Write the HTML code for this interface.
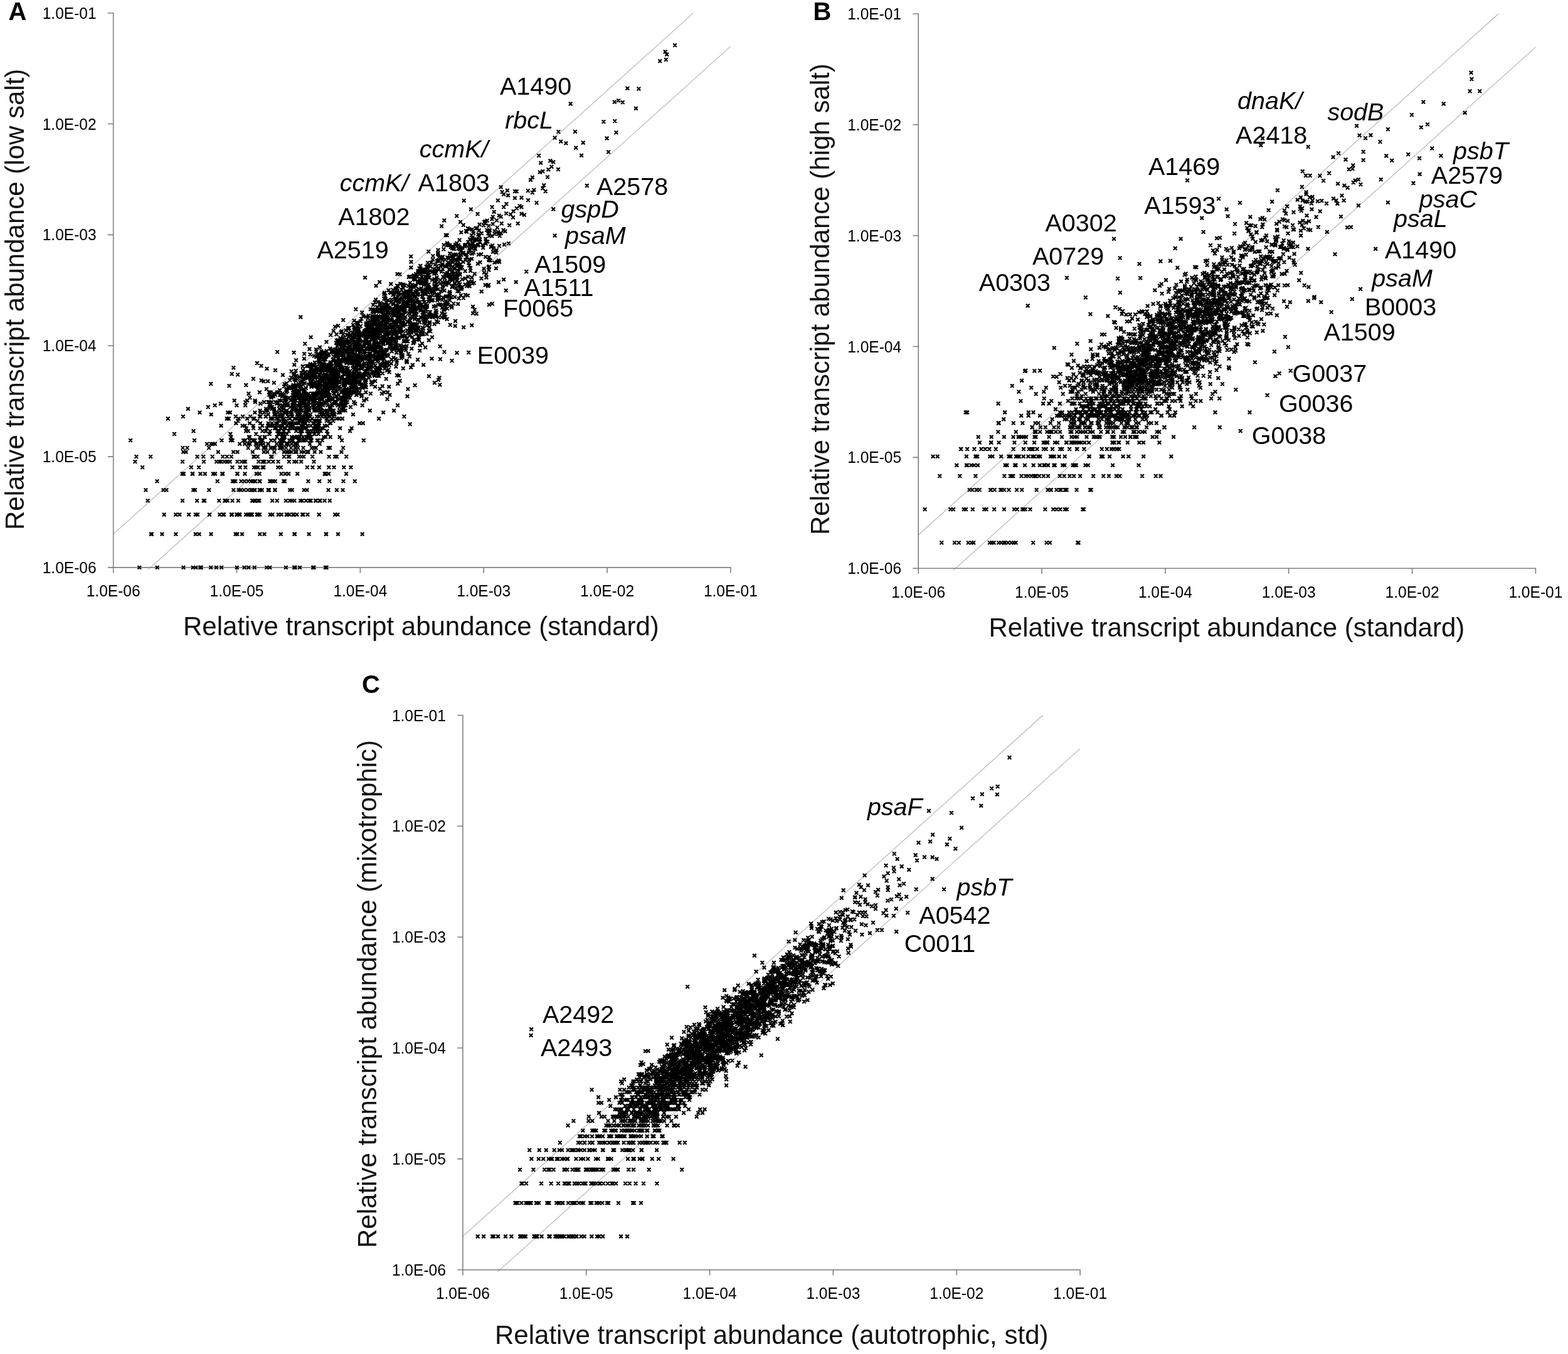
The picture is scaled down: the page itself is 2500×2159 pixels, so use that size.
<!DOCTYPE html>
<html lang="en"><head><meta charset="utf-8"><title>Relative transcript abundance scatter plots</title>
<style>html,body{margin:0;padding:0;background:#fff}body{width:2500px;height:2159px;overflow:hidden}svg{display:block}text{font-family:"Liberation Sans", Arial, Helvetica, sans-serif}</style></head><body>
<svg xmlns="http://www.w3.org/2000/svg" width="2500" height="2159" viewBox="0 0 2500 2159">
<defs><marker id="x" markerUnits="userSpaceOnUse" markerWidth="10" markerHeight="10" refX="5" refY="5" overflow="visible"><path d="M2.9 2.9L7.1 7.1M7.1 2.9L2.9 7.1" stroke="#000" stroke-width="2.3" stroke-linecap="round" fill="none"/></marker></defs>
<rect width="2500" height="2159" fill="#fff"/>
<g id="panelA">
<path d="M180.7 851.7L1105.6 20.7M236.0 908.4L1164.9 73.9" stroke="#b3b3b3" stroke-width="1.1" fill="none"/>
<path d="M180.7 19.9V913.7M171.9 904.9H1165.7M171.9 20.7h8.8M171.9 197.5h8.8M171.9 374.4h8.8M171.9 551.2h8.8M171.9 728.1h8.8M377.5 904.9v8.8M574.4 904.9v8.8M771.2 904.9v8.8M968.1 904.9v8.8M1164.9 904.9v8.8" stroke="#7f7f7f" stroke-width="1.6" fill="none"/>
<g font-size="25" fill="#000">
<text x="153.7" y="913.9" text-anchor="end" textLength="86" lengthAdjust="spacingAndGlyphs">1.0E-06</text>
<text x="153.7" y="737.1" text-anchor="end" textLength="86" lengthAdjust="spacingAndGlyphs">1.0E-05</text>
<text x="153.7" y="560.2" text-anchor="end" textLength="86" lengthAdjust="spacingAndGlyphs">1.0E-04</text>
<text x="153.7" y="383.4" text-anchor="end" textLength="86" lengthAdjust="spacingAndGlyphs">1.0E-03</text>
<text x="153.7" y="206.5" text-anchor="end" textLength="86" lengthAdjust="spacingAndGlyphs">1.0E-02</text>
<text x="153.7" y="29.7" text-anchor="end" textLength="86" lengthAdjust="spacingAndGlyphs">1.0E-01</text>
<text x="180.7" y="951.2" text-anchor="middle" textLength="86" lengthAdjust="spacingAndGlyphs">1.0E-06</text>
<text x="377.5" y="951.2" text-anchor="middle" textLength="86" lengthAdjust="spacingAndGlyphs">1.0E-05</text>
<text x="574.4" y="951.2" text-anchor="middle" textLength="86" lengthAdjust="spacingAndGlyphs">1.0E-04</text>
<text x="771.2" y="951.2" text-anchor="middle" textLength="86" lengthAdjust="spacingAndGlyphs">1.0E-03</text>
<text x="968.1" y="951.2" text-anchor="middle" textLength="86" lengthAdjust="spacingAndGlyphs">1.0E-02</text>
<text x="1164.9" y="951.2" text-anchor="middle" textLength="86" lengthAdjust="spacingAndGlyphs">1.0E-01</text>
</g>
<path d="M472.1,651.8L578.7,582.9L608.2,489.0L420.1,714.1L478.9,660.8L742.2,414.5L447.7,682.9L472.5,627.6L758.5,364.0L614.3,563.0L542.9,539.1L582.1,442.7L627.0,519.9L517.1,601.3L475.5,702.2L670.9,487.7L629.4,528.6L582.4,526.8L682.7,461.6L592.8,583.5L496.8,636.4L594.2,576.2L574.4,555.2L538.6,568.0L605.2,517.5L505.7,627.6L676.6,452.5L705.9,409.5L472.2,687.3L569.8,520.4L517.6,603.8L453.7,612.6L721.4,393.1L559.6,534.7L478.9,631.8L630.3,552.3L496.1,589.3L724.6,427.7L500.5,589.8L424.1,664.1L495.7,636.4L536.6,533.2L570.3,528.0L727.5,424.2L638.2,502.9L534.8,590.9L406.5,702.2L482.9,590.1L567.7,576.3L636.1,511.8L439.1,660.8L424.9,620.3L695.6,449.0L604.1,523.9L526.4,651.8L528.8,643.7L456.5,634.1L487.1,592.9L415.9,707.9L692.5,444.8L569.6,559.1L471.6,591.2L652.7,512.3L494.1,664.1L443.2,641.2L607.2,504.2L721.3,426.1L418.4,687.3L677.8,441.2L492.5,631.8L458.0,643.7L522.1,602.3L648.4,551.7L577.0,587.6L698.9,485.8L500.5,582.7L528.2,584.0L512.3,604.1L792.9,362.9L752.2,442.5L535.2,602.4L561.2,571.3L528.0,610.3L655.3,517.4L429.6,649.0L446.2,629.7L552.4,620.6L508.5,671.1L695.3,504.7L653.6,500.9L591.9,520.6L626.5,519.5L636.5,489.4L668.2,541.8L741.7,453.6L479.6,667.5L615.6,531.8L477.5,619.0L563.2,582.6L670.3,436.2L720.7,457.3L659.9,479.2L540.3,629.7L484.0,629.7L477.6,660.8L508.3,682.9L539.7,598.9L442.7,641.2L707.5,494.1L618.7,496.7L482.9,696.9L578.4,597.4L451.7,629.7L611.0,547.2L504.7,643.7L428.6,678.8L467.1,622.1L594.6,555.1L618.9,510.7L530.9,603.1L620.9,517.7L538.3,601.2L472.9,682.9L528.2,578.2L550.0,610.4L731.6,475.9L467.3,641.2L455.1,636.4L596.4,497.0L774.1,409.6L728.2,344.4L639.2,490.1L445.8,714.1L678.4,516.3L633.6,437.0L477.6,643.7L569.2,581.3L676.5,430.1L645.4,508.4L677.6,467.9L660.4,494.5L514.9,646.3L671.6,459.9L509.7,615.3L475.5,614.3L548.7,646.3L578.3,583.9L520.1,567.6L609.4,520.7L608.5,491.5L507.0,682.9L614.5,491.8L539.7,592.2L651.0,564.2L521.4,627.6L675.2,581.8L555.5,565.8L594.0,493.3L630.3,518.8L584.1,517.1L512.1,660.8L459.4,646.3L530.9,636.4L592.8,576.0L481.3,678.8L675.4,432.5L669.3,488.6L618.9,567.6L724.8,439.4L658.6,486.5L523.7,607.7L621.3,555.2L535.0,601.7L656.5,497.5L547.2,621.8L480.7,646.3L710.6,473.1L635.9,466.6L654.6,463.1L595.9,550.5L668.9,513.7L564.5,556.6L597.7,482.0L443.6,692.0L594.6,504.1L681.8,419.1L641.0,555.3L677.0,432.5L577.8,555.4L713.2,410.5L464.4,602.1L710.2,424.8L543.5,584.7L457.2,646.3L613.5,502.4L566.4,523.7L559.1,649.0L698.5,398.7L475.4,674.8L612.8,508.4L555.1,566.9L586.9,545.1L578.7,552.2L474.1,654.7L582.3,614.2L703.3,410.8L486.6,599.2L398.1,702.2L567.8,602.3L787.7,337.8L432.6,634.1L589.1,538.2L469.0,651.8L556.4,558.0L497.6,634.1L643.9,552.3L590.7,526.1L520.7,667.5L511.5,564.3L705.8,456.0L662.5,516.8L561.3,562.9L552.8,578.8L652.0,472.2L783.0,393.9L482.7,584.2L541.1,616.8L581.1,584.1L448.2,714.1L438.4,714.1L501.1,634.1L547.5,596.4L652.7,529.7L610.7,545.8L565.6,614.8L709.8,436.3L733.1,453.3L541.8,620.2L716.5,430.1L742.9,405.7L553.2,609.8L655.1,496.3L541.9,558.3L480.9,638.7L600.4,553.0L455.2,682.9L627.1,500.2L679.5,493.6L733.4,397.0L564.5,611.0L467.9,619.1L725.3,453.1L707.5,492.9L779.1,454.4L605.9,486.7L630.4,551.8L544.0,590.0L490.4,664.1L521.7,660.8L646.1,488.1L530.9,664.1L636.3,508.8L579.5,613.6L564.8,534.6L779.1,360.2L485.0,638.7L575.3,555.9L482.9,602.5L749.3,398.7L575.7,561.1L532.8,615.1L485.7,621.6L606.0,531.6L551.1,625.5L471.6,654.7L423.5,664.1L549.0,614.0L602.7,518.2L584.2,542.3L723.8,396.8L730.9,390.8L748.4,390.9L675.6,445.0L572.7,542.8L585.6,526.1L550.6,622.5L551.2,636.4L430.7,643.7L675.3,434.5L508.8,612.1L420.8,714.1L569.6,537.3L645.2,536.1L561.2,615.5L541.6,582.6L625.6,492.2L483.9,604.7L605.5,539.1L587.5,520.5L705.2,461.3L555.7,537.4L670.2,493.7L607.3,557.0L503.1,638.7L471.8,714.1L544.4,585.5L534.2,521.0L597.1,553.1L716.6,440.6L542.0,584.5L490.7,629.7L601.2,589.3L368.4,696.9L547.2,654.7L528.8,589.2L547.9,615.1L594.3,534.6L615.0,500.8L656.3,493.1L767.5,444.0L539.0,592.4L624.9,506.5L562.9,606.4L499.9,682.9L717.6,446.6L655.1,517.5L753.7,381.7L684.7,521.7L734.7,400.4L471.9,631.8L404.8,702.2L495.0,588.3L554.7,554.6L635.0,538.4L561.9,578.4L582.7,538.4L660.6,492.1L631.9,494.9L435.5,678.8L509.6,584.2L646.7,517.0L633.5,522.1L552.8,589.3L522.5,566.5L687.6,418.7L517.0,631.8L422.5,696.9L509.2,597.7L412.0,714.1L680.1,504.4L469.8,638.7L787.1,396.1L499.3,597.4L525.7,654.7L603.3,526.9L526.3,555.6L545.7,601.2L462.7,678.8L548.4,590.5L416.6,702.2L502.5,608.8L729.6,442.5L518.7,598.1L515.9,625.5L632.3,552.7L714.1,439.3L522.9,611.8L544.9,588.7L644.1,543.7L672.6,441.6L611.8,539.3L489.1,583.7L489.6,636.4L659.5,489.9L641.4,537.2L721.6,446.3L667.7,450.6L557.2,552.4L473.8,629.7L718.3,442.0L637.6,501.3L600.8,552.0L633.1,507.3L547.3,649.0L535.9,605.2L600.5,508.4L574.1,534.7L642.1,507.8L748.2,423.3L696.2,445.3L547.9,613.3L543.8,604.0L741.2,393.1L549.9,560.8L675.8,489.0L458.0,623.5L565.4,537.8L583.5,592.2L679.4,443.2L711.2,454.3L480.6,594.5L612.9,466.8L616.5,532.9L480.2,678.8L690.0,413.9L594.1,559.9L772.2,353.7L491.3,583.5L585.9,596.2L530.5,562.2L620.6,582.6L610.1,510.1L582.4,540.8L530.9,593.8L580.0,534.5L543.8,530.3L718.4,421.7L568.2,629.7L572.0,545.4L512.4,654.7L511.0,602.0L763.8,367.5L527.9,595.7L706.4,474.5L606.2,526.0L796.1,417.5L484.3,702.2L752.7,387.6L664.9,478.4L598.3,607.6L642.1,488.9L646.8,481.8L564.6,550.3L618.1,546.7L503.8,614.5L631.4,487.8L571.8,596.3L727.1,458.9L513.9,615.0L683.2,453.7L722.6,444.4L775.3,437.2L482.7,674.8L484.7,664.1L503.7,714.1L540.8,636.4L467.2,702.2L479.9,671.1L746.0,364.0L540.7,544.7L615.5,513.9L566.3,610.7L654.0,506.8L678.2,510.4L546.7,649.0L588.9,555.7L460.0,720.7L520.0,664.1L502.1,578.0L526.4,580.2L530.8,622.3L600.4,531.2L533.0,605.4L531.4,600.6L689.0,446.4L399.3,664.1L440.6,682.9L705.0,490.9L617.9,510.1L648.7,577.5L767.7,464.8L500.7,643.7L736.5,426.0L507.8,692.0L584.2,535.0L632.9,479.0L674.6,506.8L509.4,608.7L572.5,530.5L433.5,678.8L520.7,601.0L796.7,376.2L726.8,390.6L602.4,571.0L670.3,528.5L725.1,473.6L532.8,610.7L796.0,392.1L564.7,617.0L482.6,671.1L587.4,520.1L605.8,557.2L636.7,478.6L629.6,512.7L619.5,462.8L737.6,404.2L629.3,556.5L788.8,373.1L582.1,616.9L679.9,447.0L476.3,671.1L721.1,435.3L561.3,572.0L710.7,374.9L529.8,617.6L615.0,514.6L695.9,469.1L642.9,502.8L613.7,583.3L782.9,393.2L455.9,641.2L461.8,682.9L593.5,519.2L764.6,357.9L634.6,473.0L526.7,696.9L464.2,674.8L564.6,552.6L573.4,595.7L570.1,544.6L613.5,566.4L516.4,580.6L712.7,375.2L520.8,641.2L463.9,714.1L537.4,580.0L747.9,455.7L482.8,671.1L517.8,620.2L741.1,390.8L537.2,576.1L694.3,432.1L433.4,631.8L717.1,391.0L506.3,602.6L489.6,687.3L653.7,464.4L769.5,390.8L657.4,479.5L732.6,382.6L593.9,504.2L477.8,638.7L697.2,478.9L550.2,608.3L527.5,636.4L579.2,503.8L425.6,682.9L408.9,714.1L514.0,608.5L606.5,496.7L656.3,555.8L767.2,405.4L683.3,473.1L752.3,449.0L618.7,543.5L650.8,483.3L604.0,519.8L453.0,671.1L660.3,473.3L496.1,609.3L671.6,445.0L568.9,514.4L596.4,597.4L563.1,517.9L449.4,696.9L513.1,660.8L525.9,582.7L536.5,564.1L641.4,513.9L485.4,594.8L563.2,569.7L609.8,561.4L756.8,383.2L452.0,674.8L493.0,651.8L501.5,629.7L483.9,623.5L450.4,667.5L498.2,614.5L502.3,613.8L573.2,567.8L622.2,542.2L541.5,610.3L485.7,610.8L513.7,634.1L486.5,627.6L573.6,609.7L707.9,505.3L644.7,493.8L496.4,587.7L426.4,720.7L561.2,563.3L541.4,649.0L633.3,520.7L454.1,657.7L511.2,646.3L634.4,504.0L598.3,529.1L583.6,555.8L724.8,427.8L466.4,636.4L494.1,664.1L597.6,569.3L597.5,558.7L791.7,398.8L604.0,563.9L659.8,439.1L638.2,550.7L473.7,646.3L608.4,581.9L525.6,602.7L540.1,574.5L481.8,687.3L392.1,687.3L699.2,430.2L644.9,473.0L657.3,527.5L520.7,671.1L556.1,594.4L488.2,696.9L608.4,557.0L692.5,449.6L667.3,468.7L746.4,441.3L512.9,682.9L639.6,571.1L471.4,617.0L589.2,546.9L465.2,660.8L590.3,563.3L590.8,493.2L536.9,667.5L537.6,551.7L642.9,519.7L573.6,560.6L553.4,558.9L466.1,646.3L519.1,617.1L696.1,497.9L784.6,330.1L544.0,625.5L707.7,390.6L709.2,443.5L500.7,649.0L516.7,641.2L637.8,527.0L525.7,664.1L765.2,381.8L541.8,607.7L649.5,465.5L641.6,568.9L499.4,591.7L705.3,422.9L531.9,606.3L465.1,696.9L565.6,625.5L617.7,496.2L516.0,623.5L693.8,421.9L514.9,589.2L696.3,470.1L424.1,714.1L513.6,614.1L482.8,612.0L564.4,522.5L537.9,608.8L549.9,646.3L698.2,405.3L601.7,509.3L609.3,562.5L548.6,574.2L679.0,508.6L579.4,599.8L655.1,465.0L732.6,412.3L611.3,541.8L561.0,618.5L513.8,634.1L731.2,410.6L662.0,465.4L675.5,430.8L501.7,629.7L561.4,542.4L714.4,485.5L508.8,664.1L681.5,436.9L589.8,573.9L500.9,687.3L544.6,553.5L450.5,660.8L630.3,475.3L648.3,474.6L524.4,611.8L663.5,473.0L495.5,678.8L589.4,537.2L678.1,507.8L598.9,516.8L469.8,696.9L729.4,464.2L655.3,426.7L597.4,538.7L533.1,618.7L602.5,535.6L549.0,607.0L468.4,643.7L469.7,625.5L433.3,641.2L486.3,634.1L508.7,674.8L618.4,486.8L601.9,599.2L604.9,589.0L684.9,516.0L459.0,664.1L548.3,568.3L452.0,687.3L556.5,619.8L445.6,646.3L462.8,649.0L548.6,607.2L661.4,508.8L519.0,602.8L653.6,440.9L505.2,616.4L520.5,545.2L571.0,579.7L449.9,631.8L564.8,568.2L602.9,525.4L686.0,503.8L440.0,678.8L675.7,453.9L598.8,573.2L601.3,489.5L437.0,651.8L712.4,424.4L517.7,571.3L592.1,540.1L589.8,654.7L729.9,415.5L608.1,552.7L504.8,678.8L626.8,514.2L600.9,561.7L582.7,608.7L616.0,511.1L593.3,569.3L534.1,613.9L620.3,491.7L453.9,631.8L573.1,537.2L565.8,544.5L499.3,649.0L598.3,582.7L629.2,526.0L470.8,627.6L523.2,621.0L443.3,657.7L606.9,568.6L453.1,616.2L504.0,557.1L564.5,533.6L565.5,525.0L757.6,392.9L504.2,560.4L610.7,575.7L501.9,592.0L606.5,559.3L538.5,542.2L529.2,619.3L571.8,536.7L603.7,517.8L607.2,508.2L635.3,524.6L515.2,582.1L457.5,692.0L510.9,654.7L531.4,671.1L609.9,595.3L555.3,563.7L527.1,649.0L460.3,664.1L606.7,483.2L465.0,707.9L583.7,505.2L635.2,539.0L614.6,543.0L482.9,702.2L539.3,548.7L752.1,412.7L457.1,657.7L632.1,537.9L561.3,625.5L611.8,511.7L549.6,544.5L470.3,707.9L596.7,544.6L704.3,505.9L675.2,477.7L544.2,553.2L589.5,535.1L586.7,583.4L794.9,415.4L432.2,702.2L523.4,585.3L553.3,634.1L670.7,495.3L649.4,485.8L557.7,568.2L398.5,707.9L622.3,520.1L553.2,589.1L467.7,646.3L617.1,498.3L563.7,601.7L525.8,618.8L515.4,598.0L584.8,548.4L509.3,588.9L549.5,612.7L753.0,452.0L572.7,552.2L510.9,649.0L584.9,537.8L734.7,428.1L705.4,414.9L631.6,530.3L723.2,441.0L659.0,467.5L632.5,578.7L559.0,627.6L479.4,667.5L650.1,513.1L618.1,532.0L779.4,430.5L529.8,599.3L710.8,480.1L500.9,616.3L756.7,436.6L530.8,605.7L780.0,425.0L629.5,554.9L474.2,707.9L509.7,579.3L755.1,371.9L677.7,430.5L559.2,617.8L660.7,472.8L725.1,444.5L524.0,629.7L709.6,414.1L515.5,562.4L531.9,603.8L432.9,667.5L483.1,641.2L593.3,578.8L415.2,674.8L591.9,518.8L486.2,657.7L656.1,522.0L471.9,682.9L497.5,595.5L515.3,631.8L602.6,534.2L679.2,454.1L657.7,520.7L653.4,529.5L633.1,455.4L591.2,532.4L535.7,631.8L489.3,657.7L704.1,433.0L553.9,596.5L623.0,466.8L540.7,548.1L461.2,619.0L538.9,578.4L650.5,532.2L535.3,623.5L633.2,488.9L470.1,634.1L547.2,569.4L554.1,572.3L581.4,528.0L503.7,597.2L638.7,521.5L713.8,389.9L680.9,487.2L575.6,531.4L536.1,601.6L599.7,567.8L453.8,638.7L649.3,513.3L555.9,573.6L754.6,388.1L556.2,623.5L575.2,566.6L688.9,434.0L658.9,546.6L490.0,651.8L526.2,606.7L651.4,499.1L556.7,523.0L513.7,702.2L744.0,456.2L694.3,499.8L539.2,519.3L593.0,509.1L743.0,368.1L500.3,631.8L729.4,436.0L714.9,422.2L648.2,473.6L634.5,500.9L634.1,512.2L591.4,585.3L602.5,505.0L494.7,598.1L596.7,548.2L630.2,513.4L574.9,512.4L632.3,465.9L567.3,617.9L677.2,503.5L646.2,469.1L456.4,671.1L663.7,440.7L519.8,568.9L453.0,667.5L469.4,604.6L530.6,605.1L585.8,567.4L532.3,596.5L496.5,607.4L663.7,482.0L544.2,548.5L709.3,501.0L508.4,577.2L635.7,539.2L539.7,570.6L697.4,471.4L621.8,547.3L632.0,562.2L458.0,720.7L657.0,457.5L538.9,559.6L653.0,524.4L695.3,435.5L469.8,674.8L659.5,501.1L780.2,376.2L724.0,436.0L561.1,610.7L690.0,504.0L414.7,702.2L441.4,667.5L602.2,494.5L586.7,507.3L686.2,424.8L505.2,590.8L568.6,593.0L810.0,311.5L524.8,607.6L552.6,622.1L610.0,501.2L490.2,651.8L636.1,529.3L555.2,524.8L551.5,631.8L511.9,649.0L569.3,546.6L600.3,495.6L549.2,554.2L580.5,560.4L618.6,508.3L698.3,415.6L596.3,534.2L546.6,557.2L771.9,434.6L433.4,651.8L728.9,438.9L514.5,657.7L480.2,641.2L547.3,586.2L535.8,614.5L539.0,581.7L698.0,470.6L521.4,614.7L473.6,707.9L500.0,638.7L759.8,382.8L559.2,572.0L540.6,562.9L666.8,524.1L747.8,414.5L581.8,597.4L681.8,460.0L514.1,583.6L537.8,563.0L600.8,537.0L506.0,588.1L517.1,610.0L491.7,612.9L513.5,588.7L692.6,516.9L673.6,502.3L466.6,618.2L537.4,565.4L646.7,535.2L702.2,446.6L596.0,516.0L648.2,575.2L506.3,625.5L668.5,449.6L684.4,459.1L553.3,560.8L505.9,590.0L424.1,651.8L616.6,557.7L617.5,577.3L584.6,533.1L750.1,431.9L475.3,696.9L440.9,678.8L561.4,542.2L547.2,625.5L707.4,397.4L445.6,692.0L495.6,537.7L749.7,382.1L512.6,654.7L549.8,623.5L520.5,620.2L608.6,516.8L612.3,476.1L610.3,571.0L623.2,452.7L612.1,485.5L624.4,477.6L602.9,494.3L500.6,601.7L556.7,608.1L506.4,609.0L706.3,450.7L518.1,591.2L483.9,622.2L674.4,431.8L660.6,439.8L698.5,513.9L631.6,487.1L556.0,602.4L572.1,609.5L594.6,531.3L606.5,583.0L755.8,451.1L514.3,664.1L663.4,518.4L492.5,696.9L755.0,402.7L510.3,657.7L582.0,560.2L734.1,413.9L624.4,525.3L575.7,603.3L639.7,468.9L793.0,417.5L752.3,366.0L489.8,634.1L476.2,603.0L520.7,559.6L478.0,629.7L661.7,446.0L690.1,471.0L476.5,654.7L449.0,692.0L530.6,611.3L634.8,492.8L664.0,502.1L568.0,620.9L619.5,589.4L734.8,470.8L712.6,449.9L468.1,651.8L643.6,480.3L666.5,435.0L728.2,387.9L556.3,554.4L481.7,599.0L571.6,537.8L543.2,553.0L549.6,629.7L676.9,453.1L623.5,529.4L632.5,496.1L623.8,542.7L476.8,623.5L441.3,643.7L550.0,612.9L697.4,470.6L622.5,518.5L672.3,441.1L614.5,518.6L669.5,428.3L643.6,552.4L703.1,464.3L785.7,357.2L653.1,568.4L681.1,425.6L451.6,696.9L738.8,358.9L506.4,671.1L525.5,587.6L474.5,696.9L618.1,625.5L675.4,496.8L523.6,599.0L654.3,520.8L730.3,484.7L635.9,513.8L558.1,579.7L615.2,558.1L700.0,475.5L642.9,514.9L510.6,593.2L390.4,678.8L712.4,483.7L614.7,488.1L444.1,625.5L593.4,609.3L604.5,505.5L522.2,646.3L715.8,423.4L507.0,674.8L477.5,671.1L526.6,636.4L534.6,592.2L714.7,391.0L625.1,535.7L469.7,641.2L549.6,597.4L462.2,606.2L641.0,569.0L699.9,416.4L578.9,570.2L508.4,671.1L519.9,589.2L655.4,523.3L791.2,402.7L518.1,563.6L591.0,514.4L526.9,556.4L443.4,671.1L608.5,571.6L481.5,609.1L635.0,558.6L655.5,478.5L477.0,671.1L606.6,586.4L497.9,581.5L661.4,445.4L520.1,568.5L635.6,494.2L622.3,550.1L600.4,586.8L500.6,611.4L690.3,408.1L539.0,583.7L664.2,465.6L572.0,533.7L564.5,589.2L643.2,528.3L535.2,599.4L661.5,516.3L563.7,607.0L653.1,479.8L638.3,452.5L755.9,392.8L553.7,604.3L537.4,636.4L583.5,544.0L556.4,607.4L639.4,526.0L510.0,643.7L767.8,372.0L657.9,517.1L622.6,519.1L521.8,678.8L679.6,460.8L735.9,460.5L672.3,431.8L731.4,433.0L457.7,678.8L653.4,520.7L705.4,486.0L572.3,525.6L452.4,651.8L591.0,557.2L507.8,634.1L423.7,687.3L748.0,396.3L689.4,503.1L618.1,567.2L656.0,487.2L629.7,525.0L568.6,591.3L469.4,627.6L520.9,654.7L580.6,572.2L602.4,481.4L524.4,565.6L471.6,638.7L535.6,596.9L491.1,646.3L744.0,369.7L501.6,627.6L549.7,617.8L590.8,552.4L510.6,654.7L577.5,585.1L593.9,566.4L435.7,714.1L757.7,396.5L589.6,578.9L478.3,643.7L798.8,371.8L485.7,641.2L648.5,544.0L574.0,600.6L512.1,643.7L545.8,543.0L573.7,601.2L543.4,646.3L509.1,671.1L555.7,627.6L561.2,556.5L635.0,504.4L494.7,608.8L690.1,478.6L447.1,714.1L617.2,512.9L592.8,542.0L788.5,368.4L492.4,646.3L716.7,437.2L472.7,720.7L486.7,674.8L624.1,501.3L484.8,720.7L603.7,553.3L630.9,479.8L471.0,720.7L671.8,452.4L557.7,603.8L778.4,372.3L398.1,696.9L613.8,524.9L512.0,660.8L552.1,586.0L729.2,406.2L536.0,577.9L437.1,654.7L477.3,660.8L594.7,524.7L665.8,522.3L659.4,483.9L571.0,554.2L507.0,646.3L472.1,654.7L502.2,671.1L495.5,610.2L728.3,447.4L553.5,590.3L467.7,634.1L619.2,489.6L567.1,588.5L795.0,372.8L756.7,494.1L513.5,636.4L689.7,465.0L566.5,607.2L630.4,477.0L624.0,481.9L650.1,480.8L562.4,561.1L478.5,702.2L677.5,430.7L562.4,587.1L562.9,530.4L659.9,488.9L634.3,611.8L548.0,610.3L618.2,526.3L454.0,696.9L466.1,664.1L511.3,564.9L518.4,589.0L564.0,600.8L503.9,654.7L748.2,413.6L559.0,534.7L546.5,638.7L725.0,451.8L674.0,468.2L664.0,525.1L732.5,393.6L651.7,441.8L525.6,629.7L771.7,428.5L418.6,702.2L722.1,409.5L556.7,531.0L534.4,616.4L571.8,534.1L551.3,625.5L702.5,423.6L678.2,511.5L655.3,463.4L505.0,664.1L562.3,596.0L450.0,627.6L653.8,493.0L550.2,631.8L480.0,654.7L698.5,403.7L735.5,406.7L521.1,638.7L708.5,463.3L488.8,702.2L642.9,466.6L510.1,671.1L563.8,541.5L611.0,493.8L538.0,607.8L494.8,660.8L604.1,554.2L673.3,489.5L530.2,636.4L512.1,566.8L450.6,631.8L496.8,583.4L509.9,553.7L648.0,464.6L466.9,678.8L621.8,466.2L522.6,616.2L503.9,671.1L574.3,543.2L561.3,573.0L564.2,641.2L468.0,597.9L597.3,599.3L725.0,421.4L452.8,687.3L603.6,548.2L529.1,584.1L510.5,619.6L526.3,651.8L737.0,445.4L612.8,485.4L514.5,568.1L450.3,664.1L589.6,580.2L728.8,436.6L437.9,660.8L420.8,720.7L516.5,660.8L485.0,571.8L779.9,369.9L665.9,470.5L750.8,333.7L601.8,570.0L684.5,442.0L642.1,488.3L521.8,657.7L623.8,540.4L521.0,629.7L569.0,591.4L685.2,476.2L501.5,597.9L487.8,651.8L698.2,476.9L568.7,591.5L487.5,667.5L528.9,559.6L518.6,629.7L721.5,412.7L571.4,532.5L736.6,457.9L570.7,548.6L750.9,390.9L734.1,460.6L598.2,508.1L670.3,450.9L520.4,631.8L467.2,651.8L609.0,528.9L439.5,641.2L569.9,546.7L613.7,541.6L663.0,456.5L721.8,416.4L496.6,594.1L705.0,478.2L577.9,574.0L614.6,493.3L568.4,583.4L696.5,442.5L524.0,592.0L688.1,464.9L626.6,483.8L644.7,487.1L470.5,667.5L497.3,597.6L615.4,513.3L655.5,417.5L626.4,462.1L606.5,528.6L624.4,551.5L478.9,649.0L565.3,558.4L532.1,654.7L651.6,464.9L583.8,527.2L645.9,474.1L637.4,511.7L726.9,414.8L700.5,469.6L437.3,720.7L628.5,513.4L544.1,559.0L461.4,720.7L572.9,575.0L694.4,455.6L674.3,473.0L463.4,638.7L496.1,696.9L637.4,437.3L779.8,409.8L451.0,692.0L456.2,714.1L637.6,523.3L612.5,578.6L680.3,519.0L494.9,702.2L577.3,498.4L676.1,514.5L546.5,558.3L551.2,545.0L423.9,687.3L674.9,488.1L564.1,577.2L545.3,641.2L624.6,560.3L698.9,505.9L705.4,421.1L535.7,558.4L610.2,492.8L547.9,634.1L692.4,461.4L673.1,472.9L626.6,493.8L685.6,431.8L581.7,579.7L599.2,477.9L483.9,636.4L641.8,566.4L520.7,610.7L596.5,533.6L550.6,641.2L612.5,572.2L617.0,534.6L597.1,543.7L510.5,597.7L624.3,573.3L626.5,470.3L604.7,497.1L545.1,636.4L480.4,621.2L595.0,535.4L437.5,660.8L733.9,426.9L538.4,646.3L519.3,696.9L565.3,564.3L714.8,421.6L685.5,497.5L600.0,526.2L751.9,395.6L532.4,588.0L569.2,576.4L486.7,649.0L558.1,634.1L741.8,443.9L627.1,541.7L591.9,609.3L589.1,520.2L618.3,503.9L610.7,495.3L565.8,564.3L581.9,534.0L461.6,702.2L563.3,565.0L630.8,459.8L502.3,601.7L517.6,629.7L677.7,469.1L474.7,627.6L494.1,594.3L683.4,434.5L469.3,581.7L524.2,614.3L730.1,423.2L554.9,555.6L683.0,457.7L661.9,491.3L410.5,671.1L501.2,674.8L731.1,455.6L529.9,591.2L552.4,558.7L747.2,419.3L464.9,657.7L784.2,376.3L621.9,522.4L616.3,583.2L617.0,529.8L685.0,505.7L549.7,551.2L449.0,707.9L473.4,667.5L451.2,649.0L555.4,597.4L682.8,435.1L441.5,696.9L552.9,558.5L551.6,547.4L550.8,638.7L586.4,513.1L588.9,545.2L496.6,616.9L673.5,522.4L583.7,517.5L538.3,646.3L775.0,385.3L641.1,535.5L484.0,664.1L781.0,367.2L601.3,562.0L535.1,576.2L506.3,565.7L446.4,707.9L508.2,574.7L521.0,603.8L536.1,575.4L807.4,325.2L605.5,586.9L493.1,654.7L543.3,634.1L560.2,545.5L453.8,696.9L570.1,577.4L581.2,551.5L729.7,431.0L560.5,594.4L635.3,470.0L632.4,490.3L487.8,619.0L598.1,616.6L564.8,552.9L483.9,671.1L415.2,657.7L457.0,654.7L716.1,471.9L542.2,547.1L453.1,643.7L775.5,442.5L626.2,496.2L552.6,541.1L692.0,502.9L641.7,471.2L555.6,567.6L645.2,454.9L652.2,468.7L486.9,671.1L644.7,493.9L734.1,353.9L635.0,482.2L675.5,508.8L674.3,430.9L570.5,570.7L596.6,506.2L662.8,525.0L617.5,547.9L447.9,629.7L442.3,674.8L516.4,582.2L683.3,401.1L501.8,692.0L529.3,597.0L685.4,497.7L472.2,613.7L518.4,584.3L511.8,631.8L653.9,470.9L529.7,616.3L553.4,608.5L533.1,643.7L445.3,692.0L695.1,430.3L474.3,629.7L520.0,600.2L646.2,543.6L537.3,623.5L580.8,546.2L532.3,590.3L596.0,594.9L528.8,657.7L566.8,551.6L404.1,682.9L580.8,529.3L682.8,438.7L677.0,496.3L585.8,579.0L621.2,539.2L629.7,500.4L649.3,485.3L536.0,546.6L564.1,557.7L667.4,433.8L500.1,627.6L459.3,616.9L723.1,484.1L720.2,490.3L733.0,425.0L484.8,667.5L658.4,519.1L520.9,582.8L515.9,696.9L716.3,468.2L661.8,444.5L561.2,600.2L804.1,390.0L599.0,593.4L646.4,505.4L434.3,678.8L675.0,497.8L692.0,429.0L713.1,387.6L614.3,471.7L427.8,707.9L706.0,428.9L557.4,535.5L494.4,582.4L497.9,627.6L495.9,596.6L682.2,425.5L735.3,370.5L406.4,657.7L646.9,488.2L504.4,569.3L583.1,546.5L488.5,602.2L723.6,410.3L481.6,682.9L569.7,558.1L610.3,535.8L566.0,610.6L500.2,674.8L521.2,597.4L747.0,449.6L470.9,619.3L729.1,420.8L715.9,411.9L634.2,554.5L571.1,526.7L761.9,420.5L554.9,634.1L561.0,538.0L587.1,555.2L592.6,613.0L717.0,478.7L446.3,702.2L699.5,410.0L585.2,516.8L650.2,544.2L555.1,523.1L523.0,623.5L533.8,619.0L516.9,577.4L566.0,600.8L607.1,566.8L688.8,479.3L487.6,618.7L565.1,572.4L588.0,567.9L683.3,500.7L642.6,453.5L614.7,476.9L630.7,572.5L564.6,511.3L678.4,441.4L691.7,488.9L597.8,511.9L467.8,613.9L558.5,599.8L514.1,621.0L493.0,687.3L523.1,616.0L683.8,443.0L537.1,567.8L559.5,627.6L546.6,646.3L490.8,598.8L599.3,507.7L555.9,563.7L748.6,456.3L613.2,539.5L701.8,485.3L576.3,616.9L405.8,702.2L499.2,601.4L468.7,646.3L652.1,487.5L621.4,516.9L530.2,654.7L573.5,550.0L659.0,547.3L523.6,581.7L486.8,674.8L520.7,625.5L754.4,368.4L593.9,528.8L520.4,619.2L446.6,671.1L533.4,608.7L611.9,581.0L566.9,546.3L680.8,489.0L599.0,513.2L536.3,578.0L673.6,462.9L456.2,625.5L660.1,542.3L713.4,422.4L666.3,481.3L460.5,674.8L602.1,505.3L676.6,481.7L554.5,533.9L694.7,457.3L485.0,627.6L587.0,531.1L595.5,566.8L671.0,533.3L554.6,544.8L512.3,562.8L643.2,498.4L466.7,629.7L542.6,539.9L570.0,542.0L670.8,505.8L558.1,552.5L596.6,539.4L632.0,518.3L631.1,515.6L774.3,380.7L568.7,569.4L599.4,503.7L409.8,707.9L493.0,641.2L509.6,570.5L498.7,646.3L584.3,522.0L495.2,634.1L598.9,561.7L686.6,501.9L448.8,702.2L507.9,590.4L578.0,574.4L433.8,649.0L477.3,600.6L600.3,546.9L551.2,576.2L726.0,405.7L599.0,570.5L659.1,519.7L536.6,612.8L545.1,641.2L699.1,429.0L612.3,504.6L732.8,436.6L510.6,636.4L466.9,641.2L631.6,545.6L470.8,634.1L450.4,660.8L548.7,557.7L634.6,480.3L540.5,579.5L657.7,471.6L566.5,614.5L519.8,566.3L588.6,557.1L609.1,582.8L479.6,651.8L605.2,449.7L485.8,646.3L779.8,367.1L587.8,602.5L497.0,687.3L431.4,625.5L499.7,602.3L529.1,559.4L599.9,506.6L627.2,485.4L643.0,459.4L562.6,540.1L616.8,505.4L594.1,566.8L523.0,660.8L501.0,654.7L551.1,591.8L635.7,496.9L474.2,696.9L618.6,532.4L490.5,671.1L629.2,503.2L679.1,507.0L662.9,501.5L633.6,534.0L511.1,589.3L807.2,340.3L608.0,514.3L730.0,413.4L748.5,365.3L506.7,617.7L781.8,415.2L452.9,682.9L619.0,499.0L511.9,627.6L458.5,707.9L598.7,527.6L499.1,636.4L670.3,423.9L568.3,625.5L515.6,682.9L636.4,510.0L618.7,478.8L677.9,462.7L546.8,592.4L733.1,457.4L414.8,707.9L735.7,399.5L662.0,454.6L462.0,667.5L456.7,707.9L656.9,454.1L508.3,682.9L636.1,502.2L691.5,429.0L468.1,623.5L530.8,573.4L720.9,395.9L572.7,575.5L480.7,616.6L455.4,634.1L470.0,600.2L463.4,674.8L539.6,617.1L666.5,509.8L565.9,532.3L460.3,687.3L538.4,582.7L574.4,572.5L564.6,625.5L620.2,490.9L632.7,496.1L655.7,483.1L589.0,525.0L421.3,657.7L663.8,496.0L669.0,484.8L649.2,469.9L561.6,538.9L716.3,429.2L459.5,707.9L653.0,535.4L606.6,543.1L639.2,564.2L446.1,622.2L779.8,414.9L421.6,696.9L488.4,601.3L583.6,606.1L599.7,557.0L488.7,682.9L520.5,629.7L733.2,397.6L529.9,603.7L563.7,622.1L465.7,674.8L598.6,589.2L639.4,560.2L653.2,511.4L505.0,594.1L542.9,590.2L624.3,521.9L785.8,345.6L663.9,462.6L501.1,651.8L445.2,651.8L531.8,590.6L587.2,586.6L516.2,618.3L671.7,460.1L511.8,625.5L470.4,714.1L608.5,583.3L660.3,445.2L496.9,614.5L533.3,660.8L512.7,603.5L420.2,707.9L633.4,465.3L436.8,651.8L611.3,512.6L615.9,533.7L587.4,572.8L431.3,714.1L427.6,641.2L583.1,528.1L576.3,508.3L396.9,696.9L665.2,527.0L530.8,560.7L644.9,497.7L495.0,671.1L514.4,592.1L722.7,455.7L494.8,580.3L553.6,546.8L578.5,544.3L643.1,482.9L529.7,557.6L622.7,521.5L501.9,678.8L632.9,491.0L491.5,720.7L461.9,657.7L655.9,530.3L568.9,577.6L669.1,446.9L788.5,418.7L491.3,602.3L663.6,490.2L784.4,349.3L526.6,609.0L451.0,671.1L568.3,597.5L591.0,519.1L635.1,493.8L599.1,509.5L524.5,585.3L483.8,641.2L535.0,582.5L570.3,565.9L491.1,720.7L523.7,629.7L714.7,418.5L557.8,627.6L470.9,634.1L627.8,532.2L539.1,596.9L583.1,613.9L549.4,550.5L466.9,616.0L651.9,475.8L598.5,495.8L601.0,537.1L558.4,610.7L560.9,609.0L646.8,483.2L507.8,651.8L551.3,526.6L473.8,660.8L597.9,525.3L561.6,607.1L431.5,667.5L504.3,613.0L550.1,544.1L587.9,554.7L458.0,720.7L613.5,490.4L683.1,480.9L533.1,660.8L445.8,678.8L478.5,664.1L661.3,488.4L588.0,563.9L474.8,657.7L485.6,638.7L689.8,505.8L632.3,562.4L637.6,504.1L476.3,674.8L511.1,605.7L538.8,598.7L505.3,643.7L753.6,378.5L617.2,590.8L594.0,506.0L555.2,621.6L644.9,517.7L570.2,581.3L568.3,629.7L480.3,638.7L685.6,460.8L445.5,687.3L728.3,447.8L734.1,405.7L585.5,587.1L484.1,678.8L500.7,567.6L476.1,682.9L639.4,515.5L541.2,578.1L535.4,568.8L532.2,575.1L631.4,546.3L711.6,440.3L586.4,590.2L469.7,596.3L486.5,634.1L644.2,544.6L662.4,505.8L599.8,532.3L668.6,461.3L630.8,502.7L593.0,593.4L679.1,445.9L496.6,616.1L480.7,636.4L526.7,651.8L547.2,510.4L759.6,381.0L686.2,528.0L654.5,473.8L718.8,393.9L546.8,569.9L728.4,424.2L491.0,671.1L545.3,574.5L526.2,584.5L493.4,556.5L749.1,381.7L548.8,631.8L706.8,441.6L606.7,553.5L560.5,600.6L667.8,535.0L529.3,619.3L522.0,625.5L458.3,643.7L571.7,588.6L753.3,387.0L716.2,451.8L607.6,544.9L518.5,611.0L722.8,405.9L741.7,432.3L786.0,401.6L568.6,572.8L555.3,599.6L627.5,570.4L717.3,404.2L537.7,603.9L532.8,614.8L553.7,641.2L692.9,434.5L567.2,572.5L569.7,515.3L617.6,565.4L679.4,463.0L640.9,476.2L533.3,627.6L522.6,565.1L533.1,591.6L588.0,588.4L680.2,449.1L391.2,646.3L609.3,568.6L694.6,487.9L596.4,518.2L546.2,634.1L571.7,595.1L583.0,547.3L615.8,604.2L450.0,678.8L672.7,430.9L593.6,529.9L517.6,598.3L733.5,438.1L550.9,594.8L665.8,440.6L523.3,590.3L592.6,528.9L492.4,593.9L516.7,561.6L532.1,627.6L477.5,646.3L660.4,484.1L565.2,594.4L536.9,543.0L603.3,563.5L504.2,627.6L561.7,560.1L598.2,513.1L612.5,469.2L557.5,577.1L654.0,450.7L705.7,456.9L774.1,353.2L596.1,532.7L776.3,366.9L750.0,427.5L624.6,546.4L474.3,682.9L620.2,616.7L587.7,503.3L640.0,492.7L515.9,599.2L536.7,562.6L517.4,563.8L572.7,581.0L633.0,491.0L512.7,664.1L553.1,629.7L626.6,540.7L657.5,537.4L734.3,421.0L593.6,511.4L773.4,356.2L519.0,573.1L610.4,525.5L659.3,456.5L670.5,487.5L683.7,527.4L596.7,539.9L739.0,475.0L638.9,560.7L542.3,682.9L678.5,484.8L584.2,515.4L633.5,459.8L637.9,497.4L666.8,522.5L682.4,457.7L495.6,597.1L427.8,674.8L569.1,581.6L776.8,351.6L564.0,598.4L739.1,402.8L522.1,623.5L476.9,702.2L553.1,534.3L694.8,495.2L778.9,426.4L589.8,599.5L545.9,570.1L670.7,532.5L558.3,547.3L524.6,588.0L658.8,441.5L453.7,692.0L666.5,432.1L764.0,376.7L462.2,674.8L668.5,428.0L414.7,654.7L470.8,605.5L522.0,583.9L438.2,657.7L566.8,585.6L563.0,572.6L488.4,631.8L506.1,627.6L724.6,428.8L591.1,587.1L643.5,473.9L654.2,514.9L630.8,492.9L679.5,430.2L713.2,435.0L476.8,625.5L456.4,621.7L566.1,572.6L464.1,678.8L605.0,525.2L752.7,404.7L583.1,539.8L485.6,682.9L467.7,678.8L587.9,580.4L654.1,492.5L678.3,494.1L658.7,469.9L569.1,527.1L710.0,483.3L590.5,575.6L633.5,498.1L370.6,702.2L576.3,535.7L455.4,674.8L499.1,605.4L524.4,671.1L599.9,526.3L450.7,646.3L643.2,494.4L549.9,604.6L500.7,692.0L765.6,418.2L626.4,528.2L533.9,641.2L470.0,646.3L576.1,612.7L664.6,491.1L582.3,571.5L526.7,577.6L466.2,617.2L502.4,586.4L671.8,531.6L482.8,678.8L649.2,526.6L552.2,578.4L492.1,641.2L569.3,573.4L762.5,374.0L468.5,597.7L508.1,687.3L450.8,678.8L647.2,487.8L760.9,363.9L595.0,486.2L523.4,599.7L774.6,388.5L603.9,596.1L770.3,395.2L544.0,638.7L478.1,687.3L447.4,682.9L514.8,562.6L560.5,623.5L661.5,496.0L570.3,553.1L515.4,588.5L724.0,397.0L600.9,537.0L608.5,505.3L684.1,421.8L629.5,544.2L507.5,625.5L762.7,390.2L483.4,678.8L483.1,643.7L622.6,532.4L602.6,552.8L504.0,634.1L639.9,562.3L460.8,634.1L572.0,600.3L757.4,396.8L721.4,430.9L608.9,528.0L673.0,431.9L627.1,522.9L505.1,584.1L701.6,452.1L611.0,548.5L606.5,581.5L763.1,406.0L595.7,497.8L531.1,586.8L557.5,554.8L594.7,515.4L708.3,351.5L694.0,460.1L550.7,573.5L575.7,587.0L619.5,540.6L676.8,504.5L494.8,692.0L618.5,522.8L476.2,634.1L692.4,464.8L649.6,488.8L746.9,452.3L519.6,604.5L486.3,631.8L599.1,540.5L684.5,474.1L496.7,702.2L473.8,696.9L479.0,612.4L640.3,462.3L435.9,631.8L557.3,592.5L489.9,678.8L668.0,433.5L494.4,634.1L664.6,519.5L583.3,542.5L467.1,682.9L810.9,388.2L543.4,543.5L556.7,543.3L653.5,496.5L576.8,629.7L688.3,478.5L589.0,530.1L508.7,570.9L589.0,549.8L692.3,456.3L518.5,620.9L618.5,531.7L601.7,506.3L636.8,501.8L540.4,581.5L503.2,651.8L627.5,555.6L696.5,453.2L571.0,515.1L475.0,674.8L677.3,434.2L586.8,536.8L633.3,488.1L461.6,702.2L669.7,433.5L543.8,643.7L717.9,444.7L509.3,646.3L386.6,678.8L529.3,560.5L647.3,465.1L645.9,496.2L696.5,416.1L498.5,641.2L605.9,591.2L448.9,654.7L502.6,629.7L433.6,649.0L616.4,482.5L721.1,457.6L608.1,496.5L608.5,494.0L726.0,390.4L532.2,606.2L595.0,593.0L679.7,425.4L493.7,602.6L640.2,514.1L450.9,714.1L543.1,579.8L490.9,692.0L560.2,542.4L496.7,600.0L442.9,667.5L563.6,574.8L548.7,545.3L650.8,484.4L618.5,542.8L432.6,678.8L574.9,520.1L730.5,396.4L575.5,569.4L572.6,583.2L448.0,649.0L670.4,428.1L514.6,657.7L570.7,530.3L646.6,555.3L672.3,485.2L547.5,651.8L511.4,720.7L613.7,515.2L709.1,449.4L455.9,657.7L433.6,674.8L631.6,478.0L599.6,455.7L512.5,606.1L514.2,585.9L663.0,436.8L507.3,646.3L541.1,563.2L665.6,465.2L528.0,602.6L439.0,629.7L654.1,457.6L635.2,500.3L471.7,607.3L648.7,540.5L614.7,516.0L542.6,646.3L601.3,533.5L579.7,601.1L673.1,450.5L761.5,341.2L535.2,602.1L541.7,579.4L607.6,547.2L511.8,569.7L481.3,654.7L499.0,638.7L696.8,424.0L643.8,536.1L471.0,620.9L523.9,636.4L515.9,571.9L466.0,682.9L692.4,436.5L521.0,629.7L597.4,549.4L546.5,591.1L447.5,664.1L426.8,654.7L637.3,481.3L616.1,522.3L576.8,556.0L488.5,664.1L535.1,556.8L580.9,565.0L500.1,674.8L600.8,516.0L692.7,503.9L488.7,646.3L744.4,409.8L581.1,559.9L779.3,413.9L444.3,664.1L633.1,529.2L508.0,565.0L614.0,485.3L717.8,467.9L567.3,493.1L623.8,510.7L628.6,467.4L491.8,627.6L558.4,554.4L521.6,623.5L574.1,557.2L661.2,522.1L477.9,631.8L594.0,496.8L580.1,580.9L547.2,538.5L693.7,459.2L537.8,558.3L675.7,451.5L447.8,714.1L562.1,530.5L464.6,720.7L696.0,458.3L627.5,513.8L499.1,597.8L543.8,591.6L471.6,682.9L715.2,411.2L719.5,473.8L719.3,417.1L609.4,566.1L514.1,627.6L566.7,611.2L627.6,469.4L558.3,571.2L441.0,707.9L586.0,515.9L455.7,657.7L505.7,631.8L682.8,466.5L611.8,523.2L674.5,466.0L632.2,539.0L625.3,554.7L509.2,646.3L641.9,489.5L471.3,674.8L408.2,692.0L534.8,600.3L481.9,667.5L637.4,529.1L520.0,619.1L666.1,448.7L747.3,403.2L642.8,587.4L765.2,385.3L669.0,481.5L743.1,390.2L630.2,488.3L669.7,488.0L673.9,533.1L467.7,616.7L529.5,608.3L612.7,559.3L529.9,657.7L708.8,506.6L471.9,707.9L531.7,568.1L535.8,598.6L689.6,466.1L403.7,678.8L687.2,462.4L785.2,391.4L761.9,391.4L626.2,532.3L473.3,631.8L689.0,537.6L468.6,562.2L547.0,651.8L506.7,620.7L547.1,533.3L478.2,609.1L545.6,552.5L598.5,554.7L569.0,527.8L585.0,547.5L719.8,408.4L698.3,461.3L466.2,634.1L651.1,456.1L674.2,531.1L729.4,422.1L549.4,545.1L738.6,417.6L595.1,508.9L570.2,602.3L581.2,562.0L554.7,611.0L635.8,478.1L587.9,576.3L711.5,472.7L570.3,542.6L437.8,702.2L481.9,664.1L554.8,587.4L571.0,520.4L681.3,431.7L604.9,569.5L486.1,603.3L524.7,611.3L589.1,564.6L673.1,547.9L642.1,458.3L619.9,540.2L511.5,687.3L599.0,546.1L508.6,678.8L659.7,500.7L623.0,466.2L655.5,528.9L510.7,566.8L559.6,569.6L535.0,606.1L583.3,625.5L544.4,576.5L435.0,667.5L540.0,657.7L604.5,535.9L488.0,657.7L489.2,649.0L504.8,614.5L653.6,474.8L661.8,440.8L575.4,599.7L439.0,590.4L751.7,375.1L706.7,441.6L524.4,610.1L576.6,569.7L485.7,702.2L545.9,667.5L551.3,646.3L527.2,534.2L732.0,450.1L548.5,565.7L465.9,651.8L600.3,521.8L717.0,465.3L504.6,687.3L581.0,592.1L545.3,563.8L631.1,489.8L527.4,594.1L511.4,576.5L771.1,359.3L685.5,473.6L640.2,519.2L624.9,494.6L746.4,385.9L440.6,664.1L562.5,530.5L614.6,487.2L472.2,631.8L634.6,456.3L659.9,443.7L777.3,385.3L601.3,506.1L731.8,464.4L544.0,566.0L737.5,395.2L581.0,528.9L666.0,573.5L516.1,643.7L572.3,619.6L594.9,576.6L503.8,614.3L450.0,702.2L437.4,714.1L550.2,574.2L430.7,646.3L466.6,678.8L414.7,682.9L605.2,568.6L488.6,643.7L597.9,493.4L547.1,714.1L529.9,657.7L514.9,608.0L470.5,625.5L522.4,692.0L445.8,678.8L491.3,664.1L578.7,674.8L563.0,660.8L499.2,641.2L541.5,654.7L544.5,720.7L490.2,720.7L506.2,654.7L566.3,643.7L465.1,696.9L415.3,643.7L530.2,634.1L529.6,667.5L500.1,714.1L576.9,599.9L509.8,579.1L506.1,682.9L552.0,631.8L475.0,657.7L475.2,714.1L634.0,646.3L496.8,714.1L523.6,714.1L485.7,646.3L590.8,627.6L521.2,687.3L382.2,707.9L581.5,606.2L477.9,696.9L613.4,587.8L545.1,702.2L497.5,667.5L567.1,608.8L471.2,720.7L469.1,696.9L584.4,636.4L631.4,584.6L506.5,682.9L541.5,696.9L372.1,720.7L503.4,682.9L475.1,657.7L536.3,641.2L580.1,598.2L475.4,625.5L683.9,599.8L603.2,574.6L429.8,692.0L446.0,660.8L595.5,556.2L487.0,674.8L489.6,696.9L481.9,702.2L452.8,720.7L509.8,707.9L602.5,592.5L518.4,664.1L451.5,674.8L630.5,531.9L474.7,664.1L501.7,720.7L503.8,714.1L526.2,664.1L526.0,612.3L591.1,568.1L449.9,707.9L526.1,674.8L479.7,692.0L649.5,631.8L418.6,702.2L453.2,720.7L552.7,625.5L427.0,678.8L432.7,714.1L555.4,599.0L548.8,646.3L483.1,671.1L490.6,720.7L457.2,707.9L507.1,702.2L577.7,646.3L477.3,667.5L517.7,678.8L509.0,638.7L429.3,692.0L540.7,667.5L628.1,654.7L585.3,570.2L476.7,682.9L610.8,537.5L395.9,687.3L526.2,714.1L451.3,702.2L542.1,657.7L505.2,678.8L445.6,638.7L480.4,720.7L603.1,538.4L614.2,530.5L501.4,671.1L414.4,696.9L532.1,560.8L616.3,530.3L641.5,534.7L561.4,625.5L558.1,687.3L421.2,641.2L573.4,674.8L407.7,707.9L483.5,714.1L523.6,664.1L538.2,589.0L491.2,667.5L509.9,612.0L545.2,602.5L505.9,702.2L604.5,514.3L430.5,687.3L560.6,682.9L561.3,612.2L621.4,629.7L427.1,607.9L398.1,674.8L436.7,651.8L430.9,649.0L420.4,608.2L452.8,702.2L513.7,629.7L440.0,674.8L392.3,614.0L466.4,671.1L465.6,664.1L459.9,618.3L416.7,606.6L361.7,667.5L452.1,674.8L379.1,597.4L418.1,678.8L403.0,702.2L404.0,604.0L387.0,664.1L456.8,611.2L482.5,671.1L441.9,625.5L425.5,587.9L388.1,702.2L524.3,634.1L428.9,641.2L497.5,611.8L436.8,627.6L394.1,667.5L486.3,548.1L377.4,646.3L351.8,643.7L379.2,671.1L398.4,634.1L292.3,720.7L364.7,667.5L450.9,597.9L531.8,527.5L482.2,634.1L464.7,592.2L365.4,615.2L448.7,638.7L407.0,641.2L402.8,720.7L310.0,702.2L422.2,714.1L472.1,574.4L413.9,625.5L367.4,692.0L299.9,651.8L366.8,657.7L392.7,682.9L378.6,720.7L367.8,702.2L395.8,707.9L331.8,649.0L416.5,583.3L467.4,636.4L429.8,641.2L373.7,638.7L427.3,707.9L427.7,660.8L442.2,561.2L436.8,610.3L530.8,604.6L472.5,599.0L456.8,636.4L394.1,638.7L380.5,667.5L415.4,664.1L336.5,707.9L429.0,625.5L406.6,638.7L465.2,702.2L339.3,707.9L390.9,702.2L512.3,559.8L395.7,714.1L448.8,654.7L363.3,657.7L431.7,631.8L429.5,629.7L390.2,707.9L405.4,667.5L409.9,579.0L423.7,687.3L442.1,687.3L347.9,720.7L396.4,627.6L479.3,505.5L519.2,613.3L485.2,564.2L424.3,654.7L438.1,682.9L333.1,714.1L544.7,528.2L413.9,664.1L479.7,687.3L404.2,667.5L376.3,674.8L494.5,565.1L342.8,707.9L483.7,674.8L267.8,667.5L336.2,612.0L352.5,678.8L208.1,702.2L477.8,682.9L330.1,707.9L369.6,596.3L296.6,720.7L308.5,687.3L336.7,660.8L375.7,664.1L318.4,657.7L298.6,714.1L291.9,664.1L291.4,714.1L372.3,586.4L342.6,646.3L391.4,641.2L353.5,702.2L278.0,692.0L726.1,511.9L635.9,598.8L620.7,593.4L687.1,503.4L604.3,599.4L778.2,456.0L657.9,581.8L603.4,599.2L573.4,625.5L493.1,692.0L708.4,493.6L604.1,667.5L640.8,556.4L655.0,523.4L741.9,470.1L655.2,585.8L573.3,608.5L579.8,702.2L639.5,554.8L566.4,611.4L754.0,488.8L580.3,638.7L555.9,634.1L617.5,636.4L674.9,524.1L701.7,552.4L517.4,654.7L701.3,613.6L712.6,508.9L633.0,574.9L663.2,532.9L685.2,513.7L739.2,521.9L673.2,526.3L612.3,625.5L667.4,537.6L708.5,561.1L683.8,542.5L609.5,581.1L631.3,547.0L576.4,631.8L754.1,499.6L550.5,654.7L696.0,512.2L590.8,572.0L527.0,674.8L611.2,657.7L633.0,598.4L725.7,519.7L752.2,518.7L525.2,638.7L495.8,702.2L676.2,511.4L601.1,576.2L609.7,615.7L623.7,579.7L617.8,579.5L710.2,505.1L605.8,619.9L665.7,541.2L745.9,471.2L624.2,573.4L650.4,620.3L704.6,499.6L535.5,641.2L669.3,559.2L583.6,617.5L490.1,660.8L529.7,646.3L720.5,575.1L588.1,596.6L668.0,510.0L720.1,487.8L713.1,492.0L647.1,558.3L648.6,576.8L712.8,482.5L713.9,472.7L477.5,682.9L578.9,600.2L494.0,707.9L717.8,518.0L773.8,454.5L578.1,618.5L680.4,532.6L529.6,660.8L608.8,627.6L791.0,427.8L573.5,612.4L669.8,550.8L571.4,627.6L709.6,487.4L660.6,544.8L637.6,607.3L663.0,527.1L644.4,664.1L795.0,449.8L583.6,591.4L566.5,605.4L688.4,571.8L531.2,660.8L661.6,614.4L657.3,506.5L678.2,553.9L759.6,500.3L389.6,904.9L518.9,904.9L344.9,904.9L396.3,904.9L250.7,904.9L469.1,904.9L430.2,904.9L312.2,904.9L319.3,904.9L478.0,904.9L320.7,904.9L455.8,904.9L500.5,904.9L405.7,904.9L499.0,904.9L470.5,904.9L353.1,904.9L377.8,904.9L425.2,904.9L520.5,904.9L222.3,904.9L292.5,904.9L307.7,904.9L336.1,904.9L258.4,851.7L386.0,851.7L240.9,851.7L280.3,851.7L421.5,851.7L414.3,851.7L311.8,851.7L539.0,851.7L492.6,851.7L447.7,851.7L577.7,851.7L375.6,851.7L317.6,851.7L378.3,851.7L469.3,851.7L519.8,851.7L520.2,851.7L241.9,851.7L336.5,851.7L470.0,851.7L382.4,820.5L483.3,820.5L369.9,820.5L311.8,820.5L401.3,820.5L356.9,820.5L448.8,820.5L369.0,820.5L395.4,820.5L538.4,820.5L456.8,820.5L301.1,820.5L508.7,820.5L467.3,820.5L401.7,820.5L461.3,820.5L350.3,820.5L482.1,820.5L430.9,820.5L377.3,820.5L410.6,820.5L400.3,820.5L457.7,820.5L356.1,820.5L381.0,820.5L398.7,820.5L534.3,820.5L286.3,820.5L443.8,820.5L334.0,820.5L392.1,820.5L409.7,820.5L411.3,820.5L468.5,820.5L473.3,820.5L261.7,820.5L434.4,820.5L280.2,820.5L315.0,820.5L414.0,820.5L490.4,820.5L378.1,820.5L495.6,798.4L493.5,798.4L349.2,798.4L314.1,798.4L481.8,798.4L402.9,798.4L441.8,798.4L411.7,798.4L509.8,798.4L370.5,798.4L326.1,798.4L465.6,798.4L455.8,798.4L379.9,798.4L488.0,798.4L413.4,798.4L510.4,798.4L407.6,798.4L406.3,798.4L324.6,798.4L479.0,798.4L362.7,798.4L525.8,798.4L469.5,798.4L358.4,798.4L503.1,798.4L462.1,798.4L291.0,798.4L406.0,798.4L359.5,798.4L434.2,798.4L503.8,798.4L517.6,798.4L402.1,798.4L235.6,798.4L389.0,781.3L406.4,781.3L536.9,781.3L401.9,781.3L414.6,781.3L413.8,781.3L417.7,781.3L333.3,781.3L308.2,781.3L395.2,781.3L523.6,781.3L405.5,781.3L400.3,781.3L465.8,781.3L380.5,781.3L489.4,781.3L438.6,781.3L428.0,781.3L438.4,781.3L383.7,781.3L484.7,781.3L232.4,781.3L311.0,781.3L462.2,781.3L265.4,781.3L429.0,781.3L427.7,781.3L260.5,781.3L372.3,781.3L546.5,781.3L452.2,767.3L389.8,767.3L346.7,767.3L438.9,767.3L413.7,767.3L250.5,767.3L406.9,767.3L414.4,767.3L375.4,767.3L406.3,767.3L370.8,767.3L525.4,767.3L432.3,767.3L384.5,767.3L395.8,767.3L454.0,767.3L547.5,767.3L406.7,767.3L430.2,767.3L403.2,767.3L435.7,767.3L373.1,767.3L565.7,767.3L400.2,767.3L509.3,767.3L491.4,767.3L448.6,755.5L354.2,755.5L355.2,755.5L292.9,755.5L306.8,755.5L454.9,755.5L326.8,755.5L518.9,755.5L319.5,755.5L474.2,755.5L290.7,755.5L390.5,755.5L413.6,755.5L378.5,755.5L378.3,755.5L517.7,755.5L408.9,755.5L552.1,755.5L339.9,755.5L524.0,755.5L460.1,755.5L519.3,755.5L307.1,755.5L343.0,755.5L532.5,745.2L304.9,745.2L420.1,745.2L548.3,745.2L382.8,745.2L370.4,745.2L508.9,745.2L391.3,745.2L443.3,745.2L407.9,745.2L317.0,745.2L559.4,745.2L411.2,745.2L489.9,745.2L418.8,745.2L498.4,745.2L447.7,745.2L419.1,745.2L420.1,745.2L404.8,745.2L227.1,745.2L524.3,745.2L388.9,736.2L378.5,736.2L419.7,736.2L421.6,736.2L443.6,736.2L412.3,736.2L345.1,736.2L472.7,736.2L385.1,736.2L428.5,736.2L469.2,736.2L215.4,736.2L366.7,736.2L418.8,736.2L435.3,736.2L324.9,736.2L362.9,736.2L357.6,736.2L391.0,736.2L349.7,736.2L480.2,736.2L291.0,736.2L352.4,736.2L361.4,736.2L500.5,736.2L460.8,736.2L314.5,728.1L338.7,728.1L217.4,728.1L405.9,728.1L361.9,728.1L240.1,728.1L355.2,728.1L410.8,728.1L480.6,728.1L498.2,728.1L432.1,728.1L404.3,728.1L534.1,728.1L459.7,728.1L461.4,728.1L452.9,728.1L433.4,728.1L368.9,728.1L476.8,728.1L324.3,728.1L524.6,728.1L552.2,728.1L484.3,728.1L536.9,728.1L1076.1,72.1L1060.7,82.5L1063.2,86.9L1061.8,95.1L1052.2,97.4L1000.4,140.8L1018.4,141.6L979.8,162.6L986.1,160.3L992.7,163.2L1013.9,172.9L909.7,165.5L962.4,194.1L980.2,193.1L982.5,211.3L967.6,220.5L970.1,242.4L890.4,210.1L917.0,209.9L884.6,219.6L894.2,225.6L902.4,228.3L929.8,227.5L918.2,235.6L927.1,247.8L859.1,248.1L862.2,259.7L877.3,256.3L882.3,258.4L879.4,265.9L874.4,270.3L890.0,270.0L860.8,274.6L865.3,273.2L873.0,282.3L846.0,286.8L848.9,282.9L867.2,295.4L865.3,300.3L869.7,305.1L851.4,302.8L848.9,307.0L841.7,304.1L798.7,298.3L800.6,306.1L808.9,303.7L803.1,309.9L820.9,305.1L823.8,305.1L820.9,315.7L831.5,315.3L842.1,319.2L793.9,319.6L855.6,323.4L803.1,330.2L828.6,328.3L831.5,330.2L823.8,332.1L818.6,336.9L814.1,341.8L818.0,346.6L831.5,340.8L835.9,342.7L795.8,343.7L798.7,345.6L825.7,356.3L812.2,359.2L799.7,356.3L791.9,351.4L802.5,366.9L805.4,368.8L793.9,369.8L935.8,296.0L882.3,333.5L884.6,375.6L739.7,319.9L704.1,360.6L655.2,408.9L839.3,433.1L822.7,449.7L803.1,445.7L806.7,463.2L784.9,484.4L779.8,485.9L747.2,562.0L728.5,562.6L702.0,572.6L700.4,602.5L698.9,605.8L692.9,610.3L653.7,676.4" fill="none" stroke="none" marker-start="url(#x)" marker-mid="url(#x)" marker-end="url(#x)"/>
<g font-size="39.5" fill="#000">
<text x="797.0" y="150.9">A1490</text>
<text x="805.2" y="204.6" font-style="italic">rbcL</text>
<text x="668.8" y="250.5" font-style="italic">ccmK/</text>
<text x="666.6" y="304.8">A1803</text>
<text x="950.9" y="310.8">A2578</text>
<text x="894.5" y="347.0" font-style="italic">gspD</text>
<text x="901.1" y="389.3" font-style="italic">psaM</text>
<text x="851.9" y="434.6">A1509</text>
<text x="835.3" y="471.7">A1511</text>
<text x="802.1" y="504.6">F0065</text>
<text x="541.7" y="304.8" font-style="italic">ccmK/</text>
<text x="539.3" y="359.1">A1802</text>
<text x="505.5" y="411.9">A2519</text>
<text x="760.8" y="580.1">E0039</text>
</g>
<text x="292.0" y="1013.3" font-size="42" fill="#111">Relative transcript abundance (standard)</text>
<text transform="translate(38.0 845.0) rotate(-90)" font-size="42" fill="#111">Relative transcript abundance (low salt)</text>
<text x="13.5" y="32.0" font-size="40" font-weight="bold" fill="#000">A</text>
</g>
<g id="panelB">
<path d="M1464.2 853.0L2389.1 22.0M1519.5 909.7L2448.4 75.2" stroke="#b3b3b3" stroke-width="1.1" fill="none"/>
<path d="M1464.2 21.2V915.0M1455.4 906.2H2449.2M1455.4 22.0h8.8M1455.4 198.8h8.8M1455.4 375.7h8.8M1455.4 552.5h8.8M1455.4 729.4h8.8M1661.0 906.2v8.8M1857.9 906.2v8.8M2054.7 906.2v8.8M2251.6 906.2v8.8M2448.4 906.2v8.8" stroke="#7f7f7f" stroke-width="1.6" fill="none"/>
<g font-size="25" fill="#000">
<text x="1437.2" y="915.2" text-anchor="end" textLength="86" lengthAdjust="spacingAndGlyphs">1.0E-06</text>
<text x="1437.2" y="738.4" text-anchor="end" textLength="86" lengthAdjust="spacingAndGlyphs">1.0E-05</text>
<text x="1437.2" y="561.5" text-anchor="end" textLength="86" lengthAdjust="spacingAndGlyphs">1.0E-04</text>
<text x="1437.2" y="384.7" text-anchor="end" textLength="86" lengthAdjust="spacingAndGlyphs">1.0E-03</text>
<text x="1437.2" y="207.8" text-anchor="end" textLength="86" lengthAdjust="spacingAndGlyphs">1.0E-02</text>
<text x="1437.2" y="31.0" text-anchor="end" textLength="86" lengthAdjust="spacingAndGlyphs">1.0E-01</text>
<text x="1464.2" y="952.5" text-anchor="middle" textLength="86" lengthAdjust="spacingAndGlyphs">1.0E-06</text>
<text x="1661.0" y="952.5" text-anchor="middle" textLength="86" lengthAdjust="spacingAndGlyphs">1.0E-05</text>
<text x="1857.9" y="952.5" text-anchor="middle" textLength="86" lengthAdjust="spacingAndGlyphs">1.0E-04</text>
<text x="2054.7" y="952.5" text-anchor="middle" textLength="86" lengthAdjust="spacingAndGlyphs">1.0E-03</text>
<text x="2251.6" y="952.5" text-anchor="middle" textLength="86" lengthAdjust="spacingAndGlyphs">1.0E-02</text>
<text x="2448.4" y="952.5" text-anchor="middle" textLength="86" lengthAdjust="spacingAndGlyphs">1.0E-01</text>
</g>
<path d="M1787.5,551.1L2030.8,438.0L1770.0,681.3L1813.6,621.4L1781.9,549.4L1898.8,457.3L1991.2,451.2L1969.4,470.3L1862.7,486.7L1741.2,662.8L1789.4,643.5L1830.6,548.1L1840.0,592.9L1843.7,580.8L2013.5,430.4L1789.6,541.0L1769.6,572.7L1898.8,522.6L2030.7,437.3L2009.7,419.8L1981.5,498.9L2021.3,461.2L1892.5,487.9L1976.6,498.7L1828.3,606.8L1778.8,554.5L1940.4,430.2L1896.2,462.9L1935.0,534.4L1773.6,602.0L1751.8,579.8L1929.4,456.5L2029.7,430.2L1752.1,681.3L1878.6,565.2L1831.1,561.9L1806.9,581.1L1764.1,674.6L1935.6,467.5L2003.5,370.1L1917.3,454.6L1878.6,565.2L1911.5,504.1L1861.3,576.1L1867.2,516.0L1997.6,520.8L1796.1,567.4L1779.6,618.2L2031.1,416.8L2027.3,424.2L1845.7,512.2L1943.6,535.9L1922.2,501.2L2033.4,391.4L1730.0,681.3L1992.3,495.3L1851.9,574.0L1838.8,599.0L1903.8,451.6L1883.1,559.3L1835.6,674.6L1798.3,557.5L2006.5,517.0L1951.1,456.8L1739.4,657.5L1827.4,581.4L1929.3,593.2L1980.8,436.2L2048.1,455.2L1784.7,585.7L1988.3,548.4L1906.3,525.3L1723.1,674.6L1769.8,624.6L1904.0,516.3L1803.3,652.5L1905.3,425.7L1976.4,423.5L1906.5,639.3L1936.3,470.4L1880.3,535.2L1841.0,573.0L1771.1,571.8L2026.6,453.7L1755.8,621.4L1857.4,561.7L1747.0,635.4L1906.9,552.1L1986.5,434.6L1841.9,558.1L1941.1,479.4L1970.2,489.6L1861.1,583.8L1933.7,508.9L1798.8,588.6L1769.9,635.4L1663.3,643.5L1724.7,631.6L1924.9,561.0L1995.7,398.0L1914.6,521.3L1934.6,449.5L1902.1,505.8L1851.6,546.5L1848.2,612.3L1906.2,595.6L1785.9,590.7L1925.4,491.4L1770.9,674.6L2018.7,483.6L1748.0,657.5L2008.6,417.5L1906.5,441.0L1827.6,587.9L1955.2,551.0L1848.0,609.5L1967.3,533.5L1853.0,596.7L1939.2,522.3L1779.6,681.3L1757.4,605.2L1828.6,560.6L1794.5,639.3L1940.6,522.2L1844.0,509.2L1737.6,615.2L1799.2,532.5L1982.1,503.8L1835.3,552.4L1931.5,494.7L1834.7,537.1L1827.8,647.9L1984.8,475.7L1804.3,681.3L1864.0,621.4L1868.8,639.3L1707.6,674.6L1737.9,584.3L1783.4,652.5L1902.7,517.4L1872.6,521.3L1811.6,542.7L1831.1,518.0L1705.8,681.3L1826.5,635.4L1961.2,435.6L1893.7,505.2L1905.2,551.0L1778.7,647.9L1799.5,594.2L1767.0,681.3L1869.2,551.0L1818.5,591.7L1750.3,594.0L1797.8,553.1L1785.7,578.1L2085.9,366.0L1881.4,462.9L1846.4,522.3L1849.0,509.5L1871.9,530.5L2075.8,358.9L1822.5,516.2L1716.8,657.5L1768.5,643.5L1773.7,621.4L1879.2,567.2L1789.2,668.5L1958.8,475.3L2035.8,502.6L1747.3,591.6L1945.7,502.6L1896.2,520.1L1769.9,582.6L1930.0,512.4L1809.0,579.5L1772.9,578.8L1789.8,545.5L2022.7,463.2L1846.4,596.6L1835.2,539.8L1976.8,450.2L1969.0,486.7L1991.5,461.4L1903.6,523.3L1995.4,520.1L1944.5,481.9L1992.4,510.7L1984.8,398.4L1891.9,521.9L1749.2,612.3L1901.7,539.6L1701.5,662.8L1813.7,570.1L1796.3,573.1L1799.4,599.4L1945.7,461.5L1982.6,464.9L1994.2,424.7L1884.0,550.3L1932.5,513.8L1748.7,657.5L1812.8,588.7L1938.1,496.6L1840.2,609.5L1850.5,575.5L1937.3,454.3L1779.9,612.3L1973.7,452.1L1921.1,531.9L1727.6,596.9L1832.5,587.0L2004.9,482.1L1792.8,609.5L1674.9,674.6L1863.1,554.1L1739.1,674.6L1752.7,681.3L1953.7,519.3L2055.8,410.9L1752.1,662.8L1867.2,615.2L1901.9,500.5L1724.4,606.8L1981.4,393.1L1923.7,560.8L1902.0,539.5L1846.8,483.4L1939.3,542.9L1953.7,504.4L1796.9,628.1L1783.7,647.9L2079.7,455.0L1848.0,631.6L1829.5,621.4L2019.6,409.0L1914.7,543.6L1923.3,543.8L1945.0,475.4L1958.1,472.1L1902.5,567.3L1939.6,590.2L1954.9,539.2L1956.4,522.5L1709.8,621.4L2091.5,333.7L1929.7,512.8L1731.5,647.9L1914.7,556.4L1910.7,542.7L1851.5,554.5L1801.4,580.4L1862.0,595.2L1761.7,631.6L1824.7,540.9L1885.1,503.7L1912.8,609.5L1863.2,554.7L1986.6,433.3L1989.0,530.4L2000.2,475.7L1876.5,508.8L1787.0,523.3L1709.4,643.5L1873.0,537.2L1856.2,624.6L2055.1,384.7L1925.0,530.7L1996.6,394.0L1807.0,662.8L1834.4,602.2L1874.2,548.0L1826.9,573.7L1844.1,621.4L1897.5,560.9L1815.6,674.6L2010.6,383.5L2017.8,454.6L1830.3,560.7L1879.6,538.0L1828.3,505.6L2071.2,446.9L1801.1,584.5L1992.1,480.6L1812.2,547.9L1985.2,387.1L1738.7,621.4L1966.1,491.1L1961.5,443.3L1868.6,597.9L1801.8,501.3L1823.8,603.3L1749.3,582.1L1795.2,590.0L1856.0,639.3L1857.6,592.1L1844.3,501.9L1977.2,415.7L1777.2,681.3L1936.7,445.9L1971.6,447.4L1814.9,569.3L1951.6,441.0L1917.5,535.9L1847.9,499.5L2012.3,485.3L1790.0,496.1L1916.6,541.2L1892.2,592.8L1823.1,562.3L1935.0,457.7L1741.1,639.3L1802.9,631.6L1850.4,528.6L2051.3,362.3L1929.0,493.9L1716.2,635.4L1885.8,494.9L1753.0,600.8L1823.9,662.8L2050.2,340.6L1793.7,606.8L1739.8,643.5L2013.3,382.5L1875.4,505.0L1790.3,594.4L2029.1,492.1L1925.1,485.9L1943.1,428.5L1739.2,598.3L1816.6,643.5L1968.2,469.4L1799.1,635.4L1741.5,652.5L1968.3,522.2L1792.5,681.3L1876.2,544.5L1770.4,639.3L1746.9,621.4L1849.9,489.1L1889.6,545.4L1931.5,469.4L2017.2,379.0L1857.0,513.2L1903.8,593.9L1803.8,599.3L1988.7,527.8L1812.2,635.4L1755.4,657.5L1889.8,522.7L1760.4,621.4L1840.5,569.6L1808.1,562.0L1941.3,545.0L1798.1,544.6L1783.8,602.9L1797.6,662.8L1770.3,674.6L1894.5,526.0L1857.8,553.7L1906.4,504.2L1944.0,507.1L1863.0,465.4L2064.7,422.1L1879.0,528.8L1788.4,643.5L1906.0,513.6L1752.7,652.5L1869.5,589.9L1928.6,505.2L1870.2,566.3L1801.2,589.2L1922.7,478.4L2019.4,475.8L1794.3,615.2L1824.9,603.1L1828.5,577.3L1824.4,555.3L2032.8,458.4L1784.7,589.6L1716.5,681.3L1847.3,579.0L1792.4,639.3L1849.0,561.6L1905.6,581.1L1806.5,580.5L1749.9,674.6L2001.8,385.9L1768.8,657.5L1803.5,681.3L1688.0,662.8L1881.7,507.0L1784.0,547.7L1923.7,437.0L1833.7,584.4L1954.7,504.9L1809.8,533.1L1935.6,478.1L1724.7,674.6L1814.7,589.8L1806.4,558.8L1828.4,544.3L1798.8,639.3L2062.4,415.2L1850.8,513.2L1996.9,395.5L1842.2,573.7L1837.9,509.3L1857.5,568.9L1751.7,575.8L1773.2,584.9L1908.3,502.4L1878.1,512.8L1781.4,635.4L1847.0,510.9L1774.5,582.7L1943.2,520.9L2022.5,455.7L1862.6,539.9L1761.2,621.4L1844.9,504.4L1937.1,494.1L1895.7,503.5L1961.7,451.3L1852.6,468.2L1942.4,554.2L1861.5,565.6L1999.9,437.8L1963.5,527.2L1890.6,582.2L1876.7,584.3L1933.7,497.2L1764.3,604.7L1818.6,621.4L1890.3,570.1L1857.8,504.3L1762.8,554.2L1807.1,575.0L1752.5,674.6L1958.4,508.8L1767.7,600.2L1892.2,612.3L1749.2,605.1L1816.3,631.6L1959.0,542.1L1999.8,473.8L1861.7,500.4L1972.5,485.3L1893.9,582.8L2043.0,393.9L1775.8,631.6L1788.8,578.0L1792.6,621.4L1951.2,509.1L2020.8,420.8L1933.6,465.1L2046.9,395.4L1761.3,575.3L1758.2,597.2L1808.5,556.6L1818.2,553.0L1826.8,546.7L1759.9,662.8L1858.4,639.3L1895.0,601.8L1948.9,507.6L1789.5,575.6L1830.8,624.6L1994.2,373.7L1832.0,550.9L1814.1,558.4L1733.2,647.9L1708.2,603.2L1775.3,643.5L1855.4,621.4L1773.1,598.8L2027.5,390.4L1848.0,550.4L1794.0,635.4L2074.3,435.2L1912.6,557.2L1812.5,647.9L1963.2,557.3L1703.1,639.3L1805.2,546.9L2036.1,366.2L1858.9,487.1L2025.7,408.8L1821.4,604.1L1986.0,517.6L1788.4,598.3L1874.4,570.2L1783.6,591.9L1964.7,461.4L1940.8,498.7L2062.8,418.7L1849.7,594.5L1929.3,491.6L1735.0,668.5L1882.1,589.8L1922.1,493.9L1923.1,492.2L1794.8,621.4L1883.1,448.7L1927.6,491.4L1861.6,569.8L1766.8,668.5L1827.5,668.5L1780.4,628.1L1980.2,467.5L1901.6,554.3L1881.6,512.2L1914.5,500.0L2047.4,418.0L1676.3,639.3L1709.5,657.5L1819.3,592.4L1919.2,470.0L1820.9,621.4L1941.8,441.1L1924.6,444.8L1916.1,496.5L1709.3,681.3L1855.1,570.4L2006.0,400.8L1710.8,643.5L1808.0,643.5L1751.2,647.9L1984.6,491.9L1825.6,500.8L1805.0,507.9L1835.6,615.2L1822.5,573.5L1858.5,578.0L1730.0,647.9L1736.0,592.7L1791.9,643.5L2054.8,391.1L1758.7,639.3L1987.8,449.8L1801.0,668.5L1756.7,594.4L1872.0,533.8L1909.0,509.7L1864.7,517.1L1851.3,591.8L1944.9,485.8L1818.1,583.1L1850.1,532.2L1905.5,559.7L2053.2,454.7L1935.6,461.3L1942.6,481.1L1926.1,475.8L1782.0,585.2L2025.1,401.1L1845.3,579.3L1952.1,429.7L1918.1,496.4L1785.4,662.8L1799.1,643.5L1862.5,575.0L1821.5,598.4L1755.5,635.4L1794.1,618.2L1921.8,487.5L1840.9,526.1L1854.5,532.9L1690.6,596.3L1999.4,456.1L1963.0,506.8L1849.8,495.9L1893.7,469.1L1899.3,502.2L1838.6,515.9L1738.6,662.8L1922.8,556.1L1951.5,478.8L1721.7,657.5L1948.4,414.7L1981.5,410.4L1852.8,552.7L1850.9,487.6L1921.1,443.3L1859.6,597.3L1964.9,487.9L1838.7,591.4L1796.3,555.0L1944.6,584.2L1951.8,417.5L1882.6,522.9L1793.8,606.8L1947.7,464.4L1763.5,639.3L1893.3,496.6L1873.3,486.8L1901.3,465.9L1900.4,580.5L1889.5,532.3L1983.2,462.2L1798.0,591.5L1872.0,597.4L1917.6,508.4L1772.1,577.5L1878.8,537.5L1970.1,499.6L1832.8,624.6L2040.8,411.6L1824.8,662.8L1817.6,621.4L1894.2,477.4L1892.9,487.3L2002.4,454.6L1773.2,631.6L2008.9,460.1L1845.1,609.5L1800.3,618.2L1823.1,562.6L1777.4,606.8L1798.9,674.6L1930.2,509.6L1816.1,621.4L1986.7,406.0L1897.8,588.3L1827.0,635.4L1826.4,643.5L1873.7,395.9L1879.7,465.8L1802.5,609.5L1869.7,628.1L1806.8,606.8L1934.0,399.4L1985.6,463.0L1812.4,652.5L1815.9,618.2L2085.4,396.7L1939.2,499.6L1936.7,501.3L1785.0,639.3L2011.0,508.8L1876.2,543.1L1844.0,566.5L1907.2,493.3L1939.9,500.0L1829.7,504.4L1929.1,479.4L1906.1,548.0L1795.0,544.3L1902.7,445.1L1744.0,593.9L1852.3,536.3L1855.0,521.2L1922.8,568.4L1927.6,450.3L1872.2,548.7L1750.1,593.5L1884.0,508.5L1975.4,535.6L1719.5,635.4L1942.6,493.9L1852.6,506.8L1900.2,470.3L1827.2,621.4L2016.3,435.6L1775.6,600.8L1824.6,618.2L1847.2,571.8L1708.5,565.4L1727.7,609.5L1877.4,426.8L1784.7,582.0L1791.8,612.3L1786.0,595.9L2010.8,458.5L1776.0,513.4L1893.0,552.0L1770.2,546.9L2010.3,467.9L1921.4,442.0L1775.5,590.5L1871.0,539.2L1866.3,549.9L1973.8,441.4L1788.4,624.6L1907.5,426.2L1735.1,606.8L1842.9,535.3L1819.4,643.5L1912.4,474.8L1794.2,681.3L1740.6,674.6L1790.9,643.5L1811.8,681.3L1987.7,522.1L1853.2,499.7L2018.1,443.8L1848.3,600.7L1767.0,549.3L1784.8,643.5L1829.7,487.9L1744.9,662.8L1893.2,468.3L1845.0,591.1L1863.4,540.7L2045.0,349.6L1832.0,570.5L1984.1,504.1L1851.9,643.5L1883.5,481.6L1961.3,507.9L1862.5,600.6L2046.7,383.3L1985.6,433.3L1824.0,554.3L1920.1,533.6L1783.6,587.7L1979.2,460.5L1797.5,604.5L2016.5,472.9L1846.9,560.0L1769.0,612.3L1916.8,454.9L1899.2,531.5L1802.9,615.2L1763.0,647.9L2026.1,499.8L1898.9,540.1L1879.3,582.9L1910.5,480.8L1739.6,639.3L1966.2,453.3L1812.7,591.7L1923.8,498.3L1990.1,391.9L2029.3,418.2L1984.2,445.8L1797.6,567.7L1935.5,531.2L1916.2,514.6L1829.2,567.1L1955.6,488.6L1834.2,573.5L1763.2,681.3L1875.0,467.1L2027.8,389.9L1736.4,652.5L1800.8,657.5L1820.9,618.2L1827.5,526.0L1840.3,539.4L1687.5,681.3L1728.6,584.4L1852.2,643.5L1800.6,662.8L1962.9,497.2L2012.1,416.8L1711.1,674.6L1854.6,527.2L2004.7,515.4L1880.8,515.4L1770.3,586.2L1874.8,498.2L1854.2,515.6L1864.5,498.3L1944.3,559.9L1934.3,543.8L1807.9,628.1L1798.5,573.7L1830.0,580.3L1865.8,539.8L1727.8,599.4L1749.0,635.4L1890.6,467.6L1880.3,485.2L1988.5,363.6L1791.0,564.9L1816.6,643.5L1806.0,639.3L1888.0,515.4L1768.5,662.8L1934.5,523.7L1747.2,635.4L1952.5,514.7L1810.3,592.6L1899.8,526.8L1918.3,487.0L1781.6,576.4L1793.5,662.8L1832.3,558.0L1829.8,552.5L1871.0,597.5L1790.4,580.9L1809.7,595.0L1893.2,495.3L1799.6,602.9L1920.2,454.3L1857.1,541.3L1924.3,508.3L1925.5,469.4L1785.8,668.5L1937.7,496.6L1826.8,576.9L1951.4,422.1L1859.3,542.0L1945.5,508.3L1861.1,635.4L1735.8,591.6L1847.4,575.3L1720.4,681.3L1935.4,566.1L1960.7,475.1L1729.9,674.6L1929.3,570.3L1841.0,520.2L1894.5,487.3L1893.2,528.7L1796.2,585.6L1953.5,518.7L1677.7,668.5L1834.2,530.7L2024.2,401.5L1773.0,556.4L1974.5,480.6L1788.4,628.1L1972.7,481.4L1922.7,524.8L1992.6,359.6L1901.6,512.4L1742.0,589.2L1730.6,647.9L1900.1,524.1L1932.4,456.0L1968.1,499.7L1904.3,488.2L2062.5,338.3L1799.9,595.8L1811.4,584.0L1965.2,440.5L1784.4,569.8L1914.1,463.7L1894.2,542.8L1921.0,501.4L1855.3,595.4L1733.5,639.3L1973.7,434.1L2047.0,396.8L1740.3,657.5L2082.3,355.2L1886.1,519.8L1950.9,462.3L1990.1,505.5L1946.4,526.4L1838.9,593.6L1902.4,562.2L1715.6,657.5L1822.3,497.3L1837.0,568.6L1947.9,503.9L1938.3,541.3L1839.1,550.1L1794.9,597.2L1732.6,575.8L2061.8,386.7L1711.1,618.2L1813.1,635.4L2038.8,412.5L1706.8,624.6L1723.1,657.5L1798.4,585.4L1835.8,618.2L1925.4,575.0L1788.5,628.1L1826.1,603.1L1951.5,466.6L1781.1,668.5L1957.5,399.3L1917.2,584.8L2043.6,436.8L1955.4,537.1L1901.2,493.0L1785.7,606.8L1936.3,573.9L1810.8,571.6L1714.3,618.2L1932.3,510.0L1914.9,454.4L1802.5,532.8L1744.5,584.8L1924.4,501.0L1719.1,681.3L1920.8,510.8L1855.8,587.3L2006.8,429.9L1813.1,621.4L1981.7,460.4L1880.5,483.5L1806.4,662.8L1900.4,442.9L1822.7,556.9L1820.2,546.5L1779.8,621.4L1869.1,549.2L1832.9,522.6L1819.8,605.0L2000.2,446.8L1792.5,635.4L1776.5,615.2L2068.5,392.9L1898.2,521.9L1933.9,445.3L1828.4,563.9L1630.3,674.6L1938.1,580.1L2011.0,414.8L1836.4,531.9L1733.1,657.5L1805.8,681.3L2031.0,416.4L1820.7,525.7L1761.0,576.6L1926.7,453.1L1946.2,472.2L1852.8,500.6L1916.8,461.5L2072.9,333.1L1799.1,594.2L1861.1,518.7L1968.7,424.4L1733.7,584.3L1934.3,479.4L1798.5,624.6L1784.0,657.5L1756.0,657.5L1844.5,591.7L1883.1,599.6L1799.4,588.4L1859.5,511.2L1749.3,593.9L1885.0,463.0L1842.0,570.9L1725.7,662.8L1860.9,561.2L1883.5,518.4L1816.7,522.3L1856.2,624.6L1866.0,524.7L1844.3,543.5L1738.7,543.7L1817.8,532.0L1899.2,631.6L1953.2,517.3L1856.4,624.6L1851.9,635.4L1905.0,485.6L1805.4,624.6L2012.0,494.4L1848.5,527.2L1808.7,584.1L2005.1,455.5L1795.5,674.6L1879.4,569.6L1811.6,652.5L2028.0,431.8L1896.7,539.3L1710.3,681.3L1917.1,539.7L1773.1,635.4L1867.4,509.4L1895.7,548.0L1908.2,477.8L1938.0,459.4L1864.0,518.2L1909.5,599.1L1685.2,662.8L1871.7,539.1L1886.5,513.9L1998.0,459.2L1827.9,593.4L1732.2,589.8L1869.4,605.0L1829.6,566.6L1869.2,590.5L1730.6,618.2L1871.3,490.9L1920.8,513.6L1883.0,631.6L1804.6,585.1L1886.7,493.6L1975.9,395.9L1961.9,492.4L1962.7,481.2L1850.4,553.9L2036.9,303.3L1814.9,561.2L1715.5,652.5L1880.8,559.6L1978.4,472.0L1759.2,647.9L1861.7,533.3L1825.6,635.4L1928.6,600.6L1938.3,486.0L1933.2,628.1L1864.4,615.2L1703.4,581.6L1903.9,553.4L1927.8,439.1L1821.7,668.5L1919.6,477.1L1866.5,487.2L1712.1,606.8L1855.3,558.2L1859.6,635.4L1884.1,605.2L1892.8,485.0L1954.4,522.5L1899.8,470.1L1781.7,563.7L1811.3,631.6L1826.4,600.9L1805.1,609.5L2020.3,384.8L1762.8,631.6L1773.0,567.0L1876.4,538.4L1790.9,554.0L1807.8,600.0L1860.7,492.2L1947.0,444.9L1963.2,410.3L1857.6,501.0L1983.4,532.7L1820.4,496.3L1763.0,618.2L1865.1,502.7L1940.2,512.6L1866.0,515.9L1752.8,657.5L1903.1,513.1L1944.7,556.1L1919.5,572.5L1886.5,519.5L1968.9,539.0L1913.2,472.1L1851.6,612.3L1814.8,628.1L1797.0,674.6L1935.6,425.9L1730.4,657.5L1843.2,582.2L1810.6,657.5L1849.2,577.6L1836.4,593.0L1795.1,657.5L1765.6,652.5L2015.3,412.5L1756.0,631.6L1749.8,566.8L1863.7,609.5L1793.5,551.4L1946.2,462.2L1837.7,531.8L1894.9,570.1L1867.4,532.0L1815.0,583.0L1970.7,458.3L1838.7,537.3L1933.4,437.2L1875.2,574.9L1914.5,448.6L2013.5,484.6L2048.0,361.1L1993.2,433.0L1921.9,504.1L1988.2,479.5L1954.0,479.7L1918.7,459.3L1868.2,525.5L1834.9,631.6L1916.6,550.6L1943.2,467.7L1796.0,580.0L1824.2,592.6L1863.9,529.2L1704.5,606.8L1910.2,507.0L1768.2,662.8L1785.6,668.5L1857.6,570.8L1906.9,465.7L1804.7,615.2L1865.3,576.0L1782.3,681.3L1742.3,591.3L1838.7,547.9L1820.2,521.4L1910.8,580.2L1717.2,631.6L1753.0,652.5L1867.0,514.2L1868.7,581.6L1799.9,668.5L1929.6,577.9L1938.3,483.0L1922.8,534.3L1948.0,433.1L1934.2,441.7L1915.0,493.4L1845.2,589.5L1892.2,449.3L1859.5,489.7L1975.3,476.1L1801.8,560.1L1983.2,389.5L1763.7,662.8L1731.4,647.9L1920.7,559.2L1779.8,624.6L1723.6,635.4L1783.4,604.3L1755.5,657.5L1829.4,621.4L2091.0,324.4L1708.3,668.5L1994.2,424.0L1769.2,582.2L1904.2,487.4L1776.5,643.5L1825.4,602.0L1851.3,514.4L1719.0,657.5L1884.4,535.9L2047.9,335.6L1925.1,462.6L1897.8,521.2L1874.0,556.5L1760.1,662.8L1814.1,621.4L1885.6,569.5L1808.1,582.5L1821.7,635.4L1815.2,574.7L1927.5,563.3L1879.7,518.6L1759.1,628.1L1933.7,520.3L1844.9,643.5L1860.7,580.5L1956.5,436.5L1868.9,593.7L1827.4,571.3L1841.0,543.7L2010.9,482.8L1739.0,594.4L1984.3,503.5L1798.6,618.2L1920.3,434.9L1966.8,459.3L1964.9,468.5L1898.7,529.4L1876.5,523.0L1831.6,624.6L1906.5,570.4L1884.5,470.9L1893.1,464.2L1792.5,598.3L1708.3,681.3L1712.5,668.5L1719.5,612.3L1813.2,581.9L1864.4,556.7L1924.9,531.7L1806.0,598.7L1992.8,531.4L1781.7,639.3L1979.8,479.7L1909.4,462.2L1776.2,609.5L1789.9,662.8L1803.3,647.9L1788.5,643.5L2021.3,474.6L1766.6,606.8L1843.0,635.4L1786.2,586.2L1897.3,522.6L1940.5,524.4L1893.2,552.9L1854.7,513.6L1837.8,541.4L1754.4,583.9L1866.1,563.3L1885.3,500.3L1872.8,512.3L1831.1,540.3L1879.0,496.3L1745.1,605.4L1790.7,668.5L2072.4,354.8L1764.2,594.5L1689.9,657.5L1886.7,506.4L1889.1,458.0L1785.0,593.7L1869.5,519.8L1967.9,528.0L1794.3,615.2L1911.6,559.6L1873.9,593.8L1817.7,536.5L1912.3,497.7L1764.5,552.2L1783.0,577.7L1946.8,497.2L1802.4,618.2L1759.0,662.8L1933.0,571.1L1758.0,662.8L1784.6,563.6L1999.3,447.7L1869.9,550.1L1889.2,455.7L1839.2,570.6L1822.7,631.6L1814.4,582.6L1940.1,561.1L1780.9,555.8L1917.5,540.3L1741.6,657.5L1955.9,528.6L1921.4,442.2L1824.9,582.9L1826.5,575.3L1871.2,544.4L1818.6,581.0L1990.4,368.6L1893.2,536.6L1857.5,602.4L1933.4,441.1L1759.7,588.7L1860.3,573.4L1966.9,414.4L1796.1,597.0L1770.4,628.1L1792.5,615.2L1738.6,609.5L1799.0,574.1L1986.7,522.0L2013.0,490.7L1859.7,639.3L1779.9,647.9L1838.3,533.6L2018.5,418.4L1981.0,458.8L1923.6,513.3L1807.5,567.8L1899.6,519.5L1818.7,618.2L1838.0,597.6L1857.8,484.3L1993.9,447.4L1822.1,580.5L1879.8,480.8L1935.0,462.7L1773.9,606.8L1844.3,594.8L1906.6,566.0L1882.6,514.7L2034.0,381.6L1718.9,624.6L1881.0,618.2L1813.3,643.5L1777.6,602.0L1812.4,606.8L1932.2,503.9L1867.4,603.5L1879.7,548.4L1857.3,569.8L1784.5,541.6L1844.1,568.3L1765.6,604.8L1871.8,511.3L1777.3,621.4L1952.7,547.7L1782.4,590.0L2047.7,351.0L1822.6,534.3L1796.9,512.6L2033.4,389.5L1913.6,500.3L1688.2,674.6L1722.1,668.5L1853.9,543.2L1917.8,450.5L1862.3,537.7L1901.7,527.4L1822.6,578.2L1840.3,570.4L1788.6,560.9L1862.7,552.5L1834.6,578.6L1751.8,595.5L1873.3,570.2L1911.1,560.7L1733.4,662.8L1698.1,615.2L1908.3,503.2L1943.7,523.3L1743.4,621.4L2034.9,382.3L1968.5,499.2L1808.0,603.5L1911.6,578.9L1827.6,560.2L1812.6,652.5L1807.8,560.9L1794.2,575.6L1853.3,547.3L1839.7,536.6L1837.2,575.2L1867.2,530.3L1867.1,566.5L1721.5,681.3L1966.8,402.9L1865.5,662.8L1735.0,595.1L1738.4,681.3L1955.5,509.6L1927.1,443.2L1839.1,512.1L1951.7,479.4L1760.5,631.6L1820.8,579.5L1906.5,525.1L1865.2,570.4L1935.1,545.5L1820.6,597.7L1790.0,585.9L1762.2,635.4L1845.8,643.5L1839.8,612.3L1816.6,639.3L1913.3,545.3L2028.1,440.3L1772.1,652.5L1901.9,563.9L2038.5,419.5L1930.7,528.6L1757.6,635.4L1766.1,598.6L1852.6,513.0L1805.7,635.4L1815.7,612.3L1922.4,524.6L1855.2,549.0L1892.9,606.8L1813.0,681.3L1829.0,662.8L1740.4,647.9L1955.1,440.1L1796.4,674.6L1791.5,597.9L2004.9,431.8L1869.0,618.2L1992.4,450.9L1767.4,643.5L1940.1,379.9L1717.1,628.1L1955.9,506.1L1764.0,674.6L1863.2,583.6L1913.6,552.1L1847.3,514.0L1949.3,543.6L1891.1,513.0L1878.0,489.6L2028.7,412.4L1862.8,510.0L2076.3,332.1L1891.5,570.5L1824.3,551.6L1946.0,420.6L1916.9,543.6L1980.2,470.5L1887.8,589.4L2009.2,421.0L1867.3,593.8L2002.3,513.2L1844.5,587.7L1798.8,639.3L1943.8,474.9L1710.2,643.5L1787.1,668.5L1945.9,446.7L2016.4,425.2L1839.5,536.8L1910.4,469.8L1841.8,595.0L1819.4,601.6L1944.0,479.2L1760.6,586.4L1873.9,657.5L1938.8,424.6L1812.2,612.3L1988.9,538.1L1800.8,612.3L1824.3,635.4L1757.1,578.9L1808.0,540.7L1973.3,498.9L1849.5,583.4L1845.9,612.3L1875.4,538.1L1827.7,558.3L1879.9,535.4L1905.5,587.5L1773.7,681.3L1846.0,575.0L1782.0,631.6L1683.0,652.5L1904.4,515.0L2049.0,537.0L1959.2,457.2L1845.5,657.5L1777.7,681.3L2030.3,440.8L1867.3,545.6L1980.7,449.7L1809.5,618.2L1896.8,495.4L1936.6,481.0L1917.3,528.8L1811.3,674.6L2041.0,393.9L1915.8,572.7L1780.3,662.8L1771.8,657.5L1924.7,541.8L1791.5,618.2L1856.1,609.5L1781.8,657.5L1766.8,603.0L1816.4,518.2L1804.4,593.8L1806.8,639.3L1933.9,532.6L1727.2,615.2L1838.5,576.8L1925.0,447.2L1864.2,460.7L1693.6,657.5L1941.7,526.6L1900.2,472.2L1882.4,639.3L1809.6,592.8L1812.5,615.2L1828.7,526.0L1815.4,624.6L1922.4,515.4L1782.3,582.6L1833.3,647.9L1907.5,499.3L1864.1,631.6L1795.6,501.7L1889.6,575.9L2081.9,280.0L1910.4,540.1L2074.1,375.5L1908.3,522.7L1929.8,612.3L1995.7,513.8L2004.8,491.7L1917.6,436.7L1979.5,518.6L1865.4,479.5L1740.5,635.4L1849.1,455.7L1718.2,657.5L1832.1,552.0L1784.0,639.3L1708.7,643.5L1965.6,438.1L1851.8,563.9L2052.1,489.0L2003.5,370.9L1842.3,612.3L1789.0,639.3L2042.3,411.7L1928.7,502.2L1845.2,568.9L1929.6,448.9L1933.2,526.0L1850.1,553.3L2008.4,400.8L1856.0,574.3L1914.3,525.9L1765.3,631.6L1851.5,662.8L1804.2,561.5L1763.9,668.5L1752.1,657.5L1945.0,379.1L1820.8,590.1L2051.5,431.8L1904.5,527.2L1763.5,647.9L1793.5,628.1L1816.5,585.1L1954.2,456.7L1817.2,647.9L1992.8,399.2L1777.3,631.6L1925.4,501.4L1709.7,635.4L1898.4,533.5L1856.4,681.3L2061.8,365.9L1771.3,595.1L1802.4,615.2L1929.5,536.4L1977.4,392.9L1924.7,422.6L1856.5,681.3L1893.6,500.3L1807.0,574.9L1786.3,631.6L1826.5,600.2L1906.2,446.2L1918.0,505.1L1937.9,495.2L1800.5,600.7L1942.8,553.2L1820.2,529.4L1850.5,507.2L1904.4,483.2L1822.3,590.2L1802.4,590.4L1916.9,483.4L1839.5,538.1L1866.7,606.8L1764.0,652.5L1812.0,657.5L1911.3,546.1L1976.5,451.6L1803.3,578.5L2038.2,454.7L1832.5,535.1L1763.1,603.8L1916.4,534.6L1773.9,598.9L1978.4,461.3L1935.3,433.3L1900.4,577.4L1923.0,481.4L1839.8,609.5L1987.4,397.2L1931.5,510.5L1848.4,533.4L1800.8,624.6L1895.7,521.4L1968.0,523.7L1813.2,598.3L1823.9,606.8L1775.5,568.5L1750.6,657.5L1798.6,609.5L1914.3,468.1L1834.0,504.7L1829.4,573.3L1941.0,491.4L1870.6,475.4L1934.6,478.3L2026.9,433.5L1909.0,497.8L1854.1,529.7L1710.5,681.3L1936.6,474.3L1727.1,652.5L1870.2,548.3L1761.5,599.3L1962.6,458.0L1911.4,453.4L1793.7,615.2L1932.9,434.1L1864.1,522.8L1809.7,599.7L1862.8,543.2L2053.5,372.2L1768.9,668.5L1966.2,413.6L1701.1,668.5L1749.1,595.4L1752.3,628.1L1850.7,536.7L2043.1,393.0L1782.9,631.6L1863.4,566.1L1779.6,522.9L1865.0,599.2L1792.8,584.3L1658.0,662.8L1797.6,621.4L1730.9,628.1L1950.9,473.0L1788.7,500.5L1792.1,557.6L1855.4,564.0L1873.8,553.5L1937.9,532.4L1906.7,562.4L1955.6,415.1L1864.9,530.7L1778.7,662.8L1964.3,422.2L1862.5,492.6L1970.2,559.2L1807.1,545.9L2008.3,417.8L1959.4,571.9L1933.8,470.9L2032.2,470.6L1982.2,450.7L1902.7,482.7L1916.9,545.7L1822.7,596.2L1957.8,517.5L1910.1,587.3L1824.4,562.7L1829.4,555.3L1892.1,494.6L1821.4,593.2L1921.0,552.6L1749.1,594.4L1728.4,639.3L1859.5,543.6L1819.4,593.0L1914.5,481.0L1757.8,615.2L1964.8,433.8L1817.6,596.0L1971.0,429.5L2019.0,375.5L1891.0,516.0L1979.9,435.9L1879.8,473.8L1929.2,483.3L2039.7,353.6L1916.6,503.7L1890.5,546.0L1910.5,538.9L1757.0,606.8L1800.5,561.5L1842.6,546.9L1818.4,643.5L1811.1,555.3L1868.0,507.5L1778.4,583.7L1984.7,516.4L1968.2,465.1L1979.4,408.3L1841.8,539.0L1793.9,597.7L1891.2,593.2L2044.5,388.4L1839.9,600.7L1928.8,531.0L1769.3,624.6L1839.6,609.5L1885.1,522.4L1918.0,541.1L1817.8,553.9L1967.0,440.7L1914.1,485.6L1834.3,557.1L1900.5,571.7L1834.1,540.2L2027.2,458.0L1878.7,493.1L1924.3,482.3L1971.8,450.6L1898.8,493.7L1868.6,560.6L1910.3,510.9L1787.8,657.5L1828.7,496.4L1906.3,500.0L1807.3,533.5L1832.2,565.0L1923.6,573.1L1892.4,499.7L1900.1,528.0L1743.5,643.5L1861.5,559.8L1914.6,546.7L1884.7,513.3L1825.0,609.5L1847.1,583.8L1928.5,557.4L1726.1,598.7L1856.6,572.1L1841.2,571.1L1778.5,601.7L1890.8,571.8L1949.0,484.3L1844.6,537.5L1925.0,415.4L1962.4,469.1L1992.4,462.7L2034.8,383.8L1889.7,496.4L1911.4,584.6L1863.3,565.4L1734.8,681.3L1957.3,469.4L1822.3,606.8L1710.7,681.3L1793.2,662.8L1798.3,557.2L1773.1,605.3L1893.0,561.2L1909.7,606.8L1915.0,513.0L2022.5,410.3L1917.4,568.5L1796.7,606.8L1814.9,606.8L1830.3,561.7L1894.0,525.1L1786.3,643.5L1998.9,463.5L1772.7,562.8L1893.9,534.7L1888.9,478.4L1860.2,545.5L1924.9,491.1L1878.3,481.2L1917.9,531.3L1995.4,443.7L1803.7,589.4L1869.9,523.7L1815.9,497.9L1830.3,612.3L1907.5,563.2L1819.3,581.0L1815.9,554.8L1873.3,473.3L1742.3,621.4L1820.7,624.6L1756.9,618.2L1890.1,534.9L1847.1,573.7L1754.7,647.9L1802.2,584.6L1882.9,600.0L1826.4,615.2L1967.5,561.2L1920.3,574.9L1787.9,588.5L1872.1,662.8L1849.2,513.1L1784.2,585.8L1958.3,454.1L1931.9,501.3L1843.2,598.3L2047.1,480.3L1837.2,512.9L1987.4,450.6L1983.6,428.6L1777.8,598.1L1814.9,662.8L1704.6,657.5L1931.3,550.2L1913.8,529.2L1917.3,470.6L1793.6,662.8L1748.9,662.8L1934.3,478.9L1771.7,621.4L1988.0,451.6L1881.3,504.3L1847.5,561.1L1705.8,615.2L1837.8,510.6L1800.8,574.3L1938.4,517.6L1929.6,538.9L1908.1,475.6L1920.1,533.1L1981.3,528.1L2039.1,412.5L1937.8,530.9L1776.7,631.6L1775.4,674.6L1960.6,507.0L1837.3,525.5L1830.3,574.7L1814.6,647.9L1844.4,602.7L1840.6,570.1L1791.5,612.3L1945.8,477.1L1814.1,509.5L1806.5,643.5L1905.7,489.6L1742.2,565.4L1928.2,531.1L1865.7,587.6L1806.0,609.5L1909.4,470.4L1789.8,652.5L1907.4,587.5L2068.7,318.7L1831.5,612.3L1893.2,526.4L1805.6,635.4L1906.9,628.1L1833.8,596.6L1899.8,463.8L1970.4,621.4L1812.5,604.6L1767.9,578.4L1689.9,643.5L1766.2,557.4L1701.8,580.8L1749.2,615.2L1867.0,550.2L1816.9,662.8L1731.2,668.5L1788.0,674.6L1658.2,591.0L1907.5,446.5L1961.6,460.8L1834.7,598.0L1925.0,562.9L2059.2,393.9L1777.6,618.2L1767.0,652.5L1779.5,624.6L1816.4,553.4L1738.0,635.4L1713.5,643.5L2036.8,463.1L1873.2,459.7L1744.7,606.8L1943.6,468.6L1746.1,615.2L1883.0,539.0L2002.1,414.4L1709.7,621.4L1708.2,662.8L1756.1,549.1L1856.4,538.1L1958.3,489.9L1833.2,621.4L1808.1,560.7L1805.8,615.2L1707.6,674.6L1869.4,612.3L1852.7,522.7L1777.6,624.6L1770.2,652.5L1811.7,575.1L1956.5,483.2L1771.8,652.5L1866.7,527.1L1820.8,573.2L1895.4,461.0L1769.2,557.3L1818.3,573.3L1723.0,662.8L1925.3,512.1L1801.3,539.9L1927.9,514.0L1948.7,477.2L1941.4,456.7L1859.0,446.5L1972.4,548.8L1761.5,597.4L1786.0,668.5L1765.5,652.5L1836.2,657.5L1841.2,583.8L1794.1,596.5L1838.7,596.9L1753.0,643.5L1792.9,639.3L1826.2,657.5L1782.8,600.6L1823.5,566.4L1835.6,520.7L1929.8,501.7L1725.1,606.8L1973.0,431.5L1718.7,582.9L1833.8,556.8L1815.5,597.8L1727.5,674.6L1816.3,576.8L1737.3,662.8L1860.7,589.8L1917.5,478.0L1803.9,581.0L1701.8,602.7L1849.6,609.5L1828.4,628.1L1824.2,562.7L1823.3,528.1L1946.6,445.6L1901.5,588.0L1772.9,609.5L1923.7,461.2L1742.8,624.6L1871.0,568.1L1986.5,480.6L1943.9,492.2L1939.7,478.7L1829.7,502.0L2012.9,347.4L1870.8,555.7L1829.3,587.9L1691.2,618.2L1986.1,446.7L1838.3,527.3L1906.7,589.9L1882.3,546.4L1713.1,618.2L1865.9,547.6L1776.6,583.3L1866.9,562.2L1912.0,562.3L1777.7,557.6L1942.3,602.8L1863.9,533.5L1981.1,498.0L1947.5,486.7L1903.9,580.2L2048.6,436.6L1875.9,531.0L1751.4,668.5L1904.6,488.2L2035.2,356.8L1865.8,483.6L1923.5,480.9L1860.2,509.0L1900.0,472.5L1866.0,415.8L1957.3,422.2L1825.5,591.6L1841.9,584.9L1756.9,533.3L1952.4,493.4L2037.2,377.0L1986.2,491.0L1992.8,506.1L1906.9,462.2L1810.8,544.6L2001.7,360.5L2053.1,352.3L1825.2,597.9L1953.2,517.6L1883.2,546.4L1833.9,606.8L1783.6,539.2L1810.2,668.5L1900.4,530.6L1817.1,546.8L1970.9,493.8L1989.7,434.9L1913.8,525.0L1817.6,558.5L1943.3,456.8L1945.5,537.0L1913.5,516.1L1832.8,551.3L1827.0,569.6L1772.1,647.9L1882.5,621.4L1950.8,477.5L1967.4,491.9L1821.7,581.8L1827.0,581.3L1798.7,612.3L1930.7,538.0L1854.0,536.9L1791.7,635.4L1888.4,551.3L1818.4,579.9L1871.8,544.8L1858.9,594.3L1870.8,521.8L2016.9,442.0L1848.4,546.2L1935.1,561.6L1830.1,525.0L1761.0,533.3L1806.1,554.6L1801.3,604.4L1817.0,606.8L1712.0,575.5L1918.2,541.0L1696.6,662.8L1720.0,668.5L1759.5,552.5L1765.1,643.5L1857.2,531.6L1798.5,621.4L1834.3,542.4L1854.3,515.4L1869.3,606.8L1958.3,505.1L1888.9,438.3L1953.5,467.0L1838.1,618.2L1848.8,502.5L1833.5,542.9L1863.8,518.5L1850.1,604.0L1761.6,596.0L1961.9,465.9L2061.1,359.1L1858.2,532.4L1996.7,377.1L1823.1,553.9L1772.9,568.1L1857.8,552.3L1995.2,359.2L1776.0,618.2L1890.8,476.7L1885.8,463.9L1980.7,477.4L1877.5,463.5L1776.8,618.2L1998.9,417.8L1881.5,511.9L1923.4,514.2L1894.4,574.3L1817.8,527.0L2003.3,493.2L1871.3,593.5L1852.4,555.3L1773.0,578.4L1803.1,546.1L1753.7,681.3L1821.7,624.6L1932.8,487.0L1928.4,499.8L1820.6,567.5L2003.6,418.3L1749.5,565.2L2010.2,408.7L1834.4,503.8L1837.5,557.2L1879.9,553.6L2063.6,404.8L1777.8,514.4L1896.2,535.9L1986.9,496.4L1930.7,466.9L1794.2,612.3L1908.6,542.1L1901.4,478.9L2059.0,392.5L1889.2,592.9L1943.4,509.4L1946.8,444.8L1742.5,593.8L1877.3,493.9L1949.9,492.9L2015.3,475.2L1896.7,531.0L1873.8,521.4L1790.1,643.5L2022.7,412.5L1752.9,554.5L1970.6,455.9L1830.8,547.3L1759.4,643.5L1744.3,662.8L1787.1,525.6L1879.1,562.6L1796.4,668.5L1778.2,668.5L1820.4,612.3L1760.4,571.8L1810.1,591.6L1666.8,681.3L1850.7,564.9L1904.6,578.0L1788.9,662.8L1731.6,635.4L1772.1,621.4L1868.7,583.6L1898.8,524.1L1905.7,578.6L1760.7,624.6L1817.8,539.7L2056.6,387.7L2036.4,367.6L1839.7,595.2L1816.4,609.5L2011.7,441.5L1841.9,583.8L1897.4,566.5L1911.6,573.0L2052.6,397.3L1944.8,504.1L1729.1,657.5L1959.4,509.4L1807.3,621.4L2088.2,314.5L1922.9,525.3L1766.3,576.1L1786.1,590.8L1862.8,537.9L1872.1,583.8L1822.4,561.5L1910.9,536.8L2010.2,480.2L1879.7,483.5L2007.0,471.7L1855.9,569.7L2003.8,530.0L1954.9,515.6L1850.4,416.5L1907.0,524.0L1977.0,323.3L1838.6,484.6L2016.2,349.8L1778.6,596.4L1966.9,401.2L1946.9,506.8L1948.5,410.4L2023.7,487.5L1886.5,484.4L1990.6,549.5L1985.6,438.5L1798.5,615.2L1796.0,587.2L2004.7,424.7L1795.9,639.3L1832.7,513.4L1909.4,588.2L1802.0,639.3L2033.4,599.8L1994.2,469.8L1863.5,647.9L1970.3,488.7L1911.0,514.7L1880.8,615.2L1862.6,599.1L1869.8,609.5L1944.8,681.3L1932.5,484.2L1807.2,631.6L2032.9,378.4L1764.2,606.8L1829.7,615.2L1847.4,545.7L1715.7,601.1L2012.4,362.1L1877.2,609.5L1871.2,514.0L1901.0,587.0L1805.5,570.5L1755.8,643.5L1846.0,581.9L1911.8,615.2L1862.7,487.0L1820.2,588.4L1878.1,509.0L1947.9,499.1L1912.2,571.2L1815.9,602.4L1907.8,561.2L1679.1,600.4L2028.2,321.5L1872.9,575.3L1831.1,674.6L1959.9,587.6L1881.5,523.1L1929.4,536.7L2000.9,577.6L1858.4,579.3L1835.7,595.2L1904.2,681.3L1898.2,643.5L1907.6,548.1L2062.0,394.1L1930.0,486.7L1955.7,333.8L1737.8,618.2L1838.7,604.9L1862.8,537.3L2038.4,425.2L1969.1,357.1L2028.6,401.5L1869.8,522.2L2019.9,467.7L1896.0,498.6L1995.2,423.3L1711.5,596.8L1889.0,543.2L2010.3,231.7L1943.2,484.9L1955.4,494.0L1997.9,423.0L1882.7,526.2L1955.8,531.3L1911.0,492.8L1785.1,492.6L1772.0,639.3L1805.3,681.3L1976.8,485.7L1907.2,502.3L1901.1,541.3L1950.9,472.3L1922.4,497.6L1873.4,571.4L1907.7,559.0L2045.9,405.1L1907.4,503.8L1868.3,556.8L1805.6,612.3L1786.9,609.5L1776.5,639.3L2057.7,591.1L2013.1,480.3L1897.6,498.5L2022.6,335.2L1774.7,662.8L1997.4,380.6L1783.1,668.5L1884.0,558.7L1887.8,538.9L2020.2,500.4L1819.6,590.5L1938.1,528.0L1864.9,652.5L1877.4,588.3L1884.7,647.9L1957.6,344.7L1963.9,395.3L1955.7,500.0L1890.7,436.3L1851.3,621.4L1803.2,555.2L1836.3,583.7L1798.9,639.3L1881.2,635.4L1993.4,345.8L1892.5,541.3L1954.4,479.2L1885.6,609.5L1949.0,612.3L2011.2,445.6L1880.5,519.2L1770.1,609.5L1872.3,628.1L1937.2,453.1L2052.3,329.0L1937.5,657.5L1882.4,476.4L1925.7,531.3L1907.6,479.2L2020.8,460.2L1914.4,639.3L1821.3,576.7L1935.3,421.4L1954.9,397.0L1885.0,566.0L1956.0,489.7L1954.4,467.8L1919.7,545.7L2013.0,220.5L1842.2,652.5L1837.1,624.6L1836.3,554.8L1970.2,497.1L1867.4,521.1L1749.5,618.2L1867.5,561.3L1893.6,507.3L1788.8,539.8L1944.1,391.9L1861.7,657.5L1832.1,571.7L1885.0,602.6L1998.0,502.8L1845.7,612.3L2023.3,410.1L1936.9,404.3L1956.1,490.1L1955.7,535.9L1934.1,490.4L1880.5,602.2L2063.1,365.9L2032.0,560.6L1840.8,593.5L1767.8,674.6L1739.3,556.9L1903.8,525.4L1875.5,454.2L1894.4,576.4L2017.0,410.2L1751.7,606.8L1851.0,515.0L1810.0,662.8L1881.1,490.4L1883.8,517.1L1987.2,355.5L1851.8,662.8L1912.4,471.8L1822.0,647.9L1956.0,539.8L1890.0,462.3L1745.5,662.8L2052.7,398.9L1992.5,657.5L1861.0,606.8L1857.1,562.2L1902.1,566.0L1863.0,516.5L1944.3,635.4L1825.0,565.8L1912.9,481.5L1943.0,546.9L1978.9,407.5L1934.5,470.0L1873.8,639.3L1881.4,498.3L1939.6,568.0L1940.1,441.5L1851.8,452.9L1937.6,624.6L1907.0,503.5L1841.3,462.8L1918.7,369.8L2020.7,490.7L1833.6,536.8L1777.1,652.5L1887.1,545.0L1853.0,601.4L1829.4,568.5L1865.6,628.1L2054.0,553.4L1791.4,584.9L1850.3,558.0L2018.6,394.3L1879.4,502.3L1823.9,662.8L1930.0,391.1L1991.1,367.2L1793.3,557.2L2000.5,401.7L1994.5,443.8L1868.5,518.9L1881.1,589.1L1809.6,609.5L1943.0,316.9L1953.0,522.7L1758.2,647.9L1896.6,609.5L1735.1,647.9L1857.5,615.2L1939.6,576.2L1893.4,621.4L1918.8,599.1L1922.0,416.2L1899.8,552.9L1773.4,595.0L2009.4,349.3L1874.9,473.9L1870.1,546.1L2013.4,527.5L1876.5,568.2L1836.9,621.4L1741.7,572.4L1849.9,572.4L1902.3,647.9L1891.9,606.8L1981.4,429.8L1968.2,372.4L1956.8,558.0L1895.1,503.3L1933.1,454.4L1909.6,484.4L1798.1,615.2L1908.6,469.5L2007.3,481.0L1874.0,508.0L1843.9,674.6L1940.4,398.5L1880.8,498.8L1761.8,594.5L1905.3,549.9L2013.3,357.7L1974.9,525.1L1990.2,501.9L1995.9,435.5L2033.4,415.8L1940.2,428.2L1963.8,458.6L1953.8,418.8L1887.2,517.8L2004.7,433.9L1803.2,601.3L1831.6,609.5L2015.4,517.4L1830.9,570.6L1908.8,457.0L2034.3,427.3L1792.3,588.8L1905.0,461.2L2056.9,481.8L1900.3,635.4L1882.5,496.3L1783.8,545.3L1847.6,564.4L1819.8,652.5L1790.6,588.7L1882.6,380.8L2031.8,416.9L1985.7,441.7L1952.3,516.1L1941.9,455.0L1810.1,501.4L1847.1,609.5L1928.8,498.9L1922.0,458.6L1931.1,635.4L1959.0,585.6L1902.1,503.1L1909.5,511.4L1981.3,408.3L1833.7,511.4L1887.4,528.6L1969.6,553.5L1859.1,628.1L1944.4,422.0L2002.8,434.9L1929.9,534.0L1967.5,477.6L1821.5,657.5L1646.0,681.3L1797.7,681.3L1766.4,503.9L1785.5,559.3L1828.8,628.1L1639.8,662.8L1697.5,668.5L1894.0,569.5L1817.5,603.2L1688.7,609.5L1818.6,609.5L1792.0,561.2L1876.3,599.8L1721.5,643.5L1638.7,487.5L1591.8,674.6L1711.7,668.5L1635.3,590.9L1729.9,681.3L1743.9,652.5L1834.2,657.5L1828.1,681.3L1691.4,662.8L1862.6,628.1L1724.7,621.4L1849.3,502.4L1764.0,575.0L1645.6,681.3L1808.8,524.1L1763.4,657.5L1730.2,592.7L1787.1,537.8L1717.4,548.0L1777.9,598.5L1830.5,570.4L1737.1,681.3L1723.7,647.9L1810.4,605.1L1834.7,609.5L1732.3,603.7L1762.9,657.5L1746.9,652.5L1822.5,550.4L1774.9,554.7L1738.5,500.9L1778.4,490.0L1816.6,420.8L1723.2,586.6L1664.3,624.6L1720.3,612.3L1751.8,674.6L1786.0,466.6L1710.1,624.6L1842.2,631.6L1800.1,584.1L1802.3,606.8L1707.8,624.6L1592.6,674.6L1771.6,662.8L1804.7,546.7L1644.3,618.2L1694.7,628.1L1892.9,445.8L1672.6,643.5L1613.8,615.2L1749.2,618.2L1745.2,612.3L1880.0,635.4L1914.0,618.2L1782.1,444.1L1726.8,647.9L1841.9,543.9L1798.1,601.2L1788.6,587.2L1730.9,474.4L1713.7,662.8L1818.2,443.3L1639.9,657.5L1792.1,529.1L1756.8,668.5L1659.0,681.3L1721.6,594.4L1801.5,512.6L1649.4,591.3L1680.9,554.7L1852.4,563.2L1759.3,624.6L1727.3,618.2L1718.1,615.2L1791.2,657.5L1738.3,639.3L1651.7,628.1L1704.6,662.8L1747.8,662.8L1762.0,586.3L1725.9,597.8L1772.7,662.8L1628.3,662.8L1722.3,587.0L1735.6,643.5L1713.4,674.6L1774.7,662.8L1742.6,568.0L1788.8,657.5L1708.9,586.6L1647.5,657.5L1688.6,662.8L1767.7,563.7L1655.5,674.6L1667.8,618.2L1788.4,588.2L1539.8,657.5L1629.1,606.8L1680.5,681.3L1542.1,657.5L1624.4,624.6L1615.8,674.6L1650.6,674.6L1627.5,639.3L1591.6,643.5L1600.2,668.5L1634.0,591.9L1684.5,600.8L1602.1,657.5L1664.8,635.4L1668.7,865.4L1647.3,865.4L1522.0,865.4L1596.4,865.4L1528.8,865.4L1673.9,865.4L1619.6,865.4L1718.2,865.4L1552.3,865.4L1584.6,865.4L1612.6,865.4L1719.6,865.4L1577.9,865.4L1602.4,865.4L1600.5,865.4L1581.3,865.4L1607.2,865.4L1501.3,865.4L1543.9,865.4L1592.2,865.4L1549.1,865.4L1616.2,865.4L1632.1,812.2L1550.9,812.2L1666.4,812.2L1726.3,812.2L1515.5,812.2L1536.7,812.2L1617.0,812.2L1569.3,812.2L1630.3,812.2L1572.6,812.2L1621.6,812.2L1474.6,812.2L1585.2,812.2L1697.9,812.2L1642.5,812.2L1679.3,812.2L1700.8,812.2L1684.4,812.2L1634.8,812.2L1520.0,812.2L1540.0,812.2L1727.9,812.2L1601.0,812.2L1690.4,812.2L1670.5,781.1L1716.6,781.1L1675.9,781.1L1629.3,781.1L1556.8,781.1L1608.5,781.1L1545.7,781.1L1557.3,781.1L1684.4,781.1L1691.7,781.1L1698.0,781.1L1739.8,781.1L1561.7,781.1L1579.1,781.1L1601.2,781.1L1699.7,781.1L1550.3,781.1L1738.2,781.1L1700.7,781.1L1580.0,781.1L1621.1,781.1L1595.2,781.1L1675.4,781.1L1671.0,781.1L1597.1,781.1L1585.7,781.1L1690.0,781.1L1652.7,781.1L1821.2,759.0L1671.1,759.0L1850.6,759.0L1615.4,759.0L1610.9,759.0L1650.7,759.0L1842.8,759.0L1705.4,759.0L1722.2,759.0L1639.4,759.0L1613.5,759.0L1498.3,759.0L1651.6,759.0L1555.4,759.0L1657.0,759.0L1768.0,759.0L1644.4,759.0L1635.4,759.0L1689.7,759.0L1651.8,759.0L1712.3,759.0L1663.9,759.0L1648.4,759.0L1759.3,759.0L1530.3,759.0L1628.5,759.0L1696.7,759.0L1779.9,759.0L1601.4,759.0L1743.2,759.0L1785.3,759.0L1559.0,741.8L1633.9,741.8L1647.7,741.8L1540.9,741.8L1681.7,741.8L1657.8,741.8L1605.5,741.8L1715.8,741.8L1664.7,741.8L1602.7,741.8L1815.5,741.8L1730.6,741.8L1713.3,741.8L1671.1,741.8L1665.6,741.8L1619.6,741.8L1525.4,741.8L1713.7,741.8L1553.2,741.8L1664.8,741.8L1680.4,741.8L1734.9,741.8L1694.2,741.8L1670.9,741.8L1618.2,741.8L1548.6,741.8L1774.1,741.8L1542.0,741.8L1697.3,741.8L1710.6,741.8L1758.2,727.8L1608.6,727.8L1631.7,727.8L1487.6,727.8L1867.4,727.8L1697.7,727.8L1677.8,727.8L1648.9,727.8L1688.6,727.8L1558.2,727.8L1756.8,727.8L1624.7,727.8L1556.1,727.8L1799.4,727.8L1639.4,727.8L1769.1,727.8L1582.5,727.8L1736.5,727.8L1823.2,727.8L1494.8,727.8L1658.3,727.8L1540.9,727.8L1555.4,727.8L1736.8,727.8L1620.0,727.8L1790.6,727.8L1675.1,727.8L1755.9,727.8L1622.7,727.8L1680.8,727.8L1611.3,727.8L1655.3,727.8L1596.2,727.8L1578.4,727.8L1646.4,727.8L1775.8,716.0L1717.1,716.0L1663.9,716.0L1693.3,716.0L1678.1,716.0L1570.9,716.0L1587.7,716.0L1690.3,716.0L1764.9,716.0L1577.4,716.0L1705.2,716.0L1717.4,716.0L1644.0,716.0L1728.4,716.0L1653.6,716.0L1756.7,716.0L1532.2,716.0L1640.7,716.0L1775.5,716.0L1632.1,716.0L1667.7,716.0L1780.4,716.0L1542.2,716.0L1647.0,716.0L1772.1,716.0L1784.4,716.0L1553.4,716.0L1781.1,716.0L1615.7,716.0L1564.6,716.0L1532.0,716.0L1645.5,716.0L1669.2,705.7L1710.7,705.7L1823.1,705.7L1773.8,705.7L1797.9,705.7L1723.7,705.7L1669.7,705.7L1773.8,705.7L1663.8,705.7L1700.1,705.7L1848.5,705.7L1592.6,705.7L1700.6,705.7L1649.1,705.7L1617.4,705.7L1670.2,705.7L1580.1,705.7L1666.2,705.7L1561.9,705.7L1682.0,705.7L1720.5,705.7L1736.1,705.7L1729.2,705.7L1716.6,705.7L1816.4,705.7L1580.2,705.7L1634.8,705.7L1708.4,705.7L1776.6,705.7L1707.8,705.7L1783.9,705.7L1783.7,705.7L1714.0,705.7L1685.9,705.7L1651.5,696.7L1743.7,696.7L1871.1,696.7L1809.2,696.7L1753.6,696.7L1794.1,696.7L1810.8,696.7L1746.0,696.7L1635.9,696.7L1580.7,696.7L1837.6,696.7L1615.6,696.7L1672.6,696.7L1632.3,696.7L1802.4,696.7L1773.6,696.7L1693.0,696.7L1600.9,696.7L1629.0,696.7L1844.1,696.7L1732.5,696.7L1773.5,696.7L1623.6,696.7L1748.2,696.7L1649.5,696.7L1713.6,696.7L1559.8,696.7L1708.4,696.7L1776.1,696.7L1625.0,696.7L1752.5,696.7L1812.5,696.7L1802.2,696.7L1787.1,696.7L1717.3,696.7L1675.3,688.6L1690.1,688.6L1649.8,688.6L1844.8,688.6L1806.9,688.6L1722.5,688.6L1809.0,688.6L1738.4,688.6L1722.3,688.6L1726.7,688.6L1848.2,688.6L1765.3,688.6L1775.0,688.6L1737.8,688.6L1683.4,688.6L1708.6,688.6L1706.5,688.6L1821.2,688.6L1742.4,688.6L1591.4,688.6L1650.3,688.6L1669.4,688.6L1815.5,688.6L1676.8,688.6L1792.5,688.6L1673.3,688.6L1731.0,688.6L1789.8,688.6L1766.5,688.6L1755.3,688.6L1651.7,688.6L1658.2,688.6L1619.9,688.6L1716.9,688.6L1731.1,688.6L1825.3,688.6L2345.5,115.9L2346.4,126.1L2343.6,145.4L2359.2,145.4L2269.4,162.6L2301.7,165.5L2335.6,179.8L2250.9,183.1L2276.0,198.3L2265.9,203.2L2163.1,200.7L2212.9,206.1L2167.5,215.9L2185.4,215.5L2177.1,220.3L2200.5,226.1L2085.8,234.2L2283.3,236.6L2297.4,248.3L2245.3,246.2L2263.1,252.4L2173.7,242.0L2173.7,255.3L2210.3,248.5L2219.2,255.9L2134.1,244.3L2125.6,250.5L2145.5,254.5L2157.3,263.6L2150.7,270.0L2156.5,269.0L2263.6,277.7L2253.4,292.0L2076.8,273.2L2088.7,280.0L2104.4,280.4L2119.2,276.1L2110.0,288.1L2201.7,286.2L2165.9,286.2L2160.7,287.7L2157.8,291.0L2169.4,294.1L2133.1,292.9L2143.4,295.8L2148.6,299.3L2075.8,298.0L2082.5,306.4L2082.5,309.5L2139.5,311.9L2126.0,316.7L2130.4,319.6L2142.6,319.6L2132.4,324.8L2115.0,324.4L2107.3,320.2L2100.9,320.9L2092.6,313.8L2092.6,319.6L2073.9,314.7L2076.8,319.6L2081.6,321.5L2084.5,321.5L2212.9,322.9L2165.9,327.7L2072.9,329.2L2074.8,336.0L2104.7,336.9L2083.5,343.7L2098.6,346.0L2138.0,345.3L2077.3,352.0L2087.0,352.8L2101.9,362.0L2078.7,364.0L2089.3,366.9L2073.9,367.8L2148.2,362.6L2154.0,362.2L2115.8,369.8L2193.2,396.8L2169.1,460.9L2155.9,476.9L2122.7,497.6L2039.7,595.3L2020.6,630.2L1977.8,687.2L2128.5,405.3L2086.4,457.6L2095.7,473.5L2095.1,475.4L2106.3,481.8L2085.9,479.8L1776.0,380.9L1785.7,411.3L1700.9,443.0L1893.1,287.6L1916.3,347.7" fill="none" stroke="none" marker-start="url(#x)" marker-mid="url(#x)" marker-end="url(#x)"/>
<g font-size="39.5" fill="#000">
<text x="1666.5" y="368.8">A0302</text>
<text x="1645.9" y="421.9">A0729</text>
<text x="1560.8" y="464.1">A0303</text>
<text x="1830.9" y="279.2">A1469</text>
<text x="1824.3" y="341.0">A1593</text>
<text x="1973.1" y="174.4" font-style="italic">dnaK/</text>
<text x="1970.1" y="228.5">A2418</text>
<text x="2116.4" y="191.6" font-style="italic">sodB</text>
<text x="2317.1" y="253.5" font-style="italic">psbT</text>
<text x="2281.8" y="292.7">A2579</text>
<text x="2262.8" y="330.5" font-style="italic">psaC</text>
<text x="2222.1" y="362.1" font-style="italic">psaL</text>
<text x="2207.9" y="411.9">A1490</text>
<text x="2187.3" y="456.6" font-style="italic">psaM</text>
<text x="2175.9" y="502.5">B0003</text>
<text x="2110.4" y="542.5">A1509</text>
<text x="2060.6" y="609.4">G0037</text>
<text x="2038.9" y="657.1">G0036</text>
<text x="1995.7" y="707.5">G0038</text>
</g>
<text x="1576.5" y="1014.8" font-size="42" fill="#111">Relative transcript abundance (standard)</text>
<text transform="translate(1322.0 853.0) rotate(-90)" font-size="42" fill="#111">Relative transcript abundance (high salt)</text>
<text x="1296.5" y="32.0" font-size="40" font-weight="bold" fill="#000">B</text>
</g>
<g id="panelC">
<path d="M737.9 1971.5L1662.8 1140.5M793.2 2028.2L1722.1 1193.7" stroke="#b3b3b3" stroke-width="1.1" fill="none"/>
<path d="M737.9 1139.8V2033.5M729.1 2024.7H1722.8M729.1 1140.5h8.8M729.1 1317.3h8.8M729.1 1494.2h8.8M729.1 1671.0h8.8M729.1 1847.9h8.8M934.7 2024.7v8.8M1131.6 2024.7v8.8M1328.4 2024.7v8.8M1525.3 2024.7v8.8M1722.1 2024.7v8.8" stroke="#7f7f7f" stroke-width="1.6" fill="none"/>
<g font-size="25" fill="#000">
<text x="710.9" y="2033.7" text-anchor="end" textLength="86" lengthAdjust="spacingAndGlyphs">1.0E-06</text>
<text x="710.9" y="1856.9" text-anchor="end" textLength="86" lengthAdjust="spacingAndGlyphs">1.0E-05</text>
<text x="710.9" y="1680.0" text-anchor="end" textLength="86" lengthAdjust="spacingAndGlyphs">1.0E-04</text>
<text x="710.9" y="1503.2" text-anchor="end" textLength="86" lengthAdjust="spacingAndGlyphs">1.0E-03</text>
<text x="710.9" y="1326.3" text-anchor="end" textLength="86" lengthAdjust="spacingAndGlyphs">1.0E-02</text>
<text x="710.9" y="1149.5" text-anchor="end" textLength="86" lengthAdjust="spacingAndGlyphs">1.0E-01</text>
<text x="737.9" y="2071.0" text-anchor="middle" textLength="86" lengthAdjust="spacingAndGlyphs">1.0E-06</text>
<text x="934.7" y="2071.0" text-anchor="middle" textLength="86" lengthAdjust="spacingAndGlyphs">1.0E-05</text>
<text x="1131.6" y="2071.0" text-anchor="middle" textLength="86" lengthAdjust="spacingAndGlyphs">1.0E-04</text>
<text x="1328.4" y="2071.0" text-anchor="middle" textLength="86" lengthAdjust="spacingAndGlyphs">1.0E-03</text>
<text x="1525.3" y="2071.0" text-anchor="middle" textLength="86" lengthAdjust="spacingAndGlyphs">1.0E-02</text>
<text x="1722.1" y="2071.0" text-anchor="middle" textLength="86" lengthAdjust="spacingAndGlyphs">1.0E-01</text>
</g>
<path d="M1270.3,1573.1L1265.5,1606.1L1244.9,1584.0L1074.7,1734.1L1014.3,1741.4L1323.3,1486.2L1174.5,1657.9L1296.6,1555.8L1081.7,1680.9L1246.1,1602.5L1123.9,1649.8L1247.9,1588.4L1115.7,1702.7L1146.2,1634.9L1030.5,1724.3L1246.2,1594.5L1140.6,1623.2L1070.9,1707.5L1230.7,1635.4L1356.9,1509.4L1152.1,1628.3L1215.6,1586.5L1170.0,1592.3L1343.4,1479.2L1030.6,1780.6L1063.7,1709.9L1155.6,1675.2L1210.2,1568.5L1156.3,1623.3L1154.9,1624.4L1216.4,1590.5L1091.3,1696.1L1012.8,1780.6L1334.4,1494.6L1189.0,1603.7L1128.8,1631.7L1213.9,1592.3L1134.9,1653.3L1033.3,1780.6L1171.7,1658.9L1219.2,1622.6L1218.2,1568.0L1156.0,1653.1L1309.0,1549.1L1322.7,1510.8L1275.7,1505.9L1105.4,1668.7L1076.5,1727.4L1149.7,1616.1L1187.2,1674.9L1158.3,1651.7L1124.1,1673.7L1118.5,1687.9L1113.3,1774.5L1339.3,1466.0L1002.9,1763.5L1309.1,1556.6L1295.3,1522.8L1170.3,1622.3L1053.3,1708.6L1236.6,1549.9L1045.6,1753.9L1091.3,1665.8L1191.2,1610.6L1120.3,1683.8L1130.2,1689.2L1086.4,1678.0L991.9,1758.5L1102.4,1741.4L1251.9,1599.9L1253.5,1588.7L1016.0,1745.3L1156.4,1652.8L1100.5,1715.6L1113.0,1687.9L1368.2,1439.1L1244.2,1590.5L1143.1,1702.2L1143.3,1700.1L1300.9,1556.2L1106.4,1658.8L1232.8,1583.6L1212.8,1609.4L1215.7,1607.9L1128.8,1675.6L1197.5,1661.2L1256.8,1567.7L1084.3,1753.9L1225.4,1642.7L1136.1,1625.5L1151.0,1705.3L1131.3,1632.0L1106.3,1645.0L1221.2,1563.8L1111.1,1686.0L1051.6,1706.7L1235.1,1570.1L1113.2,1672.3L1164.1,1629.0L1360.8,1454.4L1185.1,1605.1L1148.1,1671.1L1081.0,1700.3L1205.6,1590.2L1336.3,1540.2L1205.3,1631.5L1228.0,1593.6L1090.6,1734.1L1089.3,1727.4L1101.6,1681.0L1135.2,1646.5L1286.0,1537.4L1131.7,1699.1L1050.1,1724.3L1150.6,1703.4L1074.2,1753.9L1181.4,1637.2L1096.3,1686.2L1327.8,1568.2L1123.6,1768.8L1165.2,1640.0L1165.7,1653.6L1117.2,1670.9L1355.4,1466.3L995.9,1753.9L1218.0,1564.3L1075.5,1709.4L1051.1,1727.4L1220.7,1592.0L1295.5,1530.8L1230.2,1597.0L1081.3,1693.3L1140.2,1662.0L1031.0,1706.5L1118.8,1657.0L1073.7,1701.1L987.6,1774.5L1083.1,1702.2L1308.9,1508.4L1149.9,1687.2L1078.2,1706.8L1029.4,1787.3L1288.7,1533.1L1020.5,1768.8L1028.7,1727.4L1221.3,1626.6L1313.2,1496.2L1022.2,1787.3L1182.0,1648.6L1186.5,1626.9L1148.7,1656.4L1199.8,1637.1L1121.7,1644.4L1311.4,1508.0L1181.6,1651.4L1090.4,1708.7L1179.5,1667.4L1273.7,1527.1L1119.2,1647.6L1102.5,1687.8L1172.4,1615.6L1265.4,1547.7L1055.6,1724.3L1168.9,1662.6L1175.2,1648.3L1134.2,1718.3L1102.2,1741.4L1324.9,1557.2L1247.3,1540.3L1043.7,1780.6L1073.7,1689.7L1119.7,1642.8L1045.8,1727.4L1096.1,1710.1L1195.9,1604.5L1216.4,1625.8L1248.2,1530.8L1246.3,1571.1L1091.9,1672.9L1150.5,1664.0L1215.9,1586.3L1174.1,1669.2L1164.3,1670.8L1245.5,1530.5L1322.2,1491.3L1288.6,1534.0L1077.2,1768.8L1031.6,1712.9L1082.3,1768.8L1240.7,1546.8L1090.1,1663.0L1217.9,1611.8L1168.1,1673.2L1031.2,1768.8L1252.7,1608.9L1182.5,1613.6L1152.0,1622.3L1069.9,1721.2L1075.0,1666.5L1109.7,1727.4L1136.7,1674.0L1044.4,1774.5L1124.6,1694.7L1141.0,1653.7L1152.6,1664.9L1109.9,1695.3L1139.2,1685.2L1161.1,1630.8L1147.2,1669.6L1051.3,1745.3L1062.8,1758.5L1075.9,1745.3L1141.6,1641.9L1205.0,1636.4L1146.9,1653.3L1123.7,1641.0L1057.8,1734.1L1062.7,1737.6L1068.7,1712.9L1216.1,1642.7L1218.1,1612.8L1271.7,1540.3L1095.7,1718.3L1146.5,1660.3L1211.7,1585.2L1158.8,1632.0L1268.1,1526.9L1201.1,1592.4L1145.7,1643.8L1111.2,1663.7L1127.8,1626.2L1227.1,1600.9L1316.1,1525.7L1137.3,1670.2L1116.4,1650.2L1042.6,1749.5L1142.0,1616.3L1191.1,1646.2L1286.7,1536.5L1110.7,1721.2L1034.9,1737.6L1223.0,1586.8L1086.9,1753.9L1207.4,1610.8L1240.7,1543.4L1339.1,1454.1L1048.5,1780.6L1075.1,1708.4L1109.9,1688.9L1248.1,1567.8L1123.2,1691.3L1122.9,1651.2L1257.5,1549.4L1031.4,1745.3L1027.4,1787.3L1020.5,1741.4L1144.0,1608.6L1060.1,1730.7L1102.0,1712.9L1139.3,1677.2L1149.5,1648.2L1111.0,1654.2L1038.0,1780.6L1247.9,1567.2L1270.9,1513.0L1159.8,1631.1L1082.3,1696.5L1031.4,1734.1L1279.3,1587.7L1178.7,1655.7L1074.0,1667.5L1167.7,1630.1L1156.3,1634.6L1131.5,1693.2L1230.0,1610.4L1181.2,1623.2L1035.1,1704.1L1060.4,1698.3L1200.8,1616.2L1199.3,1606.2L1150.9,1625.1L1109.0,1640.2L1118.9,1656.7L1135.1,1620.8L1023.8,1753.9L1308.1,1482.6L1119.1,1727.4L1190.1,1597.9L1277.9,1513.8L1201.2,1624.2L1072.6,1768.8L1292.2,1542.9L1277.4,1572.0L1130.5,1682.7L1079.5,1699.5L1251.4,1592.8L1327.9,1517.6L1338.8,1461.0L1320.3,1506.4L1081.0,1679.6L1245.6,1567.4L1270.2,1527.3L1050.7,1737.6L1097.2,1690.7L1332.8,1454.9L1233.7,1543.9L1203.2,1581.8L1067.0,1758.5L1213.9,1577.6L1075.4,1710.8L1071.2,1741.4L1132.4,1686.1L988.9,1745.3L1363.6,1430.7L1137.7,1638.8L1229.1,1583.0L1149.6,1638.0L1032.8,1724.3L1127.6,1692.9L955.0,1774.5L1085.5,1734.1L1181.2,1590.3L1051.3,1730.7L1300.9,1514.5L1181.0,1629.6L1121.4,1641.5L1287.6,1594.7L1073.2,1710.9L1031.4,1763.5L1078.9,1686.9L1136.8,1619.8L1111.6,1672.0L1069.5,1741.4L1131.4,1686.3L1136.8,1653.7L1202.0,1580.9L1180.8,1607.0L1014.8,1741.4L1042.3,1749.5L1085.5,1718.3L1318.4,1523.5L1008.0,1787.3L1186.1,1639.1L1114.7,1682.1L1070.1,1737.6L1183.3,1617.7L1223.0,1559.3L1228.3,1550.6L1061.9,1688.3L1054.8,1737.6L1054.4,1718.3L1063.6,1749.5L1061.5,1737.6L1147.6,1635.8L1090.1,1745.3L1176.2,1656.6L1236.8,1573.3L1019.8,1737.6L1322.0,1475.4L1109.9,1697.7L1050.3,1758.5L1070.0,1688.8L1003.5,1787.3L1080.6,1701.3L1132.5,1687.5L1026.2,1787.3L1120.7,1672.5L1152.0,1649.2L1090.4,1693.6L1293.0,1472.6L1265.9,1574.1L1136.3,1659.3L1188.7,1617.8L1095.3,1724.3L1131.0,1715.6L1212.6,1600.8L1189.4,1600.7L1023.3,1787.3L1298.6,1505.5L1135.9,1685.3L1294.4,1550.0L1118.8,1721.2L1294.5,1528.2L1259.5,1543.2L1282.5,1526.2L1195.9,1649.8L1164.7,1662.0L938.4,1787.3L1180.1,1614.4L1183.5,1633.3L1270.6,1525.6L1111.4,1689.2L1007.3,1774.5L1215.4,1535.0L1104.3,1727.4L1093.3,1678.9L1193.1,1582.0L993.9,1780.6L1351.8,1497.6L1273.5,1550.4L1240.3,1554.7L1136.4,1703.6L1110.2,1734.1L1052.4,1763.5L988.0,1768.8L1238.1,1582.7L1072.7,1727.4L1220.2,1602.3L1005.5,1758.5L1070.0,1712.9L1121.3,1658.5L1106.9,1715.6L1059.0,1700.2L1230.6,1578.0L1011.3,1787.3L1173.8,1630.2L1159.2,1610.7L1147.4,1620.2L1051.6,1745.3L1185.7,1612.5L1208.6,1601.3L1160.5,1658.5L1164.7,1638.1L1154.1,1633.0L1122.8,1640.3L1163.5,1622.6L1145.7,1632.0L1081.5,1676.8L1261.4,1597.0L1097.2,1749.5L1024.1,1774.5L1178.3,1677.8L1266.2,1578.1L1028.9,1676.2L1090.9,1741.4L1077.6,1682.4L1043.6,1758.5L1079.3,1712.9L1120.1,1727.4L1063.4,1749.5L1150.1,1689.4L1115.7,1690.3L1111.9,1643.0L1028.1,1763.5L1222.4,1587.2L1176.5,1669.6L1157.3,1631.9L1088.8,1681.0L1213.9,1580.2L1254.3,1621.0L1158.1,1611.5L1175.8,1649.1L1199.4,1626.2L1080.4,1734.1L1072.9,1737.6L1226.9,1565.2L1089.8,1712.9L1130.4,1706.2L1268.6,1486.8L1119.7,1718.3L1159.4,1611.9L1290.9,1503.7L1042.3,1763.5L1052.5,1730.7L1101.0,1715.6L1034.8,1774.5L1162.4,1631.7L1094.7,1741.4L1019.8,1780.6L1212.0,1624.9L1222.8,1621.4L1295.4,1524.0L1100.8,1673.2L1153.8,1612.9L1182.3,1622.3L1276.2,1511.8L1321.8,1493.2L1095.1,1695.2L1061.8,1745.3L1078.9,1694.4L1074.9,1721.2L1229.8,1576.1L1177.1,1645.7L1031.5,1741.4L1178.3,1614.8L1189.7,1646.1L1139.2,1639.6L1215.2,1596.0L1011.5,1737.6L1198.8,1619.9L1004.3,1787.3L1265.6,1540.8L1150.9,1640.0L1259.0,1574.2L1040.6,1787.3L1057.0,1734.1L1255.8,1579.0L1019.7,1712.9L1091.5,1691.2L1232.6,1576.5L1265.4,1587.8L1038.6,1734.1L1008.4,1730.7L1179.1,1631.3L1062.7,1711.5L1084.2,1730.7L1100.6,1710.9L1245.7,1566.2L1163.3,1658.6L1013.1,1787.3L1284.8,1515.5L1180.1,1594.8L1050.0,1745.3L1176.0,1621.6L1238.8,1560.4L1251.5,1610.1L1185.0,1623.7L1039.0,1774.5L1262.6,1580.6L1192.9,1633.6L1250.9,1545.5L1133.9,1671.3L1272.2,1595.5L1241.3,1591.9L1094.0,1724.3L1043.1,1774.5L1176.7,1571.4L1058.8,1753.9L1098.0,1659.9L1064.9,1768.8L1110.9,1702.5L1100.2,1678.7L1202.7,1618.6L1172.6,1648.1L1048.4,1734.1L1186.8,1662.4L1221.6,1585.9L1127.8,1718.3L990.0,1753.9L1237.6,1612.3L1210.1,1573.0L1007.8,1730.7L1078.9,1672.2L1224.3,1580.7L1180.8,1624.7L1040.0,1753.9L1097.0,1691.0L996.7,1780.6L1285.4,1539.7L1233.3,1635.6L1071.0,1730.7L1118.4,1684.1L1218.3,1608.8L1149.9,1634.4L1023.8,1763.5L1232.7,1542.2L1207.7,1574.8L1266.8,1573.0L1134.6,1675.3L1165.5,1672.3L1195.3,1649.1L1283.0,1507.5L1140.7,1696.5L1071.9,1683.1L1114.7,1712.9L1274.8,1530.5L1180.1,1597.6L1154.4,1657.6L1155.5,1660.3L1138.0,1680.0L1312.3,1505.2L1326.0,1493.5L1097.0,1708.2L1045.4,1768.8L1072.3,1741.4L1116.6,1682.6L1194.7,1602.6L1191.1,1642.5L1134.9,1679.0L1306.4,1516.0L1026.4,1780.6L1116.7,1693.4L1244.1,1632.3L1195.7,1591.7L1153.7,1698.3L1200.0,1582.8L954.1,1749.5L1205.9,1595.9L1145.3,1650.7L1262.1,1526.6L1050.2,1737.6L1112.8,1674.1L1089.3,1712.9L1197.0,1665.4L1302.5,1566.9L1152.7,1651.2L1144.9,1653.4L1146.4,1673.5L1072.2,1693.0L1145.0,1672.0L1208.5,1603.2L1140.4,1638.1L1092.1,1700.8L1112.1,1663.5L1020.8,1730.7L944.4,1787.3L1310.0,1544.9L1107.2,1678.0L1210.7,1575.4L1191.3,1633.2L1077.9,1753.9L1087.1,1655.5L1185.4,1655.2L1139.9,1656.5L1187.1,1594.4L1163.3,1656.4L1133.0,1701.2L1180.0,1627.0L1127.6,1659.3L1006.4,1763.5L1149.4,1655.3L1324.5,1465.9L1217.5,1578.0L1076.2,1749.5L1143.0,1636.0L1024.8,1787.3L1194.1,1596.6L1107.0,1676.0L1166.3,1623.3L1348.5,1466.5L1173.1,1675.8L1240.4,1562.0L1090.5,1705.2L1164.7,1649.7L1053.8,1745.3L1154.8,1624.1L1097.1,1708.7L1132.4,1693.3L1208.3,1627.1L1073.6,1745.3L1094.0,1715.6L1045.7,1721.2L1071.5,1695.6L1244.3,1588.1L1221.1,1580.8L1072.1,1688.5L1302.2,1507.7L1286.5,1500.8L1168.1,1601.6L1192.8,1662.1L1117.6,1666.4L1094.0,1721.2L1072.9,1749.5L1206.2,1628.9L1092.4,1721.2L1209.8,1614.4L980.1,1780.6L1151.0,1647.3L1280.2,1536.3L1211.9,1632.5L1054.1,1734.1L1159.7,1651.9L1139.6,1706.0L1117.0,1660.8L1083.4,1721.2L1128.3,1681.3L1145.8,1647.3L1091.0,1712.9L1187.6,1616.9L1220.0,1635.6L1026.6,1718.3L1298.2,1504.4L1101.6,1704.8L1171.7,1657.2L1302.2,1532.9L1198.2,1595.4L1120.5,1663.8L1222.5,1602.6L1093.1,1669.7L1193.7,1636.7L1110.4,1678.9L1263.0,1566.6L1208.8,1594.1L1126.9,1693.9L1114.4,1697.3L1243.7,1551.1L1282.0,1597.1L1181.4,1598.3L1205.9,1596.6L1281.2,1499.0L1316.0,1513.8L1145.1,1656.3L988.9,1780.6L1187.4,1582.4L1142.0,1661.2L1173.0,1670.6L1021.9,1741.4L1184.7,1580.4L1216.9,1599.5L1305.1,1484.6L1126.9,1637.2L1341.9,1494.7L1058.7,1709.6L1161.5,1644.6L1067.2,1730.7L1103.5,1695.3L1071.9,1705.5L1325.8,1480.9L1162.1,1674.0L1013.9,1774.5L1061.8,1737.6L1083.7,1734.1L1125.6,1710.7L1110.6,1671.1L1126.6,1667.7L1241.1,1558.5L1120.6,1687.9L1146.8,1677.2L1135.3,1612.8L1073.0,1718.3L1167.8,1655.4L1048.1,1734.1L1027.1,1780.6L1163.7,1678.0L1200.9,1631.3L1141.1,1642.7L1030.9,1758.5L1096.7,1745.3L1187.7,1665.6L1190.9,1654.8L1119.0,1657.2L1253.5,1570.8L1266.0,1602.3L1058.6,1724.3L1316.7,1483.7L1069.3,1695.9L1299.6,1532.1L1170.3,1611.5L1320.1,1534.8L1095.0,1724.3L1258.3,1527.2L1096.9,1670.5L1201.4,1585.5L1218.1,1644.5L1251.6,1564.9L1178.9,1608.0L1123.2,1707.2L1210.0,1613.3L1162.6,1597.4L1028.1,1780.6L1201.0,1620.8L1108.2,1689.9L1188.1,1609.6L1127.7,1724.3L1239.2,1575.4L1211.7,1607.9L1280.9,1582.5L1280.1,1553.7L1174.1,1597.0L1224.1,1574.3L1078.9,1718.3L1158.2,1721.2L1185.7,1614.8L1264.3,1565.0L1219.5,1597.3L1205.6,1549.2L1283.4,1567.8L1160.2,1619.0L1062.5,1727.4L1149.1,1635.9L1248.5,1577.5L1088.8,1688.8L1117.2,1690.2L1247.4,1558.6L1004.2,1763.5L1001.5,1753.9L1097.9,1715.6L1262.1,1563.1L1030.1,1780.6L1155.2,1578.8L1193.5,1633.8L1001.5,1741.4L1260.0,1534.4L1234.3,1579.2L1131.7,1688.9L1118.4,1712.9L1218.2,1584.7L983.5,1780.6L1098.0,1643.7L1144.8,1695.4L1011.6,1737.6L1241.5,1615.1L1092.7,1741.4L1084.6,1758.5L1151.0,1639.7L1059.0,1691.1L1037.9,1703.6L1229.6,1618.7L1160.9,1649.0L1198.9,1577.8L1016.2,1741.4L1237.2,1594.8L1251.7,1544.1L1079.0,1730.7L1152.2,1619.3L1158.3,1675.4L1092.2,1662.1L1110.9,1680.6L1325.0,1534.6L1022.5,1753.9L1127.5,1651.3L1072.0,1715.6L1175.2,1622.7L1064.1,1734.1L1143.0,1616.5L1071.3,1692.0L1187.2,1649.3L1082.9,1708.1L1287.7,1510.7L1162.6,1632.6L1140.6,1655.4L1134.5,1627.8L1161.4,1664.9L1153.9,1662.4L1148.2,1652.9L1054.0,1693.9L1228.9,1564.5L1108.2,1684.8L1067.6,1749.5L1173.1,1619.7L1181.4,1607.8L1102.9,1665.8L1204.4,1653.2L1056.7,1709.3L1061.0,1727.4L1222.2,1588.3L1030.9,1734.1L1185.3,1594.6L1160.0,1636.9L1164.6,1672.4L1093.2,1745.3L1116.0,1699.8L1250.0,1565.9L1111.4,1734.1L1130.2,1730.7L1008.0,1753.9L1041.4,1763.5L1065.9,1673.5L1142.3,1657.9L1152.7,1652.1L1115.2,1703.1L995.1,1737.6L1033.4,1780.6L1165.8,1638.6L1227.4,1623.4L1168.2,1621.9L1156.2,1644.4L1288.8,1570.7L1033.3,1774.5L1171.6,1576.6L1115.9,1652.5L1226.7,1569.5L1171.1,1613.5L1159.5,1671.6L1117.5,1688.2L1280.9,1510.2L1158.0,1679.5L1062.3,1749.5L1023.5,1734.1L1325.3,1485.7L1296.6,1532.4L1190.9,1633.1L1232.6,1589.4L1214.0,1614.9L1090.1,1758.5L1219.1,1597.0L1175.1,1633.1L1058.5,1749.5L1159.7,1621.7L1333.7,1479.8L1331.4,1537.1L1102.7,1695.1L1305.8,1473.3L1066.6,1780.6L1098.4,1706.9L1056.8,1721.2L1097.6,1651.1L1321.2,1509.3L1052.3,1768.8L1058.8,1758.5L1090.6,1734.1L1267.3,1536.8L1083.6,1682.2L1105.0,1691.4L1135.4,1665.3L1246.5,1577.0L1101.5,1712.9L1210.3,1595.0L1244.2,1553.6L963.8,1780.6L1276.1,1541.7L1086.7,1707.7L1143.7,1662.4L1299.7,1518.3L1016.9,1774.5L1317.0,1523.2L1143.9,1658.4L1207.4,1624.5L1191.7,1596.0L983.4,1768.8L1195.2,1599.5L1062.2,1741.4L1018.0,1712.9L1300.2,1563.6L1066.6,1745.3L1271.3,1551.8L1065.2,1763.5L1211.8,1604.4L1236.1,1602.2L1099.0,1688.2L1131.6,1635.6L1283.0,1571.9L1059.5,1730.7L990.2,1787.3L1232.8,1609.6L1294.8,1493.6L1108.9,1711.4L1055.6,1753.9L1063.3,1745.3L1143.8,1690.6L1236.9,1547.9L1240.9,1564.7L1107.2,1650.7L1084.6,1707.6L1194.2,1582.3L1310.7,1497.6L1189.3,1587.4L1125.7,1614.0L1094.1,1657.6L1072.7,1724.3L1210.8,1616.7L1228.0,1573.4L1097.9,1698.4L1027.0,1749.5L1122.3,1647.6L1109.7,1650.9L1308.6,1476.6L1237.8,1588.3L1297.8,1562.5L1033.7,1774.5L1088.8,1745.3L1268.6,1565.4L1067.2,1699.8L1096.9,1712.9L1024.0,1758.5L1173.2,1669.3L1106.5,1712.9L1097.9,1718.3L1113.5,1715.6L1233.5,1630.5L1021.4,1774.5L1006.1,1758.5L1190.3,1598.0L1143.1,1624.0L1018.4,1780.6L1100.7,1700.0L1153.2,1622.3L1220.9,1574.0L1039.8,1741.4L1271.3,1592.5L1239.8,1572.5L1144.5,1630.7L1152.5,1686.8L1293.2,1536.2L1236.9,1590.9L1181.4,1602.9L1227.2,1626.3L1063.2,1780.6L1241.4,1547.5L1203.4,1606.6L1059.0,1693.6L1220.2,1648.0L1155.0,1635.4L1207.7,1632.7L1041.9,1710.5L1257.9,1538.4L1107.4,1699.3L1261.5,1590.2L993.5,1787.3L1186.3,1597.8L976.9,1780.6L1088.9,1727.4L1189.3,1628.7L1211.9,1599.9L1131.4,1715.6L1099.9,1669.3L1182.4,1631.6L1355.0,1490.3L1134.9,1631.3L1134.0,1695.4L1223.7,1613.9L1014.0,1763.5L1185.0,1663.4L1304.6,1513.7L1035.3,1705.1L1244.3,1559.8L1299.3,1510.5L1144.9,1649.0L1224.0,1571.1L1233.8,1535.0L1064.9,1712.9L1205.0,1631.6L1306.7,1549.2L1254.4,1537.0L1288.7,1513.4L1128.6,1672.4L1284.3,1547.6L1293.0,1541.6L1173.2,1673.8L1186.6,1624.4L1010.5,1780.6L1082.3,1745.3L1192.5,1587.9L1324.3,1497.1L1242.1,1612.9L1192.8,1635.4L1108.3,1737.6L1158.9,1611.0L1075.7,1721.2L1062.3,1758.5L1148.5,1685.4L1143.3,1646.7L1231.6,1623.3L1210.0,1633.1L1107.0,1658.8L1073.3,1749.5L1190.9,1612.7L1057.8,1741.4L1087.9,1705.1L1144.5,1612.5L1226.5,1572.8L1115.4,1634.9L1101.9,1718.3L1200.9,1588.3L1211.8,1605.9L1168.1,1670.4L1230.6,1582.7L1123.7,1703.1L1321.9,1513.0L1183.2,1650.0L1074.1,1693.6L1067.3,1737.6L1206.5,1650.5L1004.5,1741.4L1151.9,1693.1L1197.9,1607.3L1121.1,1658.6L1309.2,1552.9L1259.6,1521.6L1157.4,1622.6L1139.1,1687.6L1187.8,1597.6L1210.6,1631.6L1264.2,1552.9L1092.1,1694.8L1101.7,1670.3L1159.1,1638.9L1216.6,1605.1L1180.5,1625.3L1147.2,1637.1L1122.8,1659.3L1195.7,1628.7L1195.3,1608.2L1161.8,1627.6L1165.7,1630.7L990.6,1774.5L992.4,1745.3L1158.0,1618.1L1066.7,1768.8L1223.9,1621.7L1161.1,1624.7L1242.5,1586.4L1219.7,1619.6L1134.3,1698.3L1249.5,1605.4L1096.9,1710.7L1254.8,1551.5L1159.6,1617.3L1299.7,1516.5L1161.1,1619.7L1093.9,1681.6L1275.6,1564.2L1230.2,1601.0L1254.9,1521.7L1161.1,1691.7L1270.0,1559.6L1052.7,1718.3L1138.7,1654.8L1030.0,1737.6L1216.9,1594.8L1077.4,1718.3L1123.1,1657.6L1127.0,1712.9L1110.5,1692.8L1125.3,1672.6L1170.9,1601.4L1085.6,1737.6L1102.4,1698.0L1042.2,1763.5L1052.7,1763.5L1032.0,1712.9L1102.5,1712.9L1033.1,1734.1L1058.4,1763.5L1305.5,1530.0L1171.4,1640.9L1202.9,1586.1L1253.3,1552.5L1045.0,1734.1L1098.3,1660.7L1130.3,1698.1L1283.1,1578.5L1184.9,1593.4L1235.1,1565.8L1156.3,1674.0L1094.4,1680.1L1152.4,1636.7L1077.2,1709.3L1220.3,1615.9L1186.2,1591.9L1089.4,1680.4L1182.0,1659.5L1054.6,1721.2L1246.8,1587.1L1145.8,1645.0L1114.9,1721.2L1019.5,1780.6L1145.1,1688.2L1079.4,1699.9L1288.7,1536.4L1074.6,1753.9L1197.9,1616.9L1174.7,1613.8L1293.0,1524.7L1133.4,1654.1L1113.1,1680.1L1310.1,1512.4L1122.5,1661.8L1059.5,1730.7L1047.5,1768.8L1052.0,1787.3L1154.5,1662.6L1111.0,1683.1L999.0,1753.9L1114.5,1651.4L1207.2,1626.0L1188.6,1701.0L1218.7,1580.3L1290.6,1572.9L1197.2,1628.1L1014.8,1758.5L1032.8,1718.3L1240.1,1589.0L1122.2,1690.2L1303.1,1547.3L1007.4,1758.5L1269.7,1589.6L996.8,1763.5L1227.4,1600.0L1082.4,1768.8L1193.6,1568.7L1055.8,1691.1L1198.5,1570.7L1077.7,1721.2L1022.5,1753.9L1119.4,1644.1L1206.7,1574.0L1133.4,1707.7L987.6,1758.5L1167.5,1635.1L1129.9,1653.8L1164.7,1625.9L1253.7,1542.3L1135.9,1690.6L1015.5,1721.2L1198.4,1577.3L1070.4,1787.3L1129.8,1654.4L1041.1,1712.9L1045.3,1702.1L1121.3,1672.7L1083.4,1673.2L1073.7,1683.8L1312.9,1552.0L1176.4,1654.5L1042.6,1768.8L992.5,1780.6L1001.8,1768.8L1068.0,1702.8L1220.4,1564.6L1228.5,1631.6L1161.5,1643.4L1096.1,1701.9L1255.7,1527.9L1193.8,1583.3L1131.9,1663.6L1163.9,1639.4L1286.8,1566.2L1114.4,1692.0L1253.2,1557.0L1282.6,1534.6L1118.5,1681.6L1229.0,1595.6L1099.0,1677.3L1032.0,1737.6L1174.1,1665.2L1278.2,1523.1L1084.6,1727.4L1212.3,1583.8L1282.7,1512.9L1144.9,1613.4L1236.4,1629.2L1142.6,1676.5L1130.6,1639.7L1165.4,1639.7L1114.2,1632.9L1233.9,1576.0L1180.2,1603.7L1178.2,1632.2L1226.5,1604.0L1104.3,1672.6L1161.0,1611.2L1218.4,1639.6L1247.8,1627.6L1189.1,1671.1L1043.9,1787.3L1137.0,1658.7L1008.7,1753.9L1069.1,1727.4L1035.7,1745.3L1012.3,1774.5L1043.7,1734.1L1030.8,1780.6L1209.3,1599.2L1120.5,1667.5L1094.1,1745.3L1055.1,1734.1L1203.9,1570.5L1100.3,1708.8L1169.8,1654.0L1063.8,1734.1L1014.6,1758.5L1207.5,1567.2L1200.0,1588.8L1202.4,1585.9L1236.5,1585.6L1123.7,1706.1L1063.8,1665.6L1283.5,1534.5L1125.5,1737.6L1255.7,1531.5L1016.9,1780.6L1303.1,1517.2L1191.9,1636.8L1195.7,1614.0L1246.5,1600.1L1347.8,1472.0L1124.2,1700.2L1025.3,1763.5L1213.8,1587.1L1249.4,1539.7L1199.0,1580.9L1053.6,1741.4L1205.5,1593.1L1150.9,1643.9L1217.6,1610.5L1189.0,1602.5L1300.5,1506.7L1072.0,1699.2L1103.6,1686.1L990.8,1753.9L1182.8,1654.3L1120.7,1687.5L1281.7,1571.5L1040.5,1758.5L1174.9,1601.1L1277.9,1548.2L1134.4,1690.3L1173.8,1591.1L1324.2,1535.2L1269.2,1528.1L1167.5,1642.9L1095.8,1737.6L1129.3,1690.5L1072.4,1715.6L1184.4,1626.4L1104.1,1730.7L1191.7,1595.3L1264.9,1539.7L1277.5,1543.2L1191.7,1643.0L1044.3,1753.9L1196.9,1616.5L1020.3,1758.5L1127.0,1687.4L1057.8,1745.3L1184.7,1614.7L1197.5,1652.8L1142.5,1701.1L1057.2,1721.2L1231.4,1553.1L1308.7,1511.3L1031.5,1712.9L1007.6,1787.3L1177.9,1694.3L1259.7,1564.6L1108.1,1670.2L1222.1,1635.8L1070.3,1680.9L1221.5,1590.1L1116.5,1707.9L1037.4,1774.5L1048.9,1711.5L1189.8,1649.3L1085.4,1710.3L1055.5,1749.5L1128.0,1662.7L1171.6,1655.5L1070.5,1741.4L1157.8,1650.9L1150.7,1641.2L1235.2,1559.1L1085.2,1696.4L1244.9,1586.6L1080.2,1741.4L971.2,1753.9L1093.4,1707.2L1227.6,1617.0L1055.1,1734.1L1039.1,1697.8L1231.3,1548.2L1206.9,1587.5L1117.9,1712.9L1261.2,1552.1L1211.8,1579.9L1073.0,1737.6L1153.6,1694.1L1091.9,1730.7L1073.8,1704.9L1114.6,1692.2L1064.3,1683.8L1356.3,1506.3L1257.8,1525.9L1153.2,1634.3L1308.3,1503.8L1103.2,1648.5L1203.3,1583.3L1143.6,1666.1L1060.6,1705.8L1099.6,1673.9L1124.6,1658.4L1147.3,1652.2L1051.1,1734.1L1239.8,1604.4L1155.7,1704.6L1100.2,1715.6L1276.6,1555.7L1084.3,1674.1L1232.5,1594.1L1074.9,1730.7L1022.3,1712.9L1051.2,1763.5L1159.0,1621.8L1273.7,1566.7L1064.8,1718.3L1217.9,1579.6L1096.8,1703.6L1159.1,1650.9L1095.5,1677.5L1041.7,1718.3L1187.4,1593.6L1155.3,1663.9L1327.8,1499.7L1285.8,1511.3L1156.7,1673.4L1062.2,1763.5L1188.2,1637.1L979.9,1780.6L1128.8,1617.2L1169.2,1657.7L1117.1,1690.1L1196.1,1633.5L1065.5,1745.3L1190.1,1607.0L1083.3,1711.2L1323.5,1509.5L1164.6,1659.4L1090.0,1695.9L1111.6,1684.2L1002.3,1763.5L1132.4,1648.0L1067.1,1734.1L1129.1,1672.9L1274.1,1586.2L1059.5,1737.6L1295.6,1523.5L1116.2,1708.1L1024.9,1737.6L1203.6,1605.8L1058.5,1693.5L1365.5,1423.7L1127.6,1658.6L1235.2,1576.4L1175.3,1593.1L1073.3,1715.6L1093.8,1668.3L1021.1,1787.3L981.9,1749.5L1065.6,1737.6L1209.7,1613.1L1290.8,1505.6L1192.5,1645.9L1123.7,1648.8L1139.8,1629.2L1190.4,1634.1L1074.6,1745.3L1158.3,1612.9L1295.5,1563.7L1211.0,1622.6L1059.1,1753.9L1204.7,1607.8L1072.0,1753.9L1191.5,1626.2L1259.9,1629.0L1181.3,1633.0L1191.6,1609.7L1200.1,1588.2L1097.0,1682.4L1233.0,1547.3L1227.0,1576.3L1095.0,1724.3L1241.0,1551.5L1119.4,1700.9L1125.2,1690.0L1139.9,1698.7L1108.2,1730.7L1110.8,1686.1L1298.5,1511.7L994.7,1774.5L1104.8,1676.7L1183.0,1608.8L1201.3,1631.5L1075.8,1741.4L1154.1,1626.2L1097.9,1684.8L1235.4,1545.6L1202.9,1637.4L1103.3,1675.3L1260.6,1605.3L1190.3,1597.9L1326.6,1530.5L1210.2,1598.8L1047.9,1705.3L1046.3,1774.5L1018.6,1741.4L1065.9,1768.8L1147.2,1638.7L1120.5,1701.4L1060.4,1763.5L1189.7,1645.8L1229.7,1561.0L1194.5,1592.4L1155.6,1652.0L1224.6,1559.0L1169.6,1601.2L1054.1,1787.3L1137.7,1639.6L1119.2,1661.3L1128.8,1674.7L1275.0,1537.8L1052.9,1745.3L1046.3,1715.6L1274.5,1543.0L1110.8,1780.6L1183.3,1584.9L1289.7,1517.4L1229.1,1558.3L1029.2,1774.5L1097.3,1660.8L1033.4,1715.6L1108.0,1686.2L1247.7,1571.9L1050.4,1724.3L1147.1,1687.1L1052.1,1730.7L1123.5,1689.4L1060.5,1718.3L1111.2,1703.8L1172.1,1647.1L1303.1,1481.2L1213.9,1620.5L1041.5,1787.3L1096.4,1712.9L1094.2,1699.5L1093.4,1721.2L1159.8,1665.6L1204.1,1609.1L1263.9,1593.9L1319.2,1488.3L1058.4,1758.5L1156.8,1643.9L1121.0,1652.0L1268.9,1542.4L1236.4,1587.7L1103.4,1718.3L1234.2,1602.1L1174.9,1660.5L1271.5,1549.4L1097.6,1724.3L1292.1,1559.0L1199.0,1615.1L1303.3,1527.3L1098.0,1768.8L1129.1,1619.5L1176.3,1619.0L1164.8,1652.8L1180.9,1641.7L1082.3,1763.5L997.4,1787.3L1037.1,1758.5L1263.7,1535.4L1029.3,1749.5L1253.0,1569.5L1278.4,1543.2L1061.4,1745.3L1140.8,1635.5L1246.7,1631.6L1152.6,1628.5L1074.6,1730.7L1107.5,1662.5L1330.3,1486.0L1112.7,1640.2L1186.9,1585.1L1306.9,1521.9L1090.0,1730.7L1053.2,1724.3L1177.1,1615.7L1219.1,1589.7L1138.6,1670.8L1117.3,1649.2L1001.4,1768.8L1129.4,1631.3L1225.1,1616.8L1096.5,1705.1L1322.2,1528.0L1018.4,1745.3L1147.0,1615.3L1202.7,1650.3L1230.2,1572.4L1120.4,1666.5L1103.1,1734.1L1140.7,1664.1L1263.7,1590.4L1180.2,1626.8L1164.2,1643.2L1316.3,1571.4L1092.6,1663.7L1152.7,1658.0L1108.2,1656.7L1136.0,1671.7L1260.5,1604.3L1040.8,1774.5L1323.4,1483.5L1232.6,1571.0L1041.8,1745.3L1079.5,1701.3L1104.7,1694.5L1032.3,1749.5L1087.2,1691.3L1192.5,1595.8L1096.3,1666.0L1108.0,1741.4L1165.5,1676.1L1248.1,1634.8L1165.1,1674.2L1007.8,1758.5L1132.5,1658.9L1007.6,1774.5L1079.6,1700.6L1019.7,1753.9L1073.6,1727.4L1082.9,1727.4L1048.6,1718.3L1259.0,1552.0L1190.4,1635.4L1041.7,1780.6L1230.3,1570.9L1035.5,1741.4L1010.5,1763.5L1231.2,1564.5L1073.2,1696.5L1021.0,1698.3L1070.2,1712.9L1156.9,1669.2L1231.5,1575.4L1225.0,1554.1L1312.3,1506.6L1249.5,1562.3L1295.5,1578.4L1100.0,1710.7L1180.6,1654.1L1024.9,1741.4L1096.4,1682.2L1121.1,1711.5L1281.2,1567.6L1324.1,1500.5L1173.7,1639.8L1140.1,1636.6L1206.6,1598.2L1203.9,1604.1L1100.6,1674.4L1310.7,1470.1L1161.0,1590.3L1240.8,1557.5L1107.4,1679.6L1189.8,1647.7L1128.7,1641.4L1180.1,1656.9L1238.3,1590.8L980.6,1768.8L1017.3,1734.1L1060.8,1763.5L1216.1,1581.1L1111.5,1695.1L1344.7,1419.5L1072.0,1696.5L1045.9,1734.1L1108.0,1665.0L1150.0,1657.7L1262.5,1615.9L1371.0,1442.6L1072.1,1768.8L1033.8,1741.4L1191.4,1632.3L1179.1,1601.1L1308.4,1549.1L1292.5,1555.9L1205.0,1606.6L1144.0,1670.5L1248.5,1583.6L1191.3,1625.9L1254.7,1587.9L1142.7,1677.4L1046.1,1780.6L1156.3,1644.6L1048.6,1724.3L1218.9,1621.1L1259.5,1538.4L1236.6,1577.1L1075.0,1708.2L1265.0,1523.4L1065.5,1704.6L1137.5,1708.7L1167.9,1611.9L1289.3,1499.6L1184.1,1654.0L1124.5,1606.2L1289.3,1581.5L1284.4,1520.6L1186.4,1660.9L1204.9,1619.0L1105.1,1721.2L1153.2,1689.6L1274.7,1542.0L1114.3,1672.8L1270.9,1534.9L1182.5,1669.6L1185.1,1646.5L1119.4,1698.2L1086.0,1718.3L1055.9,1749.5L1157.2,1641.0L1046.7,1763.5L1260.6,1575.0L1115.9,1676.7L1179.6,1651.8L1074.7,1715.6L1048.2,1787.3L1322.2,1482.4L1107.1,1634.0L1202.5,1589.4L1109.4,1654.7L1210.0,1571.1L1337.6,1525.1L1167.5,1691.1L1135.7,1721.2L1090.6,1741.4L991.8,1727.4L1175.5,1649.1L1074.5,1715.6L1021.5,1734.1L1313.3,1546.7L1352.1,1512.3L1055.3,1700.4L1217.6,1591.6L1246.0,1543.2L1085.7,1721.2L1200.7,1602.8L1050.9,1787.3L1154.7,1641.3L1120.9,1664.4L1033.6,1675.7L1132.2,1679.8L1196.0,1607.5L1069.7,1758.5L1040.4,1763.5L990.8,1768.8L1210.3,1598.9L1067.1,1721.2L1140.8,1635.3L1093.7,1679.6L1132.6,1671.9L1352.7,1519.3L1270.3,1545.8L1194.4,1650.6L1126.3,1667.7L1110.5,1690.3L1202.4,1589.3L1271.1,1550.8L1120.4,1663.3L1048.3,1774.5L1020.7,1768.8L1279.1,1533.2L1133.9,1667.8L1137.6,1678.9L1270.2,1588.3L1214.3,1628.6L1014.5,1780.6L1045.1,1774.5L1300.4,1561.1L1218.2,1600.1L1178.3,1616.4L1239.1,1612.8L1258.5,1588.2L1007.0,1774.5L1057.4,1715.6L1271.7,1559.2L1083.4,1737.6L1196.3,1626.0L1049.2,1711.4L1067.2,1712.9L1081.3,1712.9L1308.4,1499.9L1237.2,1582.9L1125.2,1628.8L1169.0,1622.8L1059.8,1758.5L1035.1,1715.6L1123.7,1660.6L1135.4,1671.2L1092.1,1721.2L1241.7,1620.4L1187.9,1653.8L1053.4,1768.8L1107.6,1646.8L1077.5,1758.5L1169.0,1620.3L973.3,1763.5L1150.8,1675.9L1270.7,1560.1L1171.9,1640.5L1090.6,1661.3L1186.1,1614.2L1099.9,1727.4L1174.3,1677.5L1314.2,1534.4L1126.1,1664.3L1257.2,1603.3L1101.0,1704.6L1302.4,1557.0L1084.8,1692.5L1049.7,1741.4L1062.8,1708.7L1170.2,1644.7L1114.0,1648.4L1026.5,1763.5L1087.8,1741.4L1057.0,1703.6L1046.0,1787.3L1321.6,1493.7L1150.3,1661.2L1191.5,1654.0L1101.7,1654.1L1156.2,1630.0L1164.8,1635.7L1309.0,1477.2L1189.0,1604.0L1313.2,1549.2L1181.7,1656.1L1073.4,1694.5L1011.0,1734.1L1323.4,1570.6L1007.5,1749.5L1090.7,1721.2L1122.2,1665.0L1153.4,1667.5L1234.8,1594.9L1138.0,1665.5L1288.2,1495.1L1132.4,1724.3L1131.8,1644.4L1327.7,1467.8L1267.0,1548.2L1109.0,1715.6L1141.1,1619.9L1216.9,1574.6L1079.3,1705.0L1174.3,1679.8L1057.1,1704.4L1218.7,1636.3L1293.0,1539.0L1106.8,1668.1L1139.6,1676.4L1301.1,1506.8L1334.1,1468.6L1184.8,1641.4L1261.8,1543.0L1158.2,1588.1L1052.9,1721.2L1178.6,1652.4L1111.6,1671.8L1319.8,1517.5L1250.2,1541.2L1222.8,1579.4L1130.7,1661.0L1131.7,1680.7L1343.6,1454.4L1269.1,1558.4L1095.1,1675.7L1072.8,1673.2L1150.3,1638.3L1068.7,1724.3L1263.3,1537.2L1331.9,1520.1L1095.7,1721.2L1259.2,1620.7L1186.7,1630.2L1142.3,1687.4L1133.7,1624.2L1070.2,1718.3L1006.5,1787.3L1094.0,1686.6L1305.7,1486.0L1005.8,1758.5L1144.0,1683.2L1284.0,1568.5L1010.6,1737.6L1083.3,1745.3L1158.4,1630.4L1048.0,1712.9L1193.4,1592.0L1033.4,1787.3L1072.7,1741.4L1282.9,1587.2L1077.8,1679.8L1246.9,1579.9L1091.0,1745.3L1052.6,1690.5L1021.4,1724.3L1279.7,1530.9L1114.8,1655.3L1153.5,1605.7L1277.1,1516.1L1327.9,1507.9L1322.9,1486.3L1075.6,1686.5L1183.3,1650.6L1324.6,1533.2L1118.0,1644.6L1358.9,1453.3L1121.8,1712.9L1243.8,1586.3L1183.7,1636.9L1231.9,1617.7L1318.9,1556.1L1293.6,1503.6L1218.5,1606.9L1267.2,1588.4L1245.8,1581.6L1070.5,1718.3L1196.2,1633.2L1100.2,1749.5L1067.9,1694.1L1130.8,1682.5L1167.5,1664.0L1012.1,1780.6L1292.8,1527.6L1175.4,1655.8L1209.5,1638.7L1047.1,1749.5L1268.2,1564.9L999.4,1768.8L1136.1,1705.0L1068.0,1768.8L1165.6,1611.3L1207.2,1603.8L1129.8,1667.5L1094.7,1637.4L1014.0,1749.5L1080.3,1703.6L1208.6,1562.1L1035.8,1753.9L1020.3,1718.3L1096.5,1686.5L1034.0,1758.5L1022.9,1763.5L1156.9,1633.1L1232.7,1581.4L1029.3,1768.8L1273.8,1579.9L1017.7,1753.9L1009.0,1727.4L1281.4,1545.2L1097.3,1734.1L1225.3,1589.4L1108.8,1661.9L1028.3,1745.3L1152.4,1654.7L1215.9,1646.5L1159.3,1671.6L1086.2,1664.2L1215.6,1603.8L1285.5,1507.0L1196.8,1643.3L1290.6,1539.7L1144.7,1639.1L1156.9,1666.5L1240.2,1564.8L1033.9,1730.7L1171.8,1640.1L1131.5,1696.4L1085.0,1734.1L1231.4,1619.0L1100.4,1721.2L1274.0,1566.7L1157.2,1632.3L1084.9,1692.3L1038.5,1737.6L1139.5,1614.3L1057.6,1780.6L1054.6,1704.4L1234.2,1560.7L1093.5,1724.3L1104.5,1741.4L1333.0,1480.3L1121.5,1663.0L1299.3,1535.8L1167.3,1643.0L1076.3,1682.0L1065.9,1682.5L1149.4,1656.3L1233.9,1542.1L1292.7,1506.8L1080.4,1707.2L1218.4,1561.9L1021.3,1749.5L1175.0,1666.3L1179.4,1622.3L1223.4,1580.1L1007.0,1734.1L1228.4,1599.4L1090.4,1712.9L1238.8,1582.1L1147.9,1684.7L1050.2,1787.3L1022.8,1734.1L1215.3,1596.7L1112.5,1668.7L1150.1,1632.4L1071.0,1654.6L1094.6,1662.8L1304.9,1533.3L1082.6,1695.4L1068.3,1724.3L1228.3,1596.7L1067.3,1684.2L1091.8,1712.9L1098.7,1663.6L1344.3,1471.4L1045.7,1749.5L997.3,1763.5L1076.2,1718.3L1133.2,1645.1L1099.2,1698.1L1268.4,1544.2L1023.8,1712.9L1246.4,1554.9L1056.2,1768.8L1191.5,1643.3L1109.6,1660.8L1058.9,1774.5L1167.5,1646.8L1153.5,1669.5L1279.8,1537.7L1013.1,1763.5L1251.6,1561.4L1262.2,1580.8L1209.9,1620.6L1162.6,1638.1L1070.2,1753.9L1198.4,1574.5L1129.8,1669.9L1173.2,1628.9L1119.8,1653.1L1173.0,1614.5L1195.0,1651.6L1144.1,1634.2L1179.6,1643.6L1276.4,1579.7L1260.6,1571.3L1209.5,1654.3L1163.9,1668.1L1042.9,1763.5L1143.1,1683.1L1157.0,1623.2L1160.7,1612.1L1153.7,1696.1L1100.1,1715.6L1158.7,1663.2L1340.9,1500.0L1175.6,1590.0L1044.0,1730.7L1071.0,1753.9L1006.6,1730.7L1047.3,1712.9L1059.8,1684.8L1104.0,1721.2L1049.8,1749.5L1168.1,1619.2L1332.7,1464.2L1269.2,1566.7L1022.6,1694.0L1035.0,1774.5L1090.4,1659.1L1126.2,1666.1L1332.5,1535.5L1127.1,1663.7L1055.4,1745.3L1130.7,1712.9L1123.1,1677.8L1075.4,1758.5L1322.9,1534.2L1158.3,1631.9L1190.6,1609.4L1264.7,1531.3L1017.2,1724.3L1124.2,1662.9L1206.6,1602.1L1137.1,1690.7L1251.7,1531.4L1098.6,1684.8L1196.9,1613.8L1315.3,1547.2L1249.7,1571.6L1105.0,1698.7L1218.8,1605.2L1160.7,1648.7L1152.2,1687.9L1282.8,1543.4L1284.4,1545.7L1220.9,1576.4L1086.6,1665.0L1153.9,1621.5L1255.7,1588.5L1052.8,1745.3L1144.8,1659.4L986.8,1780.6L1008.3,1749.5L1106.7,1695.1L1216.2,1625.4L1157.8,1649.5L1161.4,1669.4L1135.1,1671.3L1203.8,1616.7L1034.7,1774.5L1034.9,1745.3L1259.9,1568.9L1048.6,1730.7L1089.8,1741.4L1154.4,1622.9L1063.1,1712.9L1010.5,1758.5L1321.3,1483.9L1045.2,1780.6L1243.4,1604.0L1251.5,1563.9L1166.1,1605.7L1287.3,1558.7L1307.3,1516.3L1174.4,1614.5L1045.6,1768.8L1038.0,1741.4L1313.1,1508.6L1060.8,1768.8L1177.3,1648.2L1185.1,1658.4L1315.3,1570.2L1178.1,1608.7L1052.5,1721.2L1020.5,1730.7L1125.9,1658.6L1135.6,1648.6L1174.6,1589.7L1262.3,1532.9L1263.3,1561.3L1135.8,1709.2L1189.5,1651.3L1153.0,1632.0L1067.4,1745.3L1084.2,1724.3L1285.8,1509.4L1196.0,1601.9L1251.8,1591.5L1095.9,1684.3L1129.2,1655.6L1204.8,1568.4L1274.3,1593.8L996.7,1787.3L1106.1,1681.7L1085.6,1678.9L1281.8,1509.2L1069.8,1718.3L1171.3,1578.5L1313.6,1469.3L1249.8,1571.9L1171.1,1611.0L1001.5,1780.6L1161.3,1649.5L1049.4,1724.3L1185.0,1649.8L1120.1,1715.6L1029.9,1787.3L1061.8,1758.5L1304.7,1544.3L1254.1,1527.2L1250.1,1545.2L1132.3,1636.8L1099.6,1660.7L1179.2,1634.3L1314.9,1524.1L1073.2,1696.8L1072.1,1688.5L1017.3,1763.5L1198.2,1633.5L1159.4,1636.0L1215.1,1600.1L1146.2,1655.4L1313.4,1575.9L1106.8,1676.9L1092.7,1749.5L1198.0,1613.4L1128.3,1691.2L1028.0,1768.8L1163.7,1593.4L1158.8,1623.3L1075.4,1693.6L1028.8,1745.3L1115.0,1709.9L1329.5,1517.2L1189.1,1589.1L1060.7,1737.6L1183.0,1647.5L1100.4,1677.5L1191.9,1621.6L1123.8,1663.8L1153.4,1617.4L1277.1,1551.0L991.8,1749.5L1059.0,1734.1L1044.7,1780.6L1074.9,1687.8L1160.7,1679.5L1092.6,1678.9L1045.4,1763.5L1056.2,1753.9L1202.2,1582.1L1055.3,1710.8L1216.8,1593.2L1098.6,1745.3L1122.4,1686.5L1089.3,1674.9L1120.1,1665.9L978.7,1780.6L1139.7,1625.7L1114.7,1689.5L1217.9,1613.4L1183.0,1603.4L1145.3,1654.5L1280.4,1559.0L1078.7,1690.0L1181.8,1625.2L1220.4,1625.1L1145.1,1706.8L1213.5,1600.6L1160.5,1623.7L1155.1,1617.9L1147.4,1614.8L992.0,1774.5L1252.9,1564.8L1138.5,1701.9L1043.5,1741.4L1103.6,1705.1L1284.2,1509.9L1111.6,1730.7L1090.1,1774.5L1091.8,1691.6L1321.1,1524.6L1169.0,1620.7L1059.9,1758.5L1150.5,1638.1L1254.1,1586.9L1149.3,1650.7L1210.4,1604.0L1217.7,1628.9L1107.7,1689.5L1071.9,1758.5L1252.7,1594.3L1132.2,1715.6L1218.9,1630.9L1190.4,1637.0L1184.7,1651.7L1129.4,1683.5L1019.7,1774.5L1122.0,1647.7L1193.6,1641.8L1039.4,1749.5L1133.1,1702.6L1133.4,1671.3L1176.4,1626.3L1233.6,1564.7L1070.0,1753.9L1279.1,1523.1L1023.2,1763.5L1314.7,1494.5L1152.9,1621.1L1097.8,1652.7L1193.6,1583.1L1199.8,1615.8L1094.1,1705.3L1190.0,1631.6L1147.0,1687.9L1224.2,1569.3L1088.2,1702.0L1073.4,1680.4L1045.5,1718.3L1074.0,1686.0L1311.3,1532.7L1301.4,1543.5L1100.0,1661.7L1254.0,1580.4L1266.3,1554.0L1189.2,1583.7L1173.3,1629.6L1191.0,1621.0L1049.6,1758.5L1138.9,1684.4L1110.1,1690.4L999.2,1774.5L1310.2,1525.3L1115.9,1679.3L1034.0,1734.1L1098.8,1659.6L1127.6,1669.0L1061.7,1734.1L1087.7,1715.6L1132.1,1681.2L1042.9,1708.1L1341.2,1492.0L1005.3,1787.3L1103.7,1697.4L1037.7,1734.1L1295.6,1546.9L1098.3,1730.7L1030.8,1715.6L1054.6,1741.4L1080.3,1700.1L1166.2,1667.4L1172.3,1642.5L1076.1,1683.8L1200.2,1602.0L1325.9,1488.8L1052.9,1718.3L1027.2,1715.6L1132.1,1692.1L1118.5,1680.9L986.2,1780.6L1227.7,1613.8L1025.5,1696.7L1321.0,1465.0L1019.6,1780.6L1265.8,1546.4L1025.3,1737.6L1258.4,1518.1L1255.4,1561.9L1204.9,1586.4L1229.9,1550.0L1062.7,1724.3L1326.1,1537.8L1296.4,1550.2L1231.5,1571.7L1052.4,1758.5L1202.0,1596.6L1242.8,1569.7L1201.0,1616.2L1077.2,1703.1L1011.3,1724.3L1327.5,1508.8L1189.6,1614.0L1266.1,1531.3L1122.6,1652.4L1213.8,1682.6L1198.7,1595.2L1009.6,1724.3L1121.2,1727.4L1105.3,1683.3L1103.2,1741.4L988.5,1737.6L1099.3,1749.5L1065.9,1741.4L1159.0,1612.2L1236.7,1620.8L1080.0,1763.5L1200.8,1641.3L1066.8,1700.9L1277.2,1531.6L1089.2,1712.9L1092.3,1763.5L1218.1,1597.3L1255.4,1570.8L1029.5,1734.1L1248.9,1526.5L1206.7,1635.7L1140.1,1642.1L1198.8,1581.8L1114.8,1677.1L1176.1,1606.0L1029.4,1737.6L1267.4,1511.2L1054.0,1745.3L1189.5,1624.2L1015.9,1758.5L1275.8,1540.1L1334.9,1516.8L1210.9,1577.4L1019.0,1758.5L1037.2,1721.2L1052.6,1745.3L1347.9,1451.2L1061.3,1768.8L1056.1,1745.3L1062.3,1768.8L1129.2,1687.1L1109.0,1667.6L1317.4,1534.3L1163.8,1591.9L1037.9,1758.5L1073.9,1727.4L1158.1,1694.7L1289.4,1498.8L1256.2,1585.7L1208.9,1602.2L1089.0,1665.6L1152.6,1690.0L1115.8,1686.6L1026.1,1734.1L1223.7,1616.9L1123.9,1724.3L1136.2,1625.8L1179.8,1581.7L1176.9,1618.2L1199.1,1583.9L1010.9,1758.5L1180.2,1620.8L1131.5,1703.0L1156.9,1654.4L1160.6,1641.0L1079.7,1704.2L1331.2,1536.5L1320.3,1560.7L1095.3,1661.0L1048.0,1774.5L1032.8,1768.8L1094.8,1710.3L1071.2,1734.1L1137.5,1644.4L1250.8,1556.9L1225.2,1584.9L1267.3,1567.5L1294.4,1541.4L1356.2,1467.3L1285.3,1506.4L1097.4,1730.7L1150.7,1668.7L1158.5,1596.9L1116.4,1702.3L1138.1,1614.2L1051.1,1693.2L1073.6,1768.8L1199.6,1642.3L1174.2,1604.6L1055.3,1763.5L1109.9,1702.8L1196.4,1643.4L1252.5,1590.2L1010.6,1768.8L1073.6,1674.3L1070.9,1674.6L1186.6,1600.6L1206.1,1639.4L1022.0,1749.5L1259.0,1527.3L1270.5,1555.9L1218.8,1560.2L1083.6,1674.1L979.4,1787.3L1144.8,1663.7L1002.7,1734.1L1120.1,1774.5L1053.6,1758.5L1061.0,1737.6L938.7,1780.6L1035.0,1768.8L1022.5,1724.3L1080.7,1721.2L1009.4,1737.6L1099.2,1753.9L1064.6,1727.4L954.3,1758.5L1099.2,1708.4L992.6,1745.3L1100.3,1679.3L1055.7,1730.7L1013.2,1774.5L1012.9,1787.3L1057.4,1780.6L1007.4,1774.5L1127.9,1664.6L1096.8,1708.5L1049.2,1715.6L1116.2,1768.8L959.0,1758.5L1075.8,1715.6L1062.7,1718.3L987.6,1780.6L1199.4,1652.6L1115.4,1745.3L1077.9,1780.6L1157.2,1715.6L992.5,1787.3L1101.6,1686.8L1045.7,1745.3L1049.1,1787.3L1063.8,1694.5L1034.4,1758.5L1043.9,1708.1L1031.1,1763.5L1057.3,1718.3L969.5,1787.3L1057.8,1749.5L1084.3,1737.6L914.4,1787.3L1018.4,1780.6L1120.0,1737.6L1021.8,1741.4L1037.4,1712.9L1040.8,1787.3L1006.7,1787.3L1021.0,1768.8L1058.9,1787.3L943.5,1737.6L1040.6,1734.1L1090.0,1674.3L1035.1,1749.5L1047.8,1745.3L958.9,1780.6L1050.8,1734.1L1100.8,1638.2L1096.9,1661.5L1046.2,1724.3L1074.6,1711.4L1128.6,1682.6L1161.0,1673.8L1076.4,1768.8L1059.0,1749.5L995.3,1721.2L1138.2,1647.2L1202.9,1523.7L1294.0,1479.9L1134.6,1678.5L997.8,1774.5L1101.8,1706.5L990.6,1768.8L1094.0,1745.3L1056.7,1749.5L1067.2,1686.2L1217.3,1582.9L1141.8,1618.6L1080.3,1718.3L1152.4,1590.9L1096.2,1703.1L1196.7,1593.9L1126.0,1660.1L1085.6,1670.9L1293.9,1476.6L1051.0,1721.2L1105.6,1690.7L990.1,1724.3L1090.3,1703.2L1139.3,1667.1L1038.9,1745.3L1050.2,1753.9L1024.5,1774.5L1099.4,1749.5L1258.8,1611.0L1132.6,1712.9L1102.4,1705.2L1158.2,1595.6L1037.5,1734.1L1053.6,1763.5L1257.6,1501.3L1146.0,1626.2L1078.8,1708.1L1096.2,1573.3L1114.4,1669.2L1267.4,1498.9L1146.7,1662.8L1096.8,1668.8L1158.1,1730.7L1025.4,1780.6L1196.4,1603.8L998.8,1741.4L1081.7,1741.4L1129.7,1727.4L1240.8,1577.8L1175.4,1608.0L1118.0,1690.9L1139.6,1637.4L1218.4,1542.9L1163.3,1669.7L1157.6,1707.7L1068.9,1701.8L1055.5,1758.5L1090.4,1645.4L1175.7,1699.4L1162.5,1672.7L1239.9,1656.6L1067.3,1730.7L1310.0,1477.8L1039.4,1710.0L1135.2,1712.9L1083.2,1718.3L990.0,1971.5L853.9,1971.5L851.6,1971.5L891.7,1971.5L952.1,1971.5L889.3,1971.5L885.4,1971.5L907.8,1971.5L887.4,1971.5L855.2,1971.5L914.2,1971.5L896.5,1971.5L1000.1,1971.5L856.0,1971.5L918.6,1971.5L815.3,1971.5L794.0,1971.5L856.4,1971.5L837.9,1971.5L906.3,1971.5L926.6,1971.5L835.4,1971.5L829.2,1971.5L899.6,1971.5L771.1,1971.5L896.4,1971.5L913.2,1971.5L831.0,1971.5L961.1,1971.5L875.4,1971.5L876.7,1971.5L911.0,1971.5L863.6,1971.5L894.2,1971.5L787.2,1971.5L931.6,1971.5L852.3,1971.5L785.0,1971.5L943.3,1971.5L955.2,1971.5L919.3,1971.5L806.0,1971.5L831.3,1971.5L761.7,1971.5L888.3,1971.5L1022.0,1918.2L914.7,1918.2L950.7,1918.2L842.3,1918.2L955.4,1918.2L916.9,1918.2L912.0,1918.2L838.4,1918.2L887.3,1918.2L1011.0,1918.2L930.1,1918.2L841.0,1918.2L943.2,1918.2L872.3,1918.2L896.2,1918.2L892.0,1918.2L927.2,1918.2L874.6,1918.2L854.9,1918.2L890.5,1918.2L906.1,1918.2L952.0,1918.2L967.9,1918.2L923.0,1918.2L859.1,1918.2L845.2,1918.2L823.0,1918.2L846.7,1918.2L831.4,1918.2L821.5,1918.2L1009.0,1918.2L970.2,1918.2L875.5,1918.2L897.3,1918.2L941.2,1918.2L960.3,1918.2L914.6,1918.2L856.0,1918.2L955.8,1918.2L986.0,1918.2L842.5,1918.2L825.0,1918.2L997.1,1887.1L945.2,1887.1L962.2,1887.1L832.7,1887.1L982.1,1887.1L915.8,1887.1L839.1,1887.1L907.1,1887.1L977.6,1887.1L905.3,1887.1L916.6,1887.1L890.1,1887.1L942.5,1887.1L943.4,1887.1L933.7,1887.1L878.7,1887.1L923.2,1887.1L831.4,1887.1L928.9,1887.1L957.1,1887.1L1013.6,1887.1L969.0,1887.1L931.8,1887.1L907.5,1887.1L1026.0,1887.1L947.9,1887.1L899.9,1887.1L1047.4,1887.1L955.7,1887.1L1003.8,1887.1L863.1,1887.1L920.1,1887.1L975.3,1887.1L901.5,1887.1L951.2,1887.1L882.5,1865.0L941.7,1865.0L900.7,1865.0L874.3,1865.0L1087.2,1865.0L944.9,1865.0L904.4,1865.0L952.8,1865.0L933.9,1865.0L850.4,1865.0L959.4,1865.0L921.1,1865.0L958.2,1865.0L945.5,1865.0L978.8,1865.0L962.0,1865.0L935.3,1865.0L922.0,1865.0L920.1,1865.0L917.3,1865.0L937.4,1865.0L984.6,1865.0L942.4,1865.0L981.6,1865.0L950.4,1865.0L942.9,1865.0L918.1,1865.0L1034.7,1865.0L1010.1,1865.0L934.6,1865.0L922.6,1865.0L950.1,1865.0L1002.3,1865.0L829.1,1865.0L985.2,1865.0L946.0,1865.0L899.6,1865.0L912.7,1865.0L977.7,1865.0L919.7,1865.0L868.2,1865.0L918.0,1865.0L949.1,1865.0L876.4,1865.0L941.9,1865.0L1009.5,1847.9L1001.0,1847.9L878.6,1847.9L899.3,1847.9L968.9,1847.9L1019.7,1847.9L866.2,1847.9L1024.2,1847.9L970.6,1847.9L1050.1,1847.9L847.4,1847.9L1024.5,1847.9L930.1,1847.9L918.5,1847.9L896.1,1847.9L887.8,1847.9L953.6,1847.9L1010.9,1847.9L1073.6,1847.9L905.1,1847.9L874.7,1847.9L969.9,1847.9L880.2,1847.9L904.2,1847.9L1039.8,1847.9L950.0,1847.9L974.7,1847.9L926.0,1847.9L858.8,1847.9L937.4,1847.9L1023.9,1847.9L889.7,1847.9L859.8,1833.9L896.1,1833.9L940.0,1833.9L977.6,1833.9L944.9,1833.9L891.8,1833.9L1022.7,1833.9L883.7,1833.9L915.5,1833.9L1009.1,1833.9L999.2,1833.9L905.7,1833.9L921.9,1833.9L1002.1,1833.9L997.4,1833.9L1023.0,1833.9L1047.1,1833.9L948.6,1833.9L921.4,1833.9L870.8,1833.9L1004.0,1833.9L926.1,1833.9L992.2,1833.9L911.4,1833.9L844.2,1833.9L931.8,1833.9L961.6,1833.9L979.3,1833.9L921.1,1833.9L913.0,1833.9L960.8,1833.9L939.3,1833.9L1037.7,1822.0L1009.4,1822.0L944.8,1822.0L982.3,1822.0L1031.3,1822.0L958.4,1822.0L1091.8,1822.0L1083.6,1822.0L955.2,1822.0L1001.9,1822.0L1044.6,1822.0L977.2,1822.0L940.0,1822.0L1023.8,1822.0L931.9,1822.0L1062.6,1822.0L1006.0,1822.0L979.8,1822.0L980.2,1822.0L1057.5,1822.0L892.8,1822.0L932.2,1822.0L965.1,1822.0L1010.3,1822.0L961.9,1822.0L1058.3,1822.0L1004.7,1822.0L1048.2,1822.0L994.6,1822.0L944.0,1822.0L1033.6,1822.0L1006.2,1822.0L1009.2,1822.0L922.0,1822.0L976.0,1822.0L971.6,1822.0L1059.3,1822.0L1019.5,1822.0L1024.4,1822.0L1061.4,1822.0L925.5,1822.0L1029.1,1822.0L1028.5,1822.0L985.2,1822.0L971.2,1822.0L924.1,1811.8L932.2,1811.8L944.0,1811.8L974.9,1811.8L989.6,1811.8L990.1,1811.8L971.0,1811.8L956.5,1811.8L926.1,1811.8L1022.3,1811.8L953.2,1811.8L956.0,1811.8L1040.6,1811.8L951.8,1811.8L996.1,1811.8L1055.3,1811.8L1010.0,1811.8L984.3,1811.8L1007.0,1811.8L994.2,1811.8L986.8,1811.8L1005.8,1811.8L1056.7,1811.8L1017.5,1811.8L1041.8,1811.8L1006.0,1811.8L961.0,1811.8L1031.7,1811.8L988.8,1811.8L936.8,1811.8L972.8,1811.8L983.0,1811.8L1005.5,1811.8L1042.4,1811.8L1012.9,1811.8L1020.3,1802.7L947.3,1802.7L1001.8,1802.7L1031.3,1802.7L974.4,1802.7L995.8,1802.7L995.8,1802.7L944.4,1802.7L1044.5,1802.7L1000.0,1802.7L998.5,1802.7L1004.0,1802.7L981.9,1802.7L1022.4,1802.7L1006.8,1802.7L929.3,1802.7L1007.7,1802.7L1021.3,1802.7L1043.9,1802.7L963.4,1802.7L1032.4,1802.7L1024.4,1802.7L1012.2,1802.7L1048.8,1802.7L1018.5,1802.7L976.8,1802.7L980.2,1802.7L965.4,1802.7L1023.8,1802.7L947.4,1802.7L1051.5,1802.7L990.9,1802.7L1004.0,1802.7L950.4,1802.7L1050.0,1802.7L1018.9,1794.6L1001.0,1794.6L966.5,1794.6L1042.1,1794.6L1045.8,1794.6L1074.4,1794.6L993.8,1794.6L987.3,1794.6L970.0,1794.6L994.3,1794.6L983.7,1794.6L1033.2,1794.6L969.4,1794.6L1063.6,1794.6L1042.0,1794.6L998.8,1794.6L1022.8,1794.6L905.6,1794.6L1008.0,1794.6L1023.8,1794.6L983.2,1794.6L1049.0,1794.6L978.3,1794.6L1025.1,1794.6L1008.9,1794.6L1011.4,1794.6L1075.4,1794.6L986.9,1794.6L1022.0,1794.6L1003.0,1794.6L1010.7,1794.6L1080.8,1794.6L972.7,1794.6L1026.5,1794.6L1044.4,1794.6L994.2,1794.6L1042.5,1794.6L978.6,1794.6L1018.7,1794.6L1028.6,1794.6L1609.5,1207.9L1590.6,1254.2L1581.1,1257.1L1565.9,1266.4L1590.0,1266.8L1551.0,1273.0L1564.3,1284.7L1480.9,1292.9L1517.0,1296.1L1533.1,1319.9L1487.1,1330.9L1514.3,1337.3L1464.5,1343.6L1483.2,1341.9L1509.9,1346.5L1523.4,1353.3L1425.9,1361.4L1459.7,1363.5L1430.7,1369.7L1462.0,1372.0L1474.0,1366.6L1486.7,1366.8L1493.5,1369.7L1412.6,1380.1L1424.9,1383.6L1437.7,1381.5L1449.3,1386.9L1425.5,1389.4L1415.7,1392.3L1409.5,1397.5L1378.6,1395.9L1433.2,1401.9L1413.7,1404.4L1486.7,1401.5L1441.0,1409.1L1434.6,1411.6L1369.9,1410.6L1384.0,1411.6L1372.8,1414.5L1378.0,1419.3L1415.7,1414.5L1415.7,1419.3L1400.2,1418.7L1396.0,1422.2L1398.9,1428.0L1460.8,1418.0L1505.1,1418.1L1433.6,1426.4L1429.8,1429.0L1445.2,1429.9L1436.5,1433.4L1421.1,1434.2L1415.3,1436.1L1362.8,1430.9L1372.4,1429.9L1379.6,1433.8L1363.2,1438.6L1379.6,1438.6L1383.4,1441.9L1389.8,1445.0L1396.0,1443.4L1396.0,1449.2L1341.9,1431.9L1428.8,1448.8L1412.6,1451.2L1408.5,1456.0L1413.4,1459.8L1424.9,1460.2L1447.1,1455.4L1351.2,1450.2L1369.9,1455.0L1374.7,1455.0L1379.6,1454.6L1367.0,1458.9L1375.7,1460.8L1381.5,1461.2L1351.6,1461.2L1362.2,1466.0L1392.1,1471.2L1373.8,1473.7L1380.5,1475.3L1343.9,1458.9L1346.8,1468.5L1345.8,1475.3L1350.6,1478.2L1357.4,1478.2L1364.1,1484.0L1353.5,1485.9L1346.8,1484.0L1398.9,1483.0L1406.0,1483.0L1429.2,1485.5L1386.9,1487.8L1374.4,1490.2L847.2,1641.2L846.6,1650.9" fill="none" stroke="none" marker-start="url(#x)" marker-mid="url(#x)" marker-end="url(#x)"/>
<g font-size="39.5" fill="#000">
<text x="1382.9" y="1299.9" font-style="italic">psaF</text>
<text x="1525.6" y="1428.2" font-style="italic">psbT</text>
<text x="1465.3" y="1473.4">A0542</text>
<text x="1441.7" y="1518.1">C0011</text>
<text x="865.0" y="1630.6">A2492</text>
<text x="861.9" y="1683.8">A2493</text>
</g>
<text x="789.0" y="2143.2" font-size="42" fill="#111">Relative transcript abundance (autotrophic, std)</text>
<text transform="translate(600.0 1990.0) rotate(-90)" font-size="42" fill="#111">Relative transcript abundance (mixotrophic)</text>
<text x="577.0" y="1104.7" font-size="40" font-weight="bold" fill="#000">C</text>
</g>
</svg></body></html>
